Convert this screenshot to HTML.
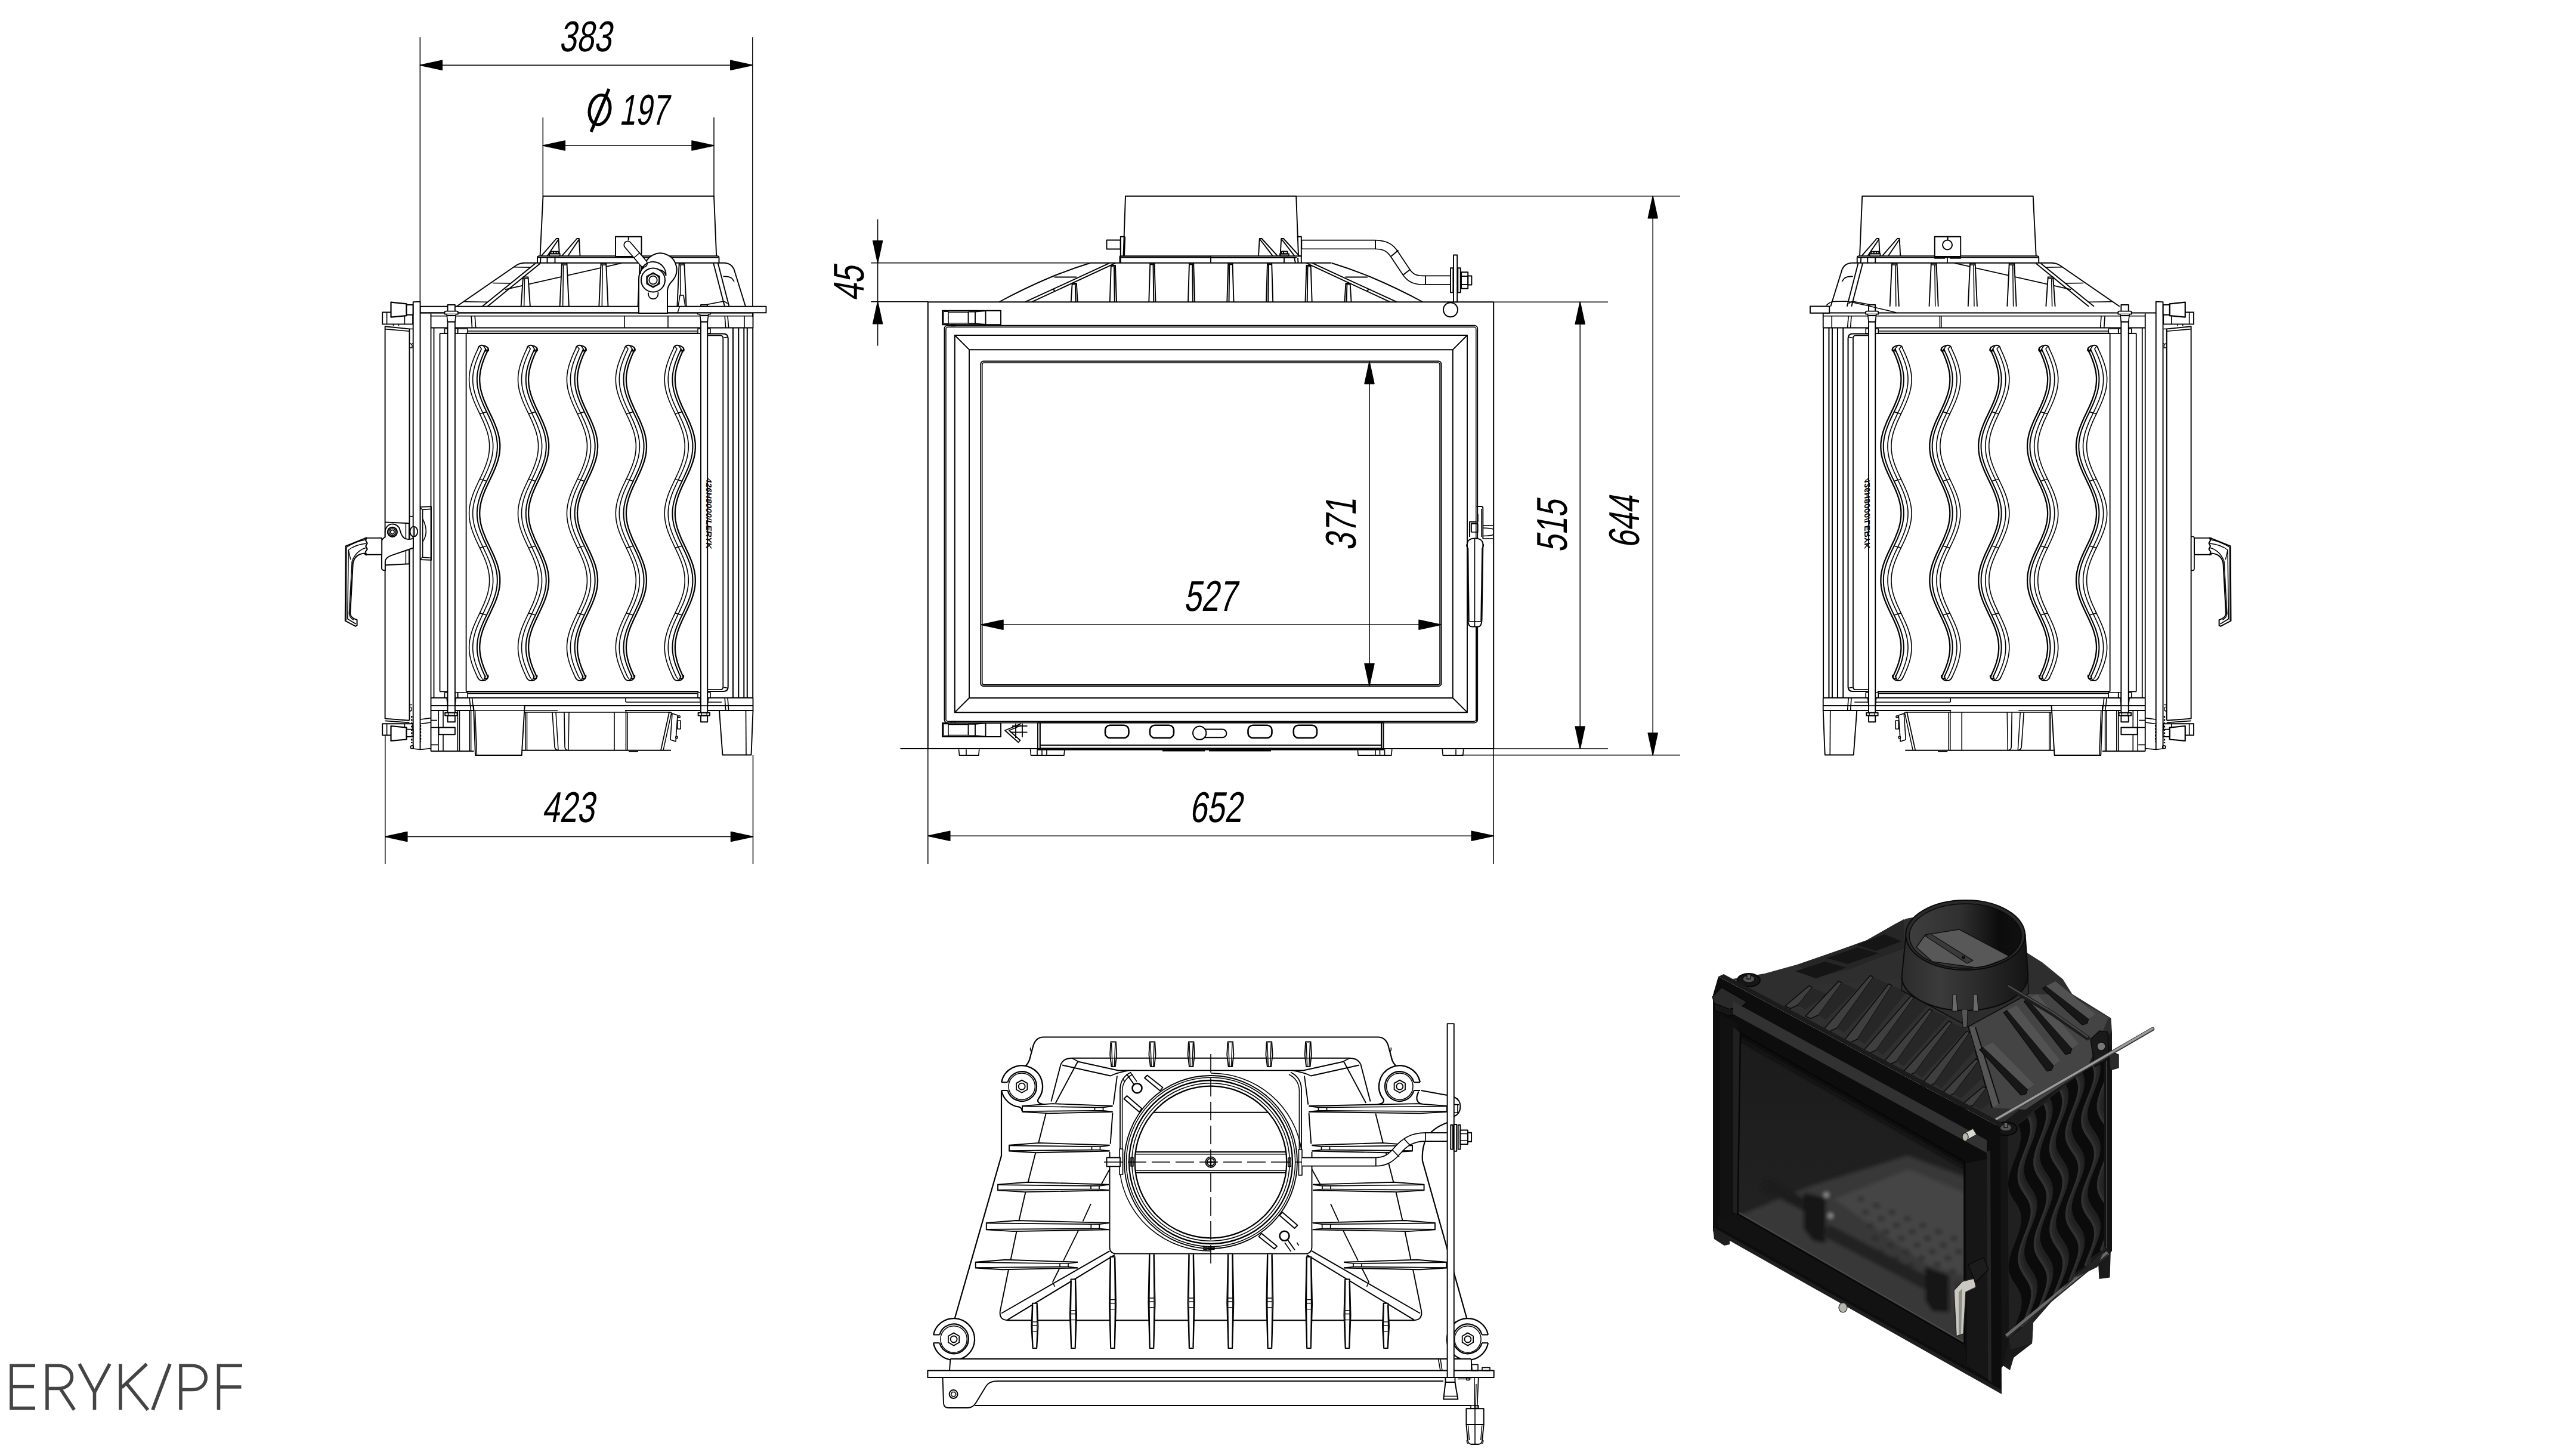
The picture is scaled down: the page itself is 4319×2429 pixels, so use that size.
<!DOCTYPE html>
<html><head><meta charset="utf-8"><title>ERYK/PF</title>
<style>
html,body{margin:0;padding:0;background:#fff;}
svg{display:block}
.t{font-family:"Liberation Sans",sans-serif;fill:#000;stroke:none}
.ln path,.ln rect,.ln circle,.ln ellipse{fill:none}
</style></head><body>
<svg width="4319" height="2429" viewBox="0 0 4319 2429" font-family="Liberation Sans, sans-serif">
<rect width="4319" height="2429" fill="#fff"/>
<g fill="none" stroke="#000" stroke-width="1.9" stroke-linecap="butt" stroke-linejoin="round">
<style>.dim path{stroke-width:1.5}</style>
<!-- dims -->
<g class="dim">
<path d="M704.3,62.3L704.3,513.0"/>
<path d="M1261.8,62.3L1261.8,531.0"/>
<path d="M704.3,109.2L1261.8,109.2"/>
<path d="M704.3,109.2L741.3,101.2L741.3,117.2Z" stroke-width="0.5" fill="#000"/>
<path d="M1261.8,109.2L1224.8,101.2L1224.8,117.2Z" stroke-width="0.5" fill="#000"/>
<path d="M910.3,196.8L910.3,329.0"/>
<path d="M1197.0,196.8L1197.0,329.0"/>
<path d="M910.3,243.9L1197.0,243.9"/>
<path d="M910.3,243.9L947.3,235.9L947.3,251.9Z" stroke-width="0.5" fill="#000"/>
<path d="M1197.0,243.9L1160.0,235.9L1160.0,251.9Z" stroke-width="0.5" fill="#000"/>
<path d="M645.8,1215.0L645.8,1448.0"/>
<path d="M1262.5,1266.0L1262.5,1448.0"/>
<path d="M645.8,1402.4L1262.5,1402.4"/>
<path d="M645.8,1402.4L682.8,1394.4L682.8,1410.4Z" stroke-width="0.5" fill="#000"/>
<path d="M1262.5,1402.4L1225.5,1394.4L1225.5,1410.4Z" stroke-width="0.5" fill="#000"/>
<path d="M1471.6,367.6L1471.6,579.6"/>
<path d="M1460.2,440.7L1828.0,440.7"/>
<path d="M1460.2,505.8L1556.0,505.8"/>
<path d="M1471.6,440.7L1463.6,403.7L1479.6,403.7Z" stroke-width="0.5" fill="#000"/>
<path d="M1471.6,505.8L1463.6,542.8L1479.6,542.8Z" stroke-width="0.5" fill="#000"/>
<path d="M1555.8,1255.0L1555.8,1448.0"/>
<path d="M2504.2,1255.0L2504.2,1448.0"/>
<path d="M1555.8,1401.2L2504.2,1401.2"/>
<path d="M1555.8,1401.2L1592.8,1393.2L1592.8,1409.2Z" stroke-width="0.5" fill="#000"/>
<path d="M2504.2,1401.2L2467.2,1393.2L2467.2,1409.2Z" stroke-width="0.5" fill="#000"/>
<path d="M2649.2,506.2L2649.2,1255.0"/>
<path d="M2504.0,506.2L2696.0,506.2"/>
<path d="M2504.0,1255.0L2696.0,1255.0"/>
<path d="M2649.2,506.2L2641.2,543.2L2657.2,543.2Z" stroke-width="0.5" fill="#000"/>
<path d="M2649.2,1255.0L2641.2,1218.0L2657.2,1218.0Z" stroke-width="0.5" fill="#000"/>
<path d="M2771.2,328.8L2771.2,1265.8"/>
<path d="M2173.0,328.8L2817.0,328.8"/>
<path d="M2450.0,1265.8L2817.0,1265.8"/>
<path d="M2771.2,328.8L2763.2,365.8L2779.2,365.8Z" stroke-width="0.5" fill="#000"/>
<path d="M2771.2,1265.8L2763.2,1228.8L2779.2,1228.8Z" stroke-width="0.5" fill="#000"/>
<path d="M2296.0,607.0L2296.0,1149.0"/>
<path d="M2296.0,606.5L2288.0,643.5L2304.0,643.5Z" stroke-width="0.5" fill="#000"/>
<path d="M2296.0,1149.5L2288.0,1112.5L2304.0,1112.5Z" stroke-width="0.5" fill="#000"/>
<path d="M1645.0,1047.2L2416.0,1047.2"/>
<path d="M1645.0,1047.2L1682.0,1039.2L1682.0,1055.2Z" stroke-width="0.5" fill="#000"/>
<path d="M2416.0,1047.2L2379.0,1039.2L2379.0,1055.2Z" stroke-width="0.5" fill="#000"/>
</g>
<text transform="matrix(0.728,0,-0.18,1,937.0,85.6)" font-size="72.3" class="t">383</text>
<text transform="matrix(0.675,0,-0.18,1,1038.0,208.8)" font-size="72.3" class="t">197</text>
<ellipse cx="1005.5" cy="184" rx="17" ry="25" transform="rotate(12 1005.5 184)" fill="none" stroke="#000" stroke-width="5.2"/>
<path d="M991.0,221.0L1021.0,149.0" stroke-width="5.2"/>
<text transform="matrix(0.728,0,-0.18,1,908.5,1377.5)" font-size="72.3" class="t">423</text>
<text transform="matrix(0.728,0,-0.18,1,1994.0,1378.2)" font-size="72.3" class="t">652</text>
<text transform="matrix(0.728,0,-0.18,1,1984.5,1024.0)" font-size="72.3" class="t">527</text>
<text transform="matrix(0,-0.728,1,0.18,1447.6,505.0)" font-size="72.3" class="t">45</text>
<text transform="matrix(0,-0.728,1,0.18,2626.5,926.5)" font-size="72.3" class="t">515</text>
<text transform="matrix(0,-0.728,1,0.18,2747.6,919.5)" font-size="72.3" class="t">644</text>
<text transform="matrix(0,-0.728,1,0.18,2272.7,923.5)" font-size="72.3" class="t">371</text>
<g fill="none" stroke="#444" stroke-width="5.6" stroke-linecap="butt" stroke-linejoin="miter">
<path d="M59,2289.2H19V2360.6H59M19,2324.5H57"/>
<path d="M79,2363.4V2289.2H98C128,2289.2 128,2327.5 98,2327.5H79M101,2327.5L124.5,2363.4"/>
<path d="M133,2286.3999999999996L158.5,2334L184,2286.3999999999996M158.5,2334V2363.4"/>
<path d="M202,2286.3999999999996V2363.4M246,2286.3999999999996L204,2326M212,2319L248,2363.4"/>
<path d="M285,2286.3999999999996L256,2363.4"/>
<path d="M303,2363.4V2289.2H322C353,2289.2 353,2329.5 322,2329.5H303"/>
<path d="M406,2289.2H366.5V2363.4M366.5,2325H404.5"/>
</g>
<!-- front -->
<path d="M1883.5,429.2L1887.0,328.8L2173.2,328.8L2177.0,429.2"/>
<path d="M1878.8,440.0L1878.8,396.8L1886.2,396.8"/>
<path d="M1886.2,396.8L1885.0,429.2"/>
<path d="M2174.5,396.8L2181.8,396.8L2181.8,440.0"/>
<path d="M2176.0,429.2L2181.8,429.2"/>
<rect x="1855.5" y="402.5" width="23.2" height="15.0"/>
<path d="M1877.5,429.2L2182.5,429.2"/>
<path d="M1879.0,431.5L2030.0,431.5"/>
<path d="M2030.0,432.0L2174.0,432.0"/>
<path d="M1877.5,429.2L1877.5,440.8"/>
<path d="M2030.0,429.2L2030.0,440.8"/>
<path d="M2153.0,432.0L2153.0,440.8"/>
<path d="M2170.0,432.0L2172.0,440.8"/>
<path d="M2176.0,432.0L2176.5,440.8"/>
<path d="M1827.5,440.8L2232.5,440.8"/>
<path d="M2110.0,429.2L2111.8,400.0L2115.5,400.0L2142.0,429.2"/>
<path d="M2112.7,401.5L2134.0,429.2"/>
<path d="M2146.5,429.2L2148.2,400.0L2152.0,400.0L2178.5,429.2"/>
<path d="M2149.2,401.5L2170.5,429.2"/>
<rect x="2146.0" y="425.5" width="15.0" height="3.8"/>
<rect x="2148.5" y="421.5" width="10.0" height="4.0"/>
<path d="M2152.0,421.5L2152.0,425.5"/>
<path d="M1827.5,441 Q1795.0,451 1762.0,464.5 Q1718.0,483 1675.0,506.25"/>
<path d="M1860.0,441.2L1718.8,506.2"/>
<path d="M1870.0,441.2L1730.0,506.2"/>
<path d="M1767.5,464.5L1805.0,464.5"/>
<path d="M1764.5,484.5L1768.5,487.3"/>
<path d="M2233.0,441 Q2265.5,451 2298.5,464.5 Q2342.5,483 2385.5,506.25"/>
<path d="M2200.5,441.2L2341.8,506.2"/>
<path d="M2190.5,441.2L2330.5,506.2"/>
<path d="M2293.0,464.5L2255.5,464.5"/>
<path d="M2296.0,484.5L2292.0,487.3"/>
<path d="M1795.7,506.2L1797.7,475.0L1804.8,475.0L1806.8,506.2"/>
<path d="M1802.8,477.0L1803.7,506.2"/>
<path d="M1797.7,477.0L1804.8,477.0" stroke-width="1.5"/>
<path d="M1860.8,506.2L1862.8,445.0L1870.0,445.0L1872.0,506.2"/>
<path d="M1868.0,447.0L1868.8,506.2"/>
<path d="M1862.8,447.0L1870.0,447.0" stroke-width="1.5"/>
<path d="M1926.3,506.2L1928.3,441.5L1935.5,441.5L1937.5,506.2"/>
<path d="M1933.5,443.5L1934.3,506.2"/>
<path d="M1928.3,443.5L1935.5,443.5" stroke-width="1.5"/>
<path d="M1992.0,506.2L1994.0,441.5L2001.2,441.5L2003.2,506.2"/>
<path d="M1999.2,443.5L2000.0,506.2"/>
<path d="M1994.0,443.5L2001.2,443.5" stroke-width="1.5"/>
<path d="M2057.3,506.2L2059.3,441.5L2066.5,441.5L2068.5,506.2"/>
<path d="M2061.3,443.5L2060.5,506.2"/>
<path d="M2059.3,443.5L2066.5,443.5" stroke-width="1.5"/>
<path d="M2123.0,506.2L2125.0,441.5L2132.2,441.5L2134.2,506.2"/>
<path d="M2127.0,443.5L2126.2,506.2"/>
<path d="M2125.0,443.5L2132.2,443.5" stroke-width="1.5"/>
<path d="M2188.5,506.2L2190.5,445.0L2197.7,445.0L2199.7,506.2"/>
<path d="M2192.5,447.0L2191.7,506.2"/>
<path d="M2190.5,447.0L2197.7,447.0" stroke-width="1.5"/>
<path d="M2254.4,506.2L2256.4,475.0L2263.6,475.0L2265.6,506.2"/>
<path d="M2258.4,477.0L2257.6,506.2"/>
<path d="M2256.4,477.0L2263.6,477.0" stroke-width="1.5"/>
<path d="M1555.8,506.2L1555.8,1255.0" stroke-width="2"/>
<path d="M2504.2,506.2L2504.2,1255.0" stroke-width="2"/>
<path d="M1555.8,506.2L2504.2,506.2"/>
<path d="M1509.5,1255.0L2504.2,1255.0"/>
<rect x="1583.5" y="545.8" width="893.7" height="665.8" rx="5"/>
<rect x="1586.0" y="548.2" width="888.8" height="661.0" stroke-width="1.5" rx="3.5"/>
<rect x="1600.8" y="562.0" width="859.2" height="632.2"/>
<rect x="1625.0" y="586.2" width="810.8" height="583.8"/>
<path d="M1600.8,562.0L1625.0,586.2"/>
<path d="M2460.0,562.0L2435.8,586.2"/>
<path d="M1600.8,1194.2L1625.0,1170.0"/>
<path d="M2460.0,1194.2L2435.8,1170.0"/>
<rect x="1644.3" y="605.5" width="772.1" height="544.7" rx="4.5"/>
<rect x="1646.8" y="608.0" width="767.2" height="539.8" stroke-width="1.5" rx="3"/>
<rect x="1580.0" y="520.8" width="98.0" height="23.5"/>
<rect x="1582.0" y="522.2" width="8.0" height="20.5" stroke-width="1.5"/>
<path d="M1590.0,523.2L1623.5,523.2" stroke-width="1.5"/>
<path d="M1590.0,541.8L1623.5,541.8" stroke-width="1.5"/>
<path d="M1623.5,522.8L1623.5,542.2"/>
<path d="M1635.0,522.8L1635.0,542.2"/>
<path d="M1652.5,521.2L1652.5,543.8"/>
<path d="M1635.0,522.8L1652.5,521.2" stroke-width="1.5"/>
<path d="M1635.0,542.2L1652.5,543.8" stroke-width="1.5"/>
<path d="M1623.5,522.8L1635.0,522.8" stroke-width="1.5"/>
<path d="M1623.5,542.2L1635.0,542.2" stroke-width="1.5"/>
<rect x="1580.0" y="1212.0" width="98.0" height="23.0"/>
<rect x="1582.0" y="1213.5" width="8.0" height="20.0" stroke-width="1.5"/>
<path d="M1590.0,1214.5L1623.5,1214.5" stroke-width="1.5"/>
<path d="M1590.0,1232.5L1623.5,1232.5" stroke-width="1.5"/>
<path d="M1623.5,1214.0L1623.5,1233.0"/>
<path d="M1635.0,1214.0L1635.0,1233.0"/>
<path d="M1652.5,1212.5L1652.5,1234.5"/>
<path d="M1635.0,1214.0L1652.5,1212.5" stroke-width="1.5"/>
<path d="M1635.0,1233.0L1652.5,1234.5" stroke-width="1.5"/>
<path d="M1623.5,1214.0L1635.0,1214.0" stroke-width="1.5"/>
<path d="M1623.5,1233.0L1635.0,1233.0" stroke-width="1.5"/>
<rect x="1594.5" y="544.2" width="7.5" height="2.2" stroke-width="1.5"/>
<rect x="1594.5" y="1209.5" width="7.5" height="2.5" stroke-width="1.5"/>
<path d="M1712.0,1213.0L1685.0,1224.5L1707.5,1244.5L1710.5,1241.0L1692.0,1224.5L1712.0,1216.0" stroke-width="1.8"/>
<path d="M1703.0,1213.0L1703.0,1237.0" stroke-width="1.8"/>
<path d="M1714.0,1213.0L1714.0,1236.0" stroke-width="1.8"/>
<path d="M1697.0,1217.0L1722.5,1217.0" stroke-width="1.8"/>
<path d="M1694.0,1227.5L1722.5,1227.5" stroke-width="1.8"/>
<rect x="1740.0" y="1211.2" width="579.5" height="45.5"/>
<path d="M1743.8,1211.2L1743.8,1256.8" stroke-width="2.2"/>
<path d="M2316.2,1211.2L2316.2,1256.8" stroke-width="2.2"/>
<path d="M1743.8,1249.2L2316.2,1249.2"/>
<path d="M1743.8,1254.2L2316.2,1254.2" stroke-width="1.5"/>
<path d="M1949.0,1258.3L2020.0,1258.3" stroke-width="2.4"/>
<path d="M2027.0,1258.3L2131.0,1258.3" stroke-width="2.4"/>
<rect x="1853.0" y="1215.8" width="39.5" height="21.2" stroke-width="2.6" rx="8"/>
<rect x="1928.0" y="1215.8" width="40.0" height="21.2" stroke-width="2.6" rx="8"/>
<rect x="2092.5" y="1215.8" width="40.0" height="21.2" stroke-width="2.6" rx="8"/>
<rect x="2168.8" y="1215.8" width="39.2" height="21.2" stroke-width="2.6" rx="8"/>
<path d="M2020,1222.5H2049.5A6.9,6.9 0 0 1 2049.5,1236.3H2020" stroke-width="2"/>
<circle cx="2011.2" cy="1228.8" r="11.2" stroke-width="2" fill="#fff"/>
<path d="M1607.5,1256.2L1608.5,1266.2L1640.8,1266.2L1641.8,1256.2" stroke-width="1.6"/>
<path d="M1620.0,1256.2L1620.0,1266.2" stroke-width="1.6"/>
<path d="M1727.5,1256.2L1728.5,1266.2L1784.0,1266.2L1785.0,1256.2" stroke-width="1.6"/>
<path d="M1739.0,1256.2L1739.0,1266.2" stroke-width="1.6"/>
<path d="M1747.0,1256.2L1747.0,1266.2" stroke-width="1.6"/>
<path d="M1755.0,1256.2L1755.0,1266.2" stroke-width="1.6"/>
<path d="M2276.2,1256.2L2277.2,1266.2L2332.8,1266.2L2333.8,1256.2" stroke-width="1.6"/>
<path d="M2306.0,1256.2L2306.0,1266.2" stroke-width="1.6"/>
<path d="M2313.5,1256.2L2313.5,1266.2" stroke-width="1.6"/>
<path d="M2321.5,1256.2L2321.5,1266.2" stroke-width="1.6"/>
<path d="M2418.2,1256.2L2419.2,1266.2L2452.8,1266.2L2453.8,1256.2" stroke-width="1.6"/>
<path d="M2441.0,1256.2L2441.0,1266.2" stroke-width="1.6"/>
<path d="M2182.3,409.9H2304C2322,409.9 2330.5,415 2337.8,426L2358.5,457C2366,467.5 2374,469.8 2390,469.8H2432" stroke-width="16.4" stroke-linecap="butt"/>
<path d="M2182.3,409.9H2304C2322,409.9 2330.5,415 2337.8,426L2358.5,457C2366,467.5 2374,469.8 2390,469.8H2432" stroke-width="13" stroke="#fff" stroke-linecap="butt"/>
<path d="M2182.3,402.5L2182.3,417.5"/>
<path d="M2306.0,402.5L2306.0,417.3"/>
<path d="M2344.5,419.5L2332.5,429.5"/>
<path d="M2364.5,451.5L2353.0,460.5"/>
<path d="M2390.0,462.5L2390.0,477.0"/>
<rect x="2437.0" y="427.5" width="6.2" height="78.8" fill="#fff"/>
<rect x="2432.0" y="449.2" width="4.4" height="41.2" fill="#fff"/>
<rect x="2444.3" y="449.2" width="4.4" height="41.2" fill="#fff"/>
<rect x="2450.0" y="456.2" width="11.2" height="27.5" fill="#fff"/>
<path d="M2450.0,463.0L2461.2,463.0"/>
<path d="M2450.0,477.0L2461.2,477.0"/>
<rect x="2461.2" y="462.5" width="6.2" height="15.0"/>
<circle cx="2432.0" cy="519.2" r="12.0" stroke-width="2"/>
<path d="M2475.5,849H2483.5Q2486.3,849 2486.3,852V903"/>
<path d="M2483.8,853.0L2483.8,900.0" stroke-width="1.5"/>
<path d="M2475.5,874.8L2464.0,874.8L2464.0,900.0"/>
<path d="M2466.5,877.5L2475.5,877.5" stroke-width="1.5"/>
<path d="M2466.5,877.5L2466.5,892.0" stroke-width="1.5"/>
<path d="M2478.0,862.0L2478.0,874.8" stroke-width="1.5"/>
<rect x="2467.0" y="878.0" width="10.8" height="14.0" stroke-width="1.5"/>
<path d="M2486.3,880.8H2503.4M2486.3,903H2503.4M2486.3,885Q2500,885.5 2503.4,887M2486.3,898.5Q2500,898 2503.4,896.5" stroke-width="1.6"/>
<path d="M2460,915C2459,905 2466,902.5 2472.5,902.5C2480,902.5 2487.5,905 2486.3,915L2484.5,1040Q2484,1050.5 2478,1050.5H2468Q2461.5,1050.5 2461.3,1040Z" stroke-width="2.0" fill="#fff"/>
<path d="M2461.5,918L2463,1041M2485,918L2483,1041" stroke-width="1.5"/>
<path d="M2472.5,902.5L2472.5,1050.5" stroke-width="1.6"/>
<path d="M2462.5,1042.0L2483.5,1042.0" stroke-width="1.6"/>
<path d="M2459.5,912Q2458,915 2460.5,918M2487,912Q2488,915 2486,918" stroke-width="1.6"/>
<path d="M2475.5,1050.5L2475.5,1209.0" stroke-width="1.5"/>
<!-- side -->
<g id="sideL">
<path d="M905.5,429.5L910.5,328.8L1197.0,328.8L1201.2,429.5"/>
<path d="M901,440.75V432Q901,429.25 904,429.25H1202.5Q1205.5,429.25 1205.5,432V440.75"/>
<path d="M902.0,431.8L1204.5,431.8" stroke-width="1.5"/>
<path d="M906.5,431.8L906.0,440.8"/>
<path d="M917.5,431.8L917.5,440.8"/>
<path d="M930.5,431.8L930.5,440.8"/>
<rect x="1032.0" y="396.8" width="43.5" height="33.2" fill="#fff"/>
<path d="M1053.7,396.8L1053.7,403.0"/>
<path d="M907.5,429.2L932.8,400.0L936.4,400.0L938.0,429.2"/>
<path d="M917.5,429.2L936.2,401.5"/>
<path d="M942.0,429.2L967.3,400.0L970.9,400.0L972.5,429.2"/>
<path d="M952.0,429.2L970.7,401.5"/>
<rect x="921.2" y="425.2" width="17.5" height="4.1" fill="#fff"/>
<rect x="923.5" y="421.8" width="13.0" height="3.4" fill="#fff"/>
<path d="M928.0,421.8L928.0,425.2"/>
<path d="M932.5,421.8L932.5,425.2"/>
<path d="M1215,440.75H880Q872,440.75 866,444.5L765.5,513.75"/>
<path d="M897.7,441.5L808.3,513.8"/>
<path d="M905.8,441.5L817.2,513.8"/>
<path d="M861.5,447.8L889.5,448.2" stroke-width="1.6"/>
<path d="M826.0,474.5L856.8,474.9" stroke-width="1.6"/>
<path d="M778.8,505.7L817.0,506.3" stroke-width="1.6"/>
<path d="M1215,440.75Q1226,441.5 1230.5,451L1250,513.75"/>
<path d="M1196.2,441.2L1215.0,513.8"/>
<path d="M1203.8,441.2L1222.5,513.8"/>
<path d="M1212.5,463.5Q1222,463 1227,466.5L1231,472" stroke-width="1.7"/>
<path d="M1175,512.5L1211,505.5Q1216,505 1219.5,509" stroke-width="1.7"/>
<path d="M1042.0,441.2L846.8,485.3" stroke-width="1.7"/>
<path d="M873.6,513.8L877.0,464.5L885.5,464.5L888.9,513.8" fill="#fff"/>
<path d="M879.6,467.0L878.6,513.8" stroke-width="1.5"/>
<path d="M877.0,467.0L885.5,467.0" stroke-width="1.5"/>
<path d="M938.6,513.8L942.0,441.5L950.5,441.5L953.9,513.8" fill="#fff"/>
<path d="M944.6,444.0L943.6,513.8" stroke-width="1.5"/>
<path d="M942.0,444.0L950.5,444.0" stroke-width="1.5"/>
<path d="M1004.3,513.8L1007.6,441.5L1016.2,441.5L1019.5,513.8" fill="#fff"/>
<path d="M1010.2,444.0L1009.3,513.8" stroke-width="1.5"/>
<path d="M1007.6,444.0L1016.2,444.0" stroke-width="1.5"/>
<path d="M1069.5,513.8L1072.8,441.5L1081.4,441.5L1084.7,513.8" fill="#fff"/>
<path d="M1075.4,444.0L1074.5,513.8" stroke-width="1.5"/>
<path d="M1072.8,444.0L1081.4,444.0" stroke-width="1.5"/>
<path d="M1135.4,513.8L1138.7,441.5L1147.3,441.5L1150.6,513.8" fill="#fff"/>
<path d="M1141.3,444.0L1140.4,513.8" stroke-width="1.5"/>
<path d="M1138.7,444.0L1147.3,444.0" stroke-width="1.5"/>
<path d="M1137.0,513.8L1140.0,495.0L1146.0,495.0L1149.0,513.8" stroke-width="1.6" fill="#fff"/>
<path d="M704.5,524.5L1262.5,524.5"/>
<path d="M722.5,529.7H1262.5" stroke-width="1.6"/>
<path d="M722.5,525.5L722.5,549.6"/>
<path d="M722.5,549.6L1262.5,549.6" stroke-width="2"/>
<path d="M1262.5,524.5L1262.5,549.6"/>
<path d="M790.2,529.7L791.5,549.6" stroke-width="1.6"/>
<path d="M796.2,529.7L797.7,549.6" stroke-width="1.6"/>
<path d="M1047.0,529.7L1047.0,549.6" stroke-width="1.6"/>
<path d="M1120.0,529.7L1120.0,549.6" stroke-width="1.6"/>
<path d="M1215.2,529.7L1216.7,549.6" stroke-width="1.6"/>
<path d="M1220.0,529.7L1221.7,549.6" stroke-width="1.6"/>
<path d="M1248.0,529.7L1248.0,549.6" stroke-width="1.6"/>
<path d="M781.6,558.9L1171.0,558.9" stroke-width="2.4"/>
<path d="M784.0,555.0L1169.0,555.0" stroke-width="1.5"/>
<rect x="745.5" y="551.0" width="5.0" height="7.9" stroke-width="1.6"/>
<rect x="762.9" y="551.0" width="4.6" height="7.9" stroke-width="1.6"/>
<rect x="767.5" y="551.0" width="16.5" height="7.9" stroke-width="1.6"/>
<rect x="1186.2" y="551.0" width="4.8" height="7.9" stroke-width="1.6"/>
<rect x="1170.0" y="551.0" width="5.0" height="7.9" stroke-width="1.6"/>
<path d="M722.5,549.6L722.5,1169.8" stroke-width="1.8"/>
<path d="M727.5,549.6L727.5,1169.8" stroke-width="1.8"/>
<path d="M737.5,558.9L737.5,1159.3" stroke-width="1.8"/>
<path d="M781.6,558.9L781.6,1159.3" stroke-width="1.8"/>
<path d="M737.5,558.9L750.5,558.9"/>
<path d="M737.5,1159.3L750.5,1159.3"/>
<path d="M1229.0,549.6L1229.0,1169.8" stroke-width="2.0"/>
<path d="M1238.3,549.6L1238.3,1169.8" stroke-width="2.0"/>
<path d="M1247.3,549.6L1247.3,1169.8" stroke-width="2.0"/>
<path d="M1252.8,549.6L1252.8,1169.8" stroke-width="2.0"/>
<path d="M1262.2,549.6L1262.2,1169.8" stroke-width="2.0"/>
<path d="M1186.5,559.4H1213Q1220.7,559.4 1220.7,567V1151.5Q1220.7,1159 1213,1159H1186.5" stroke-width="2.0"/>
<path d="M1186.5,562.3H1208Q1212.3,562.5 1212.3,567V1151.5Q1212.3,1156 1208,1156.2H1186.5" stroke-width="1.8"/>
<path d="M1213.5,566.3L1220.5,565.0" stroke-width="1.6"/>
<path d="M1213.5,1152.2L1220.5,1153.5" stroke-width="1.6"/>
<path d="M781.6,1159.3L1171.2,1159.3" stroke-width="2.4"/>
<path d="M784.0,1162.5L1169.0,1162.5" stroke-width="1.5"/>
<path d="M722.5,1169.8L1262.5,1169.8" stroke-width="2"/>
<path d="M722.5,1169.8L722.5,1259.3"/>
<path d="M722.5,1182.9L794.0,1182.9" stroke-width="1.6"/>
<path d="M722.5,1191.0L794.0,1191.0"/>
<path d="M1049.0,1169.8L1049.0,1177.0" stroke-width="1.6"/>
<path d="M1049.0,1177.0L1210.0,1177.0" stroke-width="1.6"/>
<path d="M794.0,1182.9L1262.5,1182.9" stroke-width="1.6"/>
<path d="M1048.0,1191.0L1262.5,1191.0"/>
<rect x="745.5" y="1161.0" width="5.0" height="8.8" stroke-width="1.6"/>
<rect x="762.9" y="1161.0" width="4.6" height="8.8" stroke-width="1.6"/>
<rect x="767.5" y="1161.0" width="16.5" height="8.8" stroke-width="1.6"/>
<rect x="1186.2" y="1161.0" width="4.8" height="8.8" stroke-width="1.6"/>
<rect x="1170.0" y="1161.0" width="5.0" height="8.8" stroke-width="1.6"/>
<path d="M787.0,1169.8L789.5,1191.0" stroke-width="1.6"/>
<path d="M791.5,1169.8L794.0,1191.0" stroke-width="1.6"/>
<path d="M1215.2,1169.8L1216.7,1191.0" stroke-width="1.6"/>
<path d="M1220.0,1169.8L1221.7,1191.0" stroke-width="1.6"/>
<path d="M1206.0,1191.0L1211.5,1265.5L1259.5,1265.5L1262.5,1191.0"/>
<path d="M1250.5,1191.0L1251.0,1265.5" stroke-width="1.6"/>
<path d="M1262.5,1169.8L1262.5,1191.0"/>
<path d="M722.5,1259.3L794.5,1259.3"/>
<path d="M794.0,1182.9L797.0,1266.0L874.7,1266.0L879.7,1182.9" fill="#fff"/>
<path d="M794.0,1191.0L879.7,1191.0" stroke-width="1.6"/>
<path d="M796.5,1191.0L799.5,1266.0" stroke-width="1.5"/>
<path d="M879.7,1182.9L1048.0,1182.9"/>
<path d="M876.0,1257.8L1125.0,1257.8"/>
<path d="M883.5,1194.0L883.5,1257.8" stroke-width="1.5"/>
<path d="M881.0,1194.0L881.0,1257.8" stroke-width="1.5"/>
<path d="M879.0,1191.0L935.0,1191.0" stroke-width="1.6"/>
<path d="M879.0,1194.0L1120.0,1194.0" stroke-width="1.6"/>
<path d="M926,1194L930,1252Q931,1257.8 936,1257.8" stroke-width="1.6"/>
<path d="M932.0,1194.0L936.0,1257.8" stroke-width="1.5"/>
<path d="M946,1194L947,1252Q947.5,1257.8 953,1257.8" stroke-width="1.6"/>
<path d="M954.0,1194.0L953.0,1257.8" stroke-width="1.5"/>
<path d="M1030.0,1194.0L1030.0,1257.8" stroke-width="1.6"/>
<path d="M1049.5,1191.0L1049.5,1257.8" stroke-width="1.6"/>
<path d="M1052.0,1194.0L1052.0,1257.8" stroke-width="1.5"/>
<path d="M1122.0,1194.0L1108.0,1257.8" stroke-width="1.7"/>
<path d="M1126.0,1194.0L1112.0,1257.8" stroke-width="1.5"/>
<path d="M1120.0,1194.0L1125.0,1194.0"/>
<path d="M1127.0,1196.0L1136.0,1199.0L1133.0,1243.0L1124.0,1240.0Z" stroke-width="1.6"/>
<rect x="1136.0" y="1208.0" width="5.0" height="14.0" stroke-width="1.6"/>
<circle cx="1138.5" cy="1201.5" r="1.8" stroke-width="1.5"/>
<circle cx="1134.5" cy="1236.0" r="1.8" stroke-width="1.5"/>
<path d="M1054.0,1259.8L1070.0,1259.8" stroke-width="1.7"/>
<path d="M735.3,1191.0L735.0,1259.3" stroke-width="1.6"/>
<path d="M743.0,1191.0L743.0,1259.3" stroke-width="1.6"/>
<rect x="735.6" y="1219.5" width="27.3" height="11.8" fill="#fff"/>
<path d="M767.3,1191.0L767.3,1259.3" stroke-width="1.6"/>
<path d="M770.4,1191.0L770.4,1259.3" stroke-width="1.6"/>
<path d="M787.1,1191.0L787.1,1259.3" stroke-width="1.6"/>
<path d="M789.6,1191.0L789.6,1259.3" stroke-width="1.6"/>
<path d="M722.5,1207.5L733.0,1207.5" stroke-width="1.6"/>
<path d="M722.5,1219.5L735.6,1219.5" stroke-width="1.6"/>
<path d="M722.5,1248.5L734.0,1248.5" stroke-width="1.6"/>
<rect x="1175.0" y="511.0" width="11.2" height="699.2" fill="#fff"/>
<path d="M1170.0,526.6V523.5Q1170.0,521.6 1172.0,521.6H1189.2Q1191.2,521.6 1191.2,523.5V526.6Z" fill="#fff"/>
<path d="M1173.5,526.6L1175.0,539.5L1186.2,539.5L1187.8,526.6" stroke-width="1.6" fill="#fff"/>
<path d="M1174.2,529.0L1187.0,529.0" stroke-width="2.2"/>
<path d="M1175.0,539.5L1186.2,539.5"/>
<rect x="1170.6" y="1194.7" width="19.4" height="4.9" fill="#fff"/>
<path d="M1176.0,1194.7L1176.0,1199.6" stroke-width="1.5"/>
<path d="M1185.2,1194.7L1185.2,1199.6" stroke-width="1.5"/>
<path d="M1173.5,1169.8L1175.0,1182.9L1186.2,1182.9L1187.8,1169.8" stroke-width="1.5"/>
<path d="M1175.0,1199.6L1186.2,1199.6"/>
<rect x="704.5" y="513.8" width="580.0" height="10.5" fill="#fff"/>
<rect x="750.5" y="511.0" width="12.4" height="699.2" fill="#fff"/>
<path d="M745.5,526.6V523.5Q745.5,521.6 747.5,521.6H765.9Q767.9,521.6 767.9,523.5V526.6Z" fill="#fff"/>
<path d="M749.0,526.6L750.5,539.5L762.9,539.5L764.4,526.6" stroke-width="1.6" fill="#fff"/>
<path d="M749.7,529.0L763.7,529.0" stroke-width="2.2"/>
<path d="M750.5,539.5L762.9,539.5"/>
<rect x="746.1" y="1194.7" width="20.5" height="4.9" fill="#fff"/>
<path d="M751.5,1194.7L751.5,1199.6" stroke-width="1.5"/>
<path d="M761.9,1194.7L761.9,1199.6" stroke-width="1.5"/>
<path d="M749.0,1169.8L750.5,1182.9L762.9,1182.9L764.4,1169.8" stroke-width="1.5"/>
<path d="M750.5,1199.6L762.9,1199.6"/>
<path d="M801.5,584.5L798.6,590.6L795.9,596.7L793.5,602.9L791.3,609.0L789.5,615.1L788.1,621.2L787.1,627.4L786.6,633.5L786.7,639.6L787.2,645.7L788.2,651.8L789.7,658.0L791.6,664.1L793.8,670.2L796.3,676.3L799.0,682.5L801.9,688.6L804.8,694.7L807.7,700.8L810.5,706.9L813.0,713.1L815.3,719.2L817.3,725.3L818.8,731.4L819.9,737.6L820.6,743.7L820.7,749.8L820.3,755.9L819.5,762.0L818.2,768.2L816.4,774.3L814.3,780.4L811.9,786.5L809.2,792.7L806.4,798.8L803.5,804.9L800.6,811.0L797.8,817.1L795.1,823.3L792.7,829.4L790.7,835.5L789.0,841.6L787.7,847.8L786.9,853.9L786.6,860.0L786.8,866.1L787.5,872.2L788.6,878.4L790.2,884.5L792.2,890.6L794.6,896.7L797.1,902.9L799.9,909.0L802.8,915.1L805.7,921.2L808.6,927.3L811.3,933.5L813.8,939.6L816.0,945.7L817.8,951.8L819.2,958.0L820.2,964.1L820.6,970.2L820.6,976.3L820.1,982.4L819.1,988.6L817.7,994.7L815.8,1000.8L813.6,1006.9L811.1,1013.1L808.3,1019.2L805.5,1025.3L802.6,1031.4L799.7,1037.5L796.9,1043.7L794.3,1049.8L792.0,1055.9L790.1,1062.0L788.5,1068.2L787.4,1074.3L786.8,1080.4L786.6,1086.5L787.0,1092.6L787.8,1098.8L789.1,1104.9L790.8,1111.0L792.9,1117.1L795.3,1123.3L798.0,1129.4L800.8,1135.5" stroke-width="1.6"/>
<path d="M807.5,584.5L804.6,590.6L801.9,596.7L799.5,602.9L797.3,609.0L795.5,615.1L794.1,621.2L793.1,627.4L792.6,633.5L792.7,639.6L793.2,645.7L794.2,651.8L795.7,658.0L797.6,664.1L799.8,670.2L802.3,676.3L805.0,682.5L807.9,688.6L810.8,694.7L813.7,700.8L816.5,706.9L819.0,713.1L821.3,719.2L823.3,725.3L824.8,731.4L825.9,737.6L826.6,743.7L826.7,749.8L826.3,755.9L825.5,762.0L824.2,768.2L822.4,774.3L820.3,780.4L817.9,786.5L815.2,792.7L812.4,798.8L809.5,804.9L806.6,811.0L803.8,817.1L801.1,823.3L798.7,829.4L796.7,835.5L795.0,841.6L793.7,847.8L792.9,853.9L792.6,860.0L792.8,866.1L793.5,872.2L794.6,878.4L796.2,884.5L798.2,890.6L800.6,896.7L803.1,902.9L805.9,909.0L808.8,915.1L811.7,921.2L814.6,927.3L817.3,933.5L819.8,939.6L822.0,945.7L823.8,951.8L825.2,958.0L826.2,964.1L826.6,970.2L826.6,976.3L826.1,982.4L825.1,988.6L823.7,994.7L821.8,1000.8L819.6,1006.9L817.1,1013.1L814.3,1019.2L811.5,1025.3L808.6,1031.4L805.7,1037.5L802.9,1043.7L800.3,1049.8L798.0,1055.9L796.1,1062.0L794.5,1068.2L793.4,1074.3L792.8,1080.4L792.6,1086.5L793.0,1092.6L793.8,1098.8L795.1,1104.9L796.8,1111.0L798.9,1117.1L801.3,1123.3L804.0,1129.4L806.8,1135.5" stroke-width="1.6"/>
<path d="M814.7,584.5L811.8,590.6L809.1,596.7L806.7,602.9L804.5,609.0L802.7,615.1L801.3,621.2L800.3,627.4L799.8,633.5L799.9,639.6L800.4,645.7L801.4,651.8L802.9,658.0L804.8,664.1L807.0,670.2L809.5,676.3L812.2,682.5L815.1,688.6L818.0,694.7L820.9,700.8L823.7,706.9L826.2,713.1L828.5,719.2L830.5,725.3L832.0,731.4L833.1,737.6L833.8,743.7L833.9,749.8L833.5,755.9L832.7,762.0L831.4,768.2L829.6,774.3L827.5,780.4L825.1,786.5L822.4,792.7L819.6,798.8L816.7,804.9L813.8,811.0L811.0,817.1L808.3,823.3L805.9,829.4L803.9,835.5L802.2,841.6L800.9,847.8L800.1,853.9L799.8,860.0L800.0,866.1L800.7,872.2L801.8,878.4L803.4,884.5L805.4,890.6L807.8,896.7L810.3,902.9L813.1,909.0L816.0,915.1L818.9,921.2L821.8,927.3L824.5,933.5L827.0,939.6L829.2,945.7L831.0,951.8L832.4,958.0L833.4,964.1L833.8,970.2L833.8,976.3L833.3,982.4L832.3,988.6L830.9,994.7L829.0,1000.8L826.8,1006.9L824.3,1013.1L821.5,1019.2L818.7,1025.3L815.8,1031.4L812.9,1037.5L810.1,1043.7L807.5,1049.8L805.2,1055.9L803.3,1062.0L801.7,1068.2L800.6,1074.3L800.0,1080.4L799.8,1086.5L800.2,1092.6L801.0,1098.8L802.3,1104.9L804.0,1111.0L806.1,1117.1L808.5,1123.3L811.2,1129.4L814.0,1135.5" stroke-width="2.0"/>
<path d="M819.1,584.5L816.2,590.6L813.5,596.7L811.1,602.9L808.9,609.0L807.1,615.1L805.7,621.2L804.7,627.4L804.2,633.5L804.3,639.6L804.8,645.7L805.8,651.8L807.3,658.0L809.2,664.1L811.4,670.2L813.9,676.3L816.6,682.5L819.5,688.6L822.4,694.7L825.3,700.8L828.1,706.9L830.6,713.1L832.9,719.2L834.9,725.3L836.4,731.4L837.5,737.6L838.2,743.7L838.3,749.8L837.9,755.9L837.1,762.0L835.8,768.2L834.0,774.3L831.9,780.4L829.5,786.5L826.8,792.7L824.0,798.8L821.1,804.9L818.2,811.0L815.4,817.1L812.7,823.3L810.3,829.4L808.3,835.5L806.6,841.6L805.3,847.8L804.5,853.9L804.2,860.0L804.4,866.1L805.1,872.2L806.2,878.4L807.8,884.5L809.8,890.6L812.2,896.7L814.7,902.9L817.5,909.0L820.4,915.1L823.3,921.2L826.2,927.3L828.9,933.5L831.4,939.6L833.6,945.7L835.4,951.8L836.8,958.0L837.8,964.1L838.2,970.2L838.2,976.3L837.7,982.4L836.7,988.6L835.3,994.7L833.4,1000.8L831.2,1006.9L828.7,1013.1L825.9,1019.2L823.1,1025.3L820.2,1031.4L817.3,1037.5L814.5,1043.7L811.9,1049.8L809.6,1055.9L807.7,1062.0L806.1,1068.2L805.0,1074.3L804.4,1080.4L804.2,1086.5L804.6,1092.6L805.4,1098.8L806.7,1104.9L808.4,1111.0L810.5,1117.1L812.9,1123.3L815.6,1129.4L818.4,1135.5" stroke-width="2.3"/>
<path d="M803.7,693.8L816.9,690.2" stroke-width="1.5"/>
<path d="M803.7,803.1L816.9,806.6" stroke-width="1.5"/>
<path d="M803.7,918.4L816.9,914.9" stroke-width="1.5"/>
<path d="M803.7,1027.7L816.9,1031.2" stroke-width="1.5"/>
<path d="M801.5,585.0C801.8,580.0 805.8,578.0 809.8,579.0C815.3,580.0 819.8,582.5 819.1,588.5" stroke-width="1.9"/>
<path d="M804.3,581.0L807.5,585.0M809.8,579.0L813.3,583.5L814.7,589.5M813.3,583.5L817.3,590.0L818.8,586.0" stroke-width="1.4"/>
<path d="M800.8,1135.0C801.6,1139.0 805.6,1141.5 810.6,1141.0C815.6,1140.0 819.6,1136.5 818.4,1131.5" stroke-width="1.9"/>
<path d="M806.8,1135.0L810.6,1141.0M814.0,1132.5L812.1,1137.0L816.6,1137.5L818.2,1132.5M812.1,1137.0L810.6,1141.0" stroke-width="1.4"/>
<path d="M883.4,584.5L880.5,590.6L877.8,596.7L875.4,602.9L873.2,609.0L871.4,615.1L870.0,621.2L869.0,627.4L868.5,633.5L868.6,639.6L869.1,645.7L870.1,651.8L871.6,658.0L873.5,664.1L875.7,670.2L878.2,676.3L880.9,682.5L883.8,688.6L886.7,694.7L889.6,700.8L892.4,706.9L894.9,713.1L897.2,719.2L899.2,725.3L900.7,731.4L901.8,737.6L902.5,743.7L902.6,749.8L902.2,755.9L901.4,762.0L900.1,768.2L898.3,774.3L896.2,780.4L893.8,786.5L891.1,792.7L888.3,798.8L885.4,804.9L882.5,811.0L879.7,817.1L877.0,823.3L874.6,829.4L872.6,835.5L870.9,841.6L869.6,847.8L868.8,853.9L868.5,860.0L868.7,866.1L869.4,872.2L870.5,878.4L872.1,884.5L874.1,890.6L876.5,896.7L879.0,902.9L881.8,909.0L884.7,915.1L887.6,921.2L890.5,927.3L893.2,933.5L895.7,939.6L897.9,945.7L899.7,951.8L901.1,958.0L902.1,964.1L902.5,970.2L902.5,976.3L902.0,982.4L901.0,988.6L899.6,994.7L897.7,1000.8L895.5,1006.9L893.0,1013.1L890.2,1019.2L887.4,1025.3L884.5,1031.4L881.6,1037.5L878.8,1043.7L876.2,1049.8L873.9,1055.9L872.0,1062.0L870.4,1068.2L869.3,1074.3L868.7,1080.4L868.5,1086.5L868.9,1092.6L869.7,1098.8L871.0,1104.9L872.7,1111.0L874.8,1117.1L877.2,1123.3L879.9,1129.4L882.7,1135.5" stroke-width="1.6"/>
<path d="M889.4,584.5L886.5,590.6L883.8,596.7L881.4,602.9L879.2,609.0L877.4,615.1L876.0,621.2L875.0,627.4L874.5,633.5L874.6,639.6L875.1,645.7L876.1,651.8L877.6,658.0L879.5,664.1L881.7,670.2L884.2,676.3L886.9,682.5L889.8,688.6L892.7,694.7L895.6,700.8L898.4,706.9L900.9,713.1L903.2,719.2L905.2,725.3L906.7,731.4L907.8,737.6L908.5,743.7L908.6,749.8L908.2,755.9L907.4,762.0L906.1,768.2L904.3,774.3L902.2,780.4L899.8,786.5L897.1,792.7L894.3,798.8L891.4,804.9L888.5,811.0L885.7,817.1L883.0,823.3L880.6,829.4L878.6,835.5L876.9,841.6L875.6,847.8L874.8,853.9L874.5,860.0L874.7,866.1L875.4,872.2L876.5,878.4L878.1,884.5L880.1,890.6L882.5,896.7L885.0,902.9L887.8,909.0L890.7,915.1L893.6,921.2L896.5,927.3L899.2,933.5L901.7,939.6L903.9,945.7L905.7,951.8L907.1,958.0L908.1,964.1L908.5,970.2L908.5,976.3L908.0,982.4L907.0,988.6L905.6,994.7L903.7,1000.8L901.5,1006.9L899.0,1013.1L896.2,1019.2L893.4,1025.3L890.5,1031.4L887.6,1037.5L884.8,1043.7L882.2,1049.8L879.9,1055.9L878.0,1062.0L876.4,1068.2L875.3,1074.3L874.7,1080.4L874.5,1086.5L874.9,1092.6L875.7,1098.8L877.0,1104.9L878.7,1111.0L880.8,1117.1L883.2,1123.3L885.9,1129.4L888.7,1135.5" stroke-width="1.6"/>
<path d="M896.6,584.5L893.7,590.6L891.0,596.7L888.6,602.9L886.4,609.0L884.6,615.1L883.2,621.2L882.2,627.4L881.7,633.5L881.8,639.6L882.3,645.7L883.3,651.8L884.8,658.0L886.7,664.1L888.9,670.2L891.4,676.3L894.1,682.5L897.0,688.6L899.9,694.7L902.8,700.8L905.6,706.9L908.1,713.1L910.4,719.2L912.4,725.3L913.9,731.4L915.0,737.6L915.7,743.7L915.8,749.8L915.4,755.9L914.6,762.0L913.3,768.2L911.5,774.3L909.4,780.4L907.0,786.5L904.3,792.7L901.5,798.8L898.6,804.9L895.7,811.0L892.9,817.1L890.2,823.3L887.8,829.4L885.8,835.5L884.1,841.6L882.8,847.8L882.0,853.9L881.7,860.0L881.9,866.1L882.6,872.2L883.7,878.4L885.3,884.5L887.3,890.6L889.7,896.7L892.2,902.9L895.0,909.0L897.9,915.1L900.8,921.2L903.7,927.3L906.4,933.5L908.9,939.6L911.1,945.7L912.9,951.8L914.3,958.0L915.3,964.1L915.7,970.2L915.7,976.3L915.2,982.4L914.2,988.6L912.8,994.7L910.9,1000.8L908.7,1006.9L906.2,1013.1L903.4,1019.2L900.6,1025.3L897.7,1031.4L894.8,1037.5L892.0,1043.7L889.4,1049.8L887.1,1055.9L885.2,1062.0L883.6,1068.2L882.5,1074.3L881.9,1080.4L881.7,1086.5L882.1,1092.6L882.9,1098.8L884.2,1104.9L885.9,1111.0L888.0,1117.1L890.4,1123.3L893.1,1129.4L895.9,1135.5" stroke-width="2.0"/>
<path d="M901.0,584.5L898.1,590.6L895.4,596.7L893.0,602.9L890.8,609.0L889.0,615.1L887.6,621.2L886.6,627.4L886.1,633.5L886.2,639.6L886.7,645.7L887.7,651.8L889.2,658.0L891.1,664.1L893.3,670.2L895.8,676.3L898.5,682.5L901.4,688.6L904.3,694.7L907.2,700.8L910.0,706.9L912.5,713.1L914.8,719.2L916.8,725.3L918.3,731.4L919.4,737.6L920.1,743.7L920.2,749.8L919.8,755.9L919.0,762.0L917.7,768.2L915.9,774.3L913.8,780.4L911.4,786.5L908.7,792.7L905.9,798.8L903.0,804.9L900.1,811.0L897.3,817.1L894.6,823.3L892.2,829.4L890.2,835.5L888.5,841.6L887.2,847.8L886.4,853.9L886.1,860.0L886.3,866.1L887.0,872.2L888.1,878.4L889.7,884.5L891.7,890.6L894.1,896.7L896.6,902.9L899.4,909.0L902.3,915.1L905.2,921.2L908.1,927.3L910.8,933.5L913.3,939.6L915.5,945.7L917.3,951.8L918.7,958.0L919.7,964.1L920.1,970.2L920.1,976.3L919.6,982.4L918.6,988.6L917.2,994.7L915.3,1000.8L913.1,1006.9L910.6,1013.1L907.8,1019.2L905.0,1025.3L902.1,1031.4L899.2,1037.5L896.4,1043.7L893.8,1049.8L891.5,1055.9L889.6,1062.0L888.0,1068.2L886.9,1074.3L886.3,1080.4L886.1,1086.5L886.5,1092.6L887.3,1098.8L888.6,1104.9L890.3,1111.0L892.4,1117.1L894.8,1123.3L897.5,1129.4L900.3,1135.5" stroke-width="2.3"/>
<path d="M885.6,693.8L898.8,690.2" stroke-width="1.5"/>
<path d="M885.6,803.1L898.8,806.6" stroke-width="1.5"/>
<path d="M885.6,918.4L898.8,914.9" stroke-width="1.5"/>
<path d="M885.6,1027.7L898.8,1031.2" stroke-width="1.5"/>
<path d="M883.4,585.0C883.7,580.0 887.7,578.0 891.7,579.0C897.2,580.0 901.7,582.5 901.0,588.5" stroke-width="1.9"/>
<path d="M886.2,581.0L889.4,585.0M891.7,579.0L895.2,583.5L896.6,589.5M895.2,583.5L899.2,590.0L900.7,586.0" stroke-width="1.4"/>
<path d="M882.7,1135.0C883.5,1139.0 887.5,1141.5 892.5,1141.0C897.5,1140.0 901.5,1136.5 900.3,1131.5" stroke-width="1.9"/>
<path d="M888.7,1135.0L892.5,1141.0M895.9,1132.5L894.0,1137.0L898.5,1137.5L900.1,1132.5M894.0,1137.0L892.5,1141.0" stroke-width="1.4"/>
<path d="M965.3,584.5L962.4,590.6L959.7,596.7L957.3,602.9L955.1,609.0L953.3,615.1L951.9,621.2L950.9,627.4L950.4,633.5L950.5,639.6L951.0,645.7L952.0,651.8L953.5,658.0L955.4,664.1L957.6,670.2L960.1,676.3L962.8,682.5L965.7,688.6L968.6,694.7L971.5,700.8L974.3,706.9L976.8,713.1L979.1,719.2L981.1,725.3L982.6,731.4L983.7,737.6L984.4,743.7L984.5,749.8L984.1,755.9L983.3,762.0L982.0,768.2L980.2,774.3L978.1,780.4L975.7,786.5L973.0,792.7L970.2,798.8L967.3,804.9L964.4,811.0L961.6,817.1L958.9,823.3L956.5,829.4L954.5,835.5L952.8,841.6L951.5,847.8L950.7,853.9L950.4,860.0L950.6,866.1L951.3,872.2L952.4,878.4L954.0,884.5L956.0,890.6L958.4,896.7L960.9,902.9L963.7,909.0L966.6,915.1L969.5,921.2L972.4,927.3L975.1,933.5L977.6,939.6L979.8,945.7L981.6,951.8L983.0,958.0L984.0,964.1L984.4,970.2L984.4,976.3L983.9,982.4L982.9,988.6L981.5,994.7L979.6,1000.8L977.4,1006.9L974.9,1013.1L972.1,1019.2L969.3,1025.3L966.4,1031.4L963.5,1037.5L960.7,1043.7L958.1,1049.8L955.8,1055.9L953.9,1062.0L952.3,1068.2L951.2,1074.3L950.6,1080.4L950.4,1086.5L950.8,1092.6L951.6,1098.8L952.9,1104.9L954.6,1111.0L956.7,1117.1L959.1,1123.3L961.8,1129.4L964.6,1135.5" stroke-width="1.6"/>
<path d="M971.3,584.5L968.4,590.6L965.7,596.7L963.3,602.9L961.1,609.0L959.3,615.1L957.9,621.2L956.9,627.4L956.4,633.5L956.5,639.6L957.0,645.7L958.0,651.8L959.5,658.0L961.4,664.1L963.6,670.2L966.1,676.3L968.8,682.5L971.7,688.6L974.6,694.7L977.5,700.8L980.3,706.9L982.8,713.1L985.1,719.2L987.1,725.3L988.6,731.4L989.7,737.6L990.4,743.7L990.5,749.8L990.1,755.9L989.3,762.0L988.0,768.2L986.2,774.3L984.1,780.4L981.7,786.5L979.0,792.7L976.2,798.8L973.3,804.9L970.4,811.0L967.6,817.1L964.9,823.3L962.5,829.4L960.5,835.5L958.8,841.6L957.5,847.8L956.7,853.9L956.4,860.0L956.6,866.1L957.3,872.2L958.4,878.4L960.0,884.5L962.0,890.6L964.4,896.7L966.9,902.9L969.7,909.0L972.6,915.1L975.5,921.2L978.4,927.3L981.1,933.5L983.6,939.6L985.8,945.7L987.6,951.8L989.0,958.0L990.0,964.1L990.4,970.2L990.4,976.3L989.9,982.4L988.9,988.6L987.5,994.7L985.6,1000.8L983.4,1006.9L980.9,1013.1L978.1,1019.2L975.3,1025.3L972.4,1031.4L969.5,1037.5L966.7,1043.7L964.1,1049.8L961.8,1055.9L959.9,1062.0L958.3,1068.2L957.2,1074.3L956.6,1080.4L956.4,1086.5L956.8,1092.6L957.6,1098.8L958.9,1104.9L960.6,1111.0L962.7,1117.1L965.1,1123.3L967.8,1129.4L970.6,1135.5" stroke-width="1.6"/>
<path d="M978.5,584.5L975.6,590.6L972.9,596.7L970.5,602.9L968.3,609.0L966.5,615.1L965.1,621.2L964.1,627.4L963.6,633.5L963.7,639.6L964.2,645.7L965.2,651.8L966.7,658.0L968.6,664.1L970.8,670.2L973.3,676.3L976.0,682.5L978.9,688.6L981.8,694.7L984.7,700.8L987.5,706.9L990.0,713.1L992.3,719.2L994.3,725.3L995.8,731.4L996.9,737.6L997.6,743.7L997.7,749.8L997.3,755.9L996.5,762.0L995.2,768.2L993.4,774.3L991.3,780.4L988.9,786.5L986.2,792.7L983.4,798.8L980.5,804.9L977.6,811.0L974.8,817.1L972.1,823.3L969.7,829.4L967.7,835.5L966.0,841.6L964.7,847.8L963.9,853.9L963.6,860.0L963.8,866.1L964.5,872.2L965.6,878.4L967.2,884.5L969.2,890.6L971.6,896.7L974.1,902.9L976.9,909.0L979.8,915.1L982.7,921.2L985.6,927.3L988.3,933.5L990.8,939.6L993.0,945.7L994.8,951.8L996.2,958.0L997.2,964.1L997.6,970.2L997.6,976.3L997.1,982.4L996.1,988.6L994.7,994.7L992.8,1000.8L990.6,1006.9L988.1,1013.1L985.3,1019.2L982.5,1025.3L979.6,1031.4L976.7,1037.5L973.9,1043.7L971.3,1049.8L969.0,1055.9L967.1,1062.0L965.5,1068.2L964.4,1074.3L963.8,1080.4L963.6,1086.5L964.0,1092.6L964.8,1098.8L966.1,1104.9L967.8,1111.0L969.9,1117.1L972.3,1123.3L975.0,1129.4L977.8,1135.5" stroke-width="2.0"/>
<path d="M982.9,584.5L980.0,590.6L977.3,596.7L974.9,602.9L972.7,609.0L970.9,615.1L969.5,621.2L968.5,627.4L968.0,633.5L968.1,639.6L968.6,645.7L969.6,651.8L971.1,658.0L973.0,664.1L975.2,670.2L977.7,676.3L980.4,682.5L983.3,688.6L986.2,694.7L989.1,700.8L991.9,706.9L994.4,713.1L996.7,719.2L998.7,725.3L1000.2,731.4L1001.3,737.6L1002.0,743.7L1002.1,749.8L1001.7,755.9L1000.9,762.0L999.6,768.2L997.8,774.3L995.7,780.4L993.3,786.5L990.6,792.7L987.8,798.8L984.9,804.9L982.0,811.0L979.2,817.1L976.5,823.3L974.1,829.4L972.1,835.5L970.4,841.6L969.1,847.8L968.3,853.9L968.0,860.0L968.2,866.1L968.9,872.2L970.0,878.4L971.6,884.5L973.6,890.6L976.0,896.7L978.5,902.9L981.3,909.0L984.2,915.1L987.1,921.2L990.0,927.3L992.7,933.5L995.2,939.6L997.4,945.7L999.2,951.8L1000.6,958.0L1001.6,964.1L1002.0,970.2L1002.0,976.3L1001.5,982.4L1000.5,988.6L999.1,994.7L997.2,1000.8L995.0,1006.9L992.5,1013.1L989.7,1019.2L986.9,1025.3L984.0,1031.4L981.1,1037.5L978.3,1043.7L975.7,1049.8L973.4,1055.9L971.5,1062.0L969.9,1068.2L968.8,1074.3L968.2,1080.4L968.0,1086.5L968.4,1092.6L969.2,1098.8L970.5,1104.9L972.2,1111.0L974.3,1117.1L976.7,1123.3L979.4,1129.4L982.2,1135.5" stroke-width="2.3"/>
<path d="M967.5,693.8L980.6,690.2" stroke-width="1.5"/>
<path d="M967.5,803.1L980.6,806.6" stroke-width="1.5"/>
<path d="M967.5,918.4L980.6,914.9" stroke-width="1.5"/>
<path d="M967.5,1027.7L980.6,1031.2" stroke-width="1.5"/>
<path d="M965.3,585.0C965.6,580.0 969.6,578.0 973.6,579.0C979.1,580.0 983.6,582.5 982.9,588.5" stroke-width="1.9"/>
<path d="M968.1,581.0L971.3,585.0M973.6,579.0L977.1,583.5L978.5,589.5M977.1,583.5L981.1,590.0L982.6,586.0" stroke-width="1.4"/>
<path d="M964.6,1135.0C965.4,1139.0 969.4,1141.5 974.4,1141.0C979.4,1140.0 983.4,1136.5 982.2,1131.5" stroke-width="1.9"/>
<path d="M970.6,1135.0L974.4,1141.0M977.8,1132.5L975.9,1137.0L980.4,1137.5L982.0,1132.5M975.9,1137.0L974.4,1141.0" stroke-width="1.4"/>
<path d="M1047.2,584.5L1044.3,590.6L1041.6,596.7L1039.2,602.9L1037.0,609.0L1035.2,615.1L1033.8,621.2L1032.8,627.4L1032.3,633.5L1032.4,639.6L1032.9,645.7L1033.9,651.8L1035.4,658.0L1037.3,664.1L1039.5,670.2L1042.0,676.3L1044.7,682.5L1047.6,688.6L1050.5,694.7L1053.4,700.8L1056.2,706.9L1058.7,713.1L1061.0,719.2L1063.0,725.3L1064.5,731.4L1065.6,737.6L1066.3,743.7L1066.4,749.8L1066.0,755.9L1065.2,762.0L1063.9,768.2L1062.1,774.3L1060.0,780.4L1057.6,786.5L1054.9,792.7L1052.1,798.8L1049.2,804.9L1046.3,811.0L1043.5,817.1L1040.8,823.3L1038.4,829.4L1036.4,835.5L1034.7,841.6L1033.4,847.8L1032.6,853.9L1032.3,860.0L1032.5,866.1L1033.2,872.2L1034.3,878.4L1035.9,884.5L1037.9,890.6L1040.3,896.7L1042.8,902.9L1045.6,909.0L1048.5,915.1L1051.4,921.2L1054.3,927.3L1057.0,933.5L1059.5,939.6L1061.7,945.7L1063.5,951.8L1064.9,958.0L1065.9,964.1L1066.3,970.2L1066.3,976.3L1065.8,982.4L1064.8,988.6L1063.4,994.7L1061.5,1000.8L1059.3,1006.9L1056.8,1013.1L1054.0,1019.2L1051.2,1025.3L1048.3,1031.4L1045.4,1037.5L1042.6,1043.7L1040.0,1049.8L1037.7,1055.9L1035.8,1062.0L1034.2,1068.2L1033.1,1074.3L1032.5,1080.4L1032.3,1086.5L1032.7,1092.6L1033.5,1098.8L1034.8,1104.9L1036.5,1111.0L1038.6,1117.1L1041.0,1123.3L1043.7,1129.4L1046.5,1135.5" stroke-width="1.6"/>
<path d="M1053.2,584.5L1050.3,590.6L1047.6,596.7L1045.2,602.9L1043.0,609.0L1041.2,615.1L1039.8,621.2L1038.8,627.4L1038.3,633.5L1038.4,639.6L1038.9,645.7L1039.9,651.8L1041.4,658.0L1043.3,664.1L1045.5,670.2L1048.0,676.3L1050.7,682.5L1053.6,688.6L1056.5,694.7L1059.4,700.8L1062.2,706.9L1064.7,713.1L1067.0,719.2L1069.0,725.3L1070.5,731.4L1071.6,737.6L1072.3,743.7L1072.4,749.8L1072.0,755.9L1071.2,762.0L1069.9,768.2L1068.1,774.3L1066.0,780.4L1063.6,786.5L1060.9,792.7L1058.1,798.8L1055.2,804.9L1052.3,811.0L1049.5,817.1L1046.8,823.3L1044.4,829.4L1042.4,835.5L1040.7,841.6L1039.4,847.8L1038.6,853.9L1038.3,860.0L1038.5,866.1L1039.2,872.2L1040.3,878.4L1041.9,884.5L1043.9,890.6L1046.3,896.7L1048.8,902.9L1051.6,909.0L1054.5,915.1L1057.4,921.2L1060.3,927.3L1063.0,933.5L1065.5,939.6L1067.7,945.7L1069.5,951.8L1070.9,958.0L1071.9,964.1L1072.3,970.2L1072.3,976.3L1071.8,982.4L1070.8,988.6L1069.4,994.7L1067.5,1000.8L1065.3,1006.9L1062.8,1013.1L1060.0,1019.2L1057.2,1025.3L1054.3,1031.4L1051.4,1037.5L1048.6,1043.7L1046.0,1049.8L1043.7,1055.9L1041.8,1062.0L1040.2,1068.2L1039.1,1074.3L1038.5,1080.4L1038.3,1086.5L1038.7,1092.6L1039.5,1098.8L1040.8,1104.9L1042.5,1111.0L1044.6,1117.1L1047.0,1123.3L1049.7,1129.4L1052.5,1135.5" stroke-width="1.6"/>
<path d="M1060.4,584.5L1057.5,590.6L1054.8,596.7L1052.4,602.9L1050.2,609.0L1048.4,615.1L1047.0,621.2L1046.0,627.4L1045.5,633.5L1045.6,639.6L1046.1,645.7L1047.1,651.8L1048.6,658.0L1050.5,664.1L1052.7,670.2L1055.2,676.3L1057.9,682.5L1060.8,688.6L1063.7,694.7L1066.6,700.8L1069.4,706.9L1071.9,713.1L1074.2,719.2L1076.2,725.3L1077.7,731.4L1078.8,737.6L1079.5,743.7L1079.6,749.8L1079.2,755.9L1078.4,762.0L1077.1,768.2L1075.3,774.3L1073.2,780.4L1070.8,786.5L1068.1,792.7L1065.3,798.8L1062.4,804.9L1059.5,811.0L1056.7,817.1L1054.0,823.3L1051.6,829.4L1049.6,835.5L1047.9,841.6L1046.6,847.8L1045.8,853.9L1045.5,860.0L1045.7,866.1L1046.4,872.2L1047.5,878.4L1049.1,884.5L1051.1,890.6L1053.5,896.7L1056.0,902.9L1058.8,909.0L1061.7,915.1L1064.6,921.2L1067.5,927.3L1070.2,933.5L1072.7,939.6L1074.9,945.7L1076.7,951.8L1078.1,958.0L1079.1,964.1L1079.5,970.2L1079.5,976.3L1079.0,982.4L1078.0,988.6L1076.6,994.7L1074.7,1000.8L1072.5,1006.9L1070.0,1013.1L1067.2,1019.2L1064.4,1025.3L1061.5,1031.4L1058.6,1037.5L1055.8,1043.7L1053.2,1049.8L1050.9,1055.9L1049.0,1062.0L1047.4,1068.2L1046.3,1074.3L1045.7,1080.4L1045.5,1086.5L1045.9,1092.6L1046.7,1098.8L1048.0,1104.9L1049.7,1111.0L1051.8,1117.1L1054.2,1123.3L1056.9,1129.4L1059.7,1135.5" stroke-width="2.0"/>
<path d="M1064.8,584.5L1061.9,590.6L1059.2,596.7L1056.8,602.9L1054.6,609.0L1052.8,615.1L1051.4,621.2L1050.4,627.4L1049.9,633.5L1050.0,639.6L1050.5,645.7L1051.5,651.8L1053.0,658.0L1054.9,664.1L1057.1,670.2L1059.6,676.3L1062.3,682.5L1065.2,688.6L1068.1,694.7L1071.0,700.8L1073.8,706.9L1076.3,713.1L1078.6,719.2L1080.6,725.3L1082.1,731.4L1083.2,737.6L1083.9,743.7L1084.0,749.8L1083.6,755.9L1082.8,762.0L1081.5,768.2L1079.7,774.3L1077.6,780.4L1075.2,786.5L1072.5,792.7L1069.7,798.8L1066.8,804.9L1063.9,811.0L1061.1,817.1L1058.4,823.3L1056.0,829.4L1054.0,835.5L1052.3,841.6L1051.0,847.8L1050.2,853.9L1049.9,860.0L1050.1,866.1L1050.8,872.2L1051.9,878.4L1053.5,884.5L1055.5,890.6L1057.9,896.7L1060.4,902.9L1063.2,909.0L1066.1,915.1L1069.0,921.2L1071.9,927.3L1074.6,933.5L1077.1,939.6L1079.3,945.7L1081.1,951.8L1082.5,958.0L1083.5,964.1L1083.9,970.2L1083.9,976.3L1083.4,982.4L1082.4,988.6L1081.0,994.7L1079.1,1000.8L1076.9,1006.9L1074.4,1013.1L1071.6,1019.2L1068.8,1025.3L1065.9,1031.4L1063.0,1037.5L1060.2,1043.7L1057.6,1049.8L1055.3,1055.9L1053.4,1062.0L1051.8,1068.2L1050.7,1074.3L1050.1,1080.4L1049.9,1086.5L1050.3,1092.6L1051.1,1098.8L1052.4,1104.9L1054.1,1111.0L1056.2,1117.1L1058.6,1123.3L1061.3,1129.4L1064.1,1135.5" stroke-width="2.3"/>
<path d="M1049.4,693.8L1062.6,690.2" stroke-width="1.5"/>
<path d="M1049.4,803.1L1062.6,806.6" stroke-width="1.5"/>
<path d="M1049.4,918.4L1062.6,914.9" stroke-width="1.5"/>
<path d="M1049.4,1027.7L1062.6,1031.2" stroke-width="1.5"/>
<path d="M1047.2,585.0C1047.5,580.0 1051.5,578.0 1055.5,579.0C1061.0,580.0 1065.5,582.5 1064.8,588.5" stroke-width="1.9"/>
<path d="M1050.0,581.0L1053.2,585.0M1055.5,579.0L1059.0,583.5L1060.4,589.5M1059.0,583.5L1063.0,590.0L1064.5,586.0" stroke-width="1.4"/>
<path d="M1046.5,1135.0C1047.3,1139.0 1051.3,1141.5 1056.3,1141.0C1061.3,1140.0 1065.3,1136.5 1064.1,1131.5" stroke-width="1.9"/>
<path d="M1052.5,1135.0L1056.3,1141.0M1059.7,1132.5L1057.8,1137.0L1062.3,1137.5L1063.9,1132.5M1057.8,1137.0L1056.3,1141.0" stroke-width="1.4"/>
<path d="M1129.1,584.5L1126.2,590.6L1123.5,596.7L1121.1,602.9L1118.9,609.0L1117.1,615.1L1115.7,621.2L1114.7,627.4L1114.2,633.5L1114.3,639.6L1114.8,645.7L1115.8,651.8L1117.3,658.0L1119.2,664.1L1121.4,670.2L1123.9,676.3L1126.6,682.5L1129.5,688.6L1132.4,694.7L1135.3,700.8L1138.1,706.9L1140.6,713.1L1142.9,719.2L1144.9,725.3L1146.4,731.4L1147.5,737.6L1148.2,743.7L1148.3,749.8L1147.9,755.9L1147.1,762.0L1145.8,768.2L1144.0,774.3L1141.9,780.4L1139.5,786.5L1136.8,792.7L1134.0,798.8L1131.1,804.9L1128.2,811.0L1125.4,817.1L1122.7,823.3L1120.3,829.4L1118.3,835.5L1116.6,841.6L1115.3,847.8L1114.5,853.9L1114.2,860.0L1114.4,866.1L1115.1,872.2L1116.2,878.4L1117.8,884.5L1119.8,890.6L1122.2,896.7L1124.7,902.9L1127.5,909.0L1130.4,915.1L1133.3,921.2L1136.2,927.3L1138.9,933.5L1141.4,939.6L1143.6,945.7L1145.4,951.8L1146.8,958.0L1147.8,964.1L1148.2,970.2L1148.2,976.3L1147.7,982.4L1146.7,988.6L1145.3,994.7L1143.4,1000.8L1141.2,1006.9L1138.7,1013.1L1135.9,1019.2L1133.1,1025.3L1130.2,1031.4L1127.3,1037.5L1124.5,1043.7L1121.9,1049.8L1119.6,1055.9L1117.7,1062.0L1116.1,1068.2L1115.0,1074.3L1114.4,1080.4L1114.2,1086.5L1114.6,1092.6L1115.4,1098.8L1116.7,1104.9L1118.4,1111.0L1120.5,1117.1L1122.9,1123.3L1125.6,1129.4L1128.4,1135.5" stroke-width="1.6"/>
<path d="M1135.1,584.5L1132.2,590.6L1129.5,596.7L1127.1,602.9L1124.9,609.0L1123.1,615.1L1121.7,621.2L1120.7,627.4L1120.2,633.5L1120.3,639.6L1120.8,645.7L1121.8,651.8L1123.3,658.0L1125.2,664.1L1127.4,670.2L1129.9,676.3L1132.6,682.5L1135.5,688.6L1138.4,694.7L1141.3,700.8L1144.1,706.9L1146.6,713.1L1148.9,719.2L1150.9,725.3L1152.4,731.4L1153.5,737.6L1154.2,743.7L1154.3,749.8L1153.9,755.9L1153.1,762.0L1151.8,768.2L1150.0,774.3L1147.9,780.4L1145.5,786.5L1142.8,792.7L1140.0,798.8L1137.1,804.9L1134.2,811.0L1131.4,817.1L1128.7,823.3L1126.3,829.4L1124.3,835.5L1122.6,841.6L1121.3,847.8L1120.5,853.9L1120.2,860.0L1120.4,866.1L1121.1,872.2L1122.2,878.4L1123.8,884.5L1125.8,890.6L1128.2,896.7L1130.7,902.9L1133.5,909.0L1136.4,915.1L1139.3,921.2L1142.2,927.3L1144.9,933.5L1147.4,939.6L1149.6,945.7L1151.4,951.8L1152.8,958.0L1153.8,964.1L1154.2,970.2L1154.2,976.3L1153.7,982.4L1152.7,988.6L1151.3,994.7L1149.4,1000.8L1147.2,1006.9L1144.7,1013.1L1141.9,1019.2L1139.1,1025.3L1136.2,1031.4L1133.3,1037.5L1130.5,1043.7L1127.9,1049.8L1125.6,1055.9L1123.7,1062.0L1122.1,1068.2L1121.0,1074.3L1120.4,1080.4L1120.2,1086.5L1120.6,1092.6L1121.4,1098.8L1122.7,1104.9L1124.4,1111.0L1126.5,1117.1L1128.9,1123.3L1131.6,1129.4L1134.4,1135.5" stroke-width="1.6"/>
<path d="M1142.3,584.5L1139.4,590.6L1136.7,596.7L1134.3,602.9L1132.1,609.0L1130.3,615.1L1128.9,621.2L1127.9,627.4L1127.4,633.5L1127.5,639.6L1128.0,645.7L1129.0,651.8L1130.5,658.0L1132.4,664.1L1134.6,670.2L1137.1,676.3L1139.8,682.5L1142.7,688.6L1145.6,694.7L1148.5,700.8L1151.3,706.9L1153.8,713.1L1156.1,719.2L1158.1,725.3L1159.6,731.4L1160.7,737.6L1161.4,743.7L1161.5,749.8L1161.1,755.9L1160.3,762.0L1159.0,768.2L1157.2,774.3L1155.1,780.4L1152.7,786.5L1150.0,792.7L1147.2,798.8L1144.3,804.9L1141.4,811.0L1138.6,817.1L1135.9,823.3L1133.5,829.4L1131.5,835.5L1129.8,841.6L1128.5,847.8L1127.7,853.9L1127.4,860.0L1127.6,866.1L1128.3,872.2L1129.4,878.4L1131.0,884.5L1133.0,890.6L1135.4,896.7L1137.9,902.9L1140.7,909.0L1143.6,915.1L1146.5,921.2L1149.4,927.3L1152.1,933.5L1154.6,939.6L1156.8,945.7L1158.6,951.8L1160.0,958.0L1161.0,964.1L1161.4,970.2L1161.4,976.3L1160.9,982.4L1159.9,988.6L1158.5,994.7L1156.6,1000.8L1154.4,1006.9L1151.9,1013.1L1149.1,1019.2L1146.3,1025.3L1143.4,1031.4L1140.5,1037.5L1137.7,1043.7L1135.1,1049.8L1132.8,1055.9L1130.9,1062.0L1129.3,1068.2L1128.2,1074.3L1127.6,1080.4L1127.4,1086.5L1127.8,1092.6L1128.6,1098.8L1129.9,1104.9L1131.6,1111.0L1133.7,1117.1L1136.1,1123.3L1138.8,1129.4L1141.6,1135.5" stroke-width="2.0"/>
<path d="M1146.7,584.5L1143.8,590.6L1141.1,596.7L1138.7,602.9L1136.5,609.0L1134.7,615.1L1133.3,621.2L1132.3,627.4L1131.8,633.5L1131.9,639.6L1132.4,645.7L1133.4,651.8L1134.9,658.0L1136.8,664.1L1139.0,670.2L1141.5,676.3L1144.2,682.5L1147.1,688.6L1150.0,694.7L1152.9,700.8L1155.7,706.9L1158.2,713.1L1160.5,719.2L1162.5,725.3L1164.0,731.4L1165.1,737.6L1165.8,743.7L1165.9,749.8L1165.5,755.9L1164.7,762.0L1163.4,768.2L1161.6,774.3L1159.5,780.4L1157.1,786.5L1154.4,792.7L1151.6,798.8L1148.7,804.9L1145.8,811.0L1143.0,817.1L1140.3,823.3L1137.9,829.4L1135.9,835.5L1134.2,841.6L1132.9,847.8L1132.1,853.9L1131.8,860.0L1132.0,866.1L1132.7,872.2L1133.8,878.4L1135.4,884.5L1137.4,890.6L1139.8,896.7L1142.3,902.9L1145.1,909.0L1148.0,915.1L1150.9,921.2L1153.8,927.3L1156.5,933.5L1159.0,939.6L1161.2,945.7L1163.0,951.8L1164.4,958.0L1165.4,964.1L1165.8,970.2L1165.8,976.3L1165.3,982.4L1164.3,988.6L1162.9,994.7L1161.0,1000.8L1158.8,1006.9L1156.3,1013.1L1153.5,1019.2L1150.7,1025.3L1147.8,1031.4L1144.9,1037.5L1142.1,1043.7L1139.5,1049.8L1137.2,1055.9L1135.3,1062.0L1133.7,1068.2L1132.6,1074.3L1132.0,1080.4L1131.8,1086.5L1132.2,1092.6L1133.0,1098.8L1134.3,1104.9L1136.0,1111.0L1138.1,1117.1L1140.5,1123.3L1143.2,1129.4L1146.0,1135.5" stroke-width="2.3"/>
<path d="M1131.3,693.8L1144.5,690.2" stroke-width="1.5"/>
<path d="M1131.3,803.1L1144.5,806.6" stroke-width="1.5"/>
<path d="M1131.3,918.4L1144.5,914.9" stroke-width="1.5"/>
<path d="M1131.3,1027.7L1144.5,1031.2" stroke-width="1.5"/>
<path d="M1129.1,585.0C1129.4,580.0 1133.4,578.0 1137.4,579.0C1142.9,580.0 1147.4,582.5 1146.7,588.5" stroke-width="1.9"/>
<path d="M1131.9,581.0L1135.1,585.0M1137.4,579.0L1140.9,583.5L1142.3,589.5M1140.9,583.5L1144.9,590.0L1146.4,586.0" stroke-width="1.4"/>
<path d="M1128.4,1135.0C1129.2,1139.0 1133.2,1141.5 1138.2,1141.0C1143.2,1140.0 1147.2,1136.5 1146.0,1131.5" stroke-width="1.9"/>
<path d="M1134.4,1135.0L1138.2,1141.0M1141.6,1132.5L1139.7,1137.0L1144.2,1137.5L1145.8,1132.5M1139.7,1137.0L1138.2,1141.0" stroke-width="1.4"/>
<text transform="matrix(0,1,-1,0,1184.3,800.6) skewX(-12)" font-size="13" font-weight="bold" class="t" textLength="118.6" lengthAdjust="spacingAndGlyphs">426H8000/LERYK</text>
<path d="M692.7,1255.5L692.7,506.1L704.5,505.6L704.5,1256.5" fill="#fff"/>
<path d="M692.7,1255.0L704.5,1256.5L722.5,1254.7" stroke-width="1.7"/>
<path d="M704.5,1206.0L722.5,1203.7" stroke-width="1.7"/>
<path d="M704.5,1213.5L722.5,1211.0" stroke-width="1.7"/>
<path d="M645.6,1205.0L645.6,547.2L686.5,551.4L686.5,1207.5" fill="#fff"/>
<path d="M645.6,551.6L686.5,555.2" stroke-width="1.6"/>
<path d="M645.6,1204.6L686.5,1207.7"/>
<path d="M645.6,1208.4L686.5,1211.4"/>
<path d="M686.5,551.4L692.1,551.4" stroke-width="1.5"/>
<path d="M687,575L690,577.5L692,575.5M687,583H691V578" stroke-width="1.4"/>
<path d="M687,1181.5H691M688,1185L690.5,1186.5L690,1191L687,1192.5" stroke-width="1.4"/>
<rect x="641.2" y="523.5" width="50.9" height="19.9" fill="#fff"/>
<path d="M648.6,523.5L648.6,543.4" stroke-width="1.6"/>
<path d="M678.4,523.5L678.4,543.4" stroke-width="1.6"/>
<path d="M655.5,506.7L681.6,509.3L681.6,529.2L655.5,531.6Z" stroke-width="2.2" fill="#fff"/>
<rect x="681.6" y="511.0" width="10.9" height="16.8" fill="#fff"/>
<rect x="641.2" y="1213.3" width="50.9" height="19.2" fill="#fff"/>
<path d="M648.6,1213.3L648.6,1232.5" stroke-width="1.6"/>
<path d="M678.4,1213.3L678.4,1232.5" stroke-width="1.6"/>
<path d="M655.5,1217.0L681.6,1219.6L681.6,1239.5L655.5,1241.9Z" stroke-width="2.2" fill="#fff"/>
<rect x="681.6" y="1222.6" width="10.9" height="12.4" fill="#fff"/>
<path d="M659.5,543.4L659.5,546.5" stroke-width="1.5"/>
<path d="M668.5,543.4L668.5,546.5" stroke-width="1.5"/>
<circle cx="690.9" cy="1252.4" r="2.5" stroke-width="1.6"/>
<path d="M690.3,1200V1246" stroke-width="2.4" stroke-dasharray="3 2.5"/>
<path d="M705.2,1215V1244" stroke-width="2.0" stroke-dasharray="3 2.5"/>
<path d="M1071,525V468Q1071,455 1080,447.5A27.5,27.5 0 1 1 1127.5,470.5Q1119.5,478.5 1119,487V525Z" stroke-width="2.0" fill="#fff"/>
<path d="M1052.5,410.5L1079,441.5" stroke-width="14.2" stroke-linecap="round"/>
<path d="M1052.5,410.5L1079,441.5" stroke-width="10.8" stroke="#fff" stroke-linecap="round"/>
<path d="M1062.3,432.5L1073,423.5" stroke-width="1.6"/>
<path d="M1073.5,459A21,21 0 0 1 1116.5,462A13,13 0 0 0 1106.5,452.5" stroke-width="1.8"/>
<circle cx="1095.0" cy="469.5" r="20.0" stroke-width="2" fill="#fff"/>
<path d="M1105.6,475.6L1095.0,481.7L1084.4,475.6L1084.4,463.4L1095.0,457.3L1105.6,463.4Z" stroke-width="2.0"/>
<circle cx="1095.0" cy="469.5" r="10.2" stroke-width="1.5"/>
<circle cx="1095.0" cy="469.5" r="6.8" stroke-width="1.8"/>
<path d="M1087,490.5V493A8.2,8.2 0 0 0 1103.4,493V490" stroke-width="1.8"/>
<path d="M1136.0,524.3L1139.5,513.8" stroke-width="1.5"/>
<path d="M645.8,875.4L686.6,877.2" stroke-width="1.9"/>
<path d="M645.8,900V892A12.5,12.5 0 0 1 670.5,888.5C672.5,896 675,902 680.4,903.2Q687,905.5 692.9,902V918.5L656.1,931.1Q646.5,934.5 645.8,941.4V956.2Q640,956.2 640,953V906.4Q640.2,904.2 645.8,900Z" stroke-width="1.9" fill="#fff"/>
<path d="M680.4,877.2L680.4,902.8" stroke-width="1.5"/>
<path d="M685.7,877.2L685.7,904.3" stroke-width="1.5"/>
<path d="M680.4,922.8L680.4,945.4" stroke-width="1.5"/>
<path d="M685.7,921.0L685.7,945.2" stroke-width="1.5"/>
<path d="M645.8,947.2L686.6,945.2"/>
<circle cx="657.9" cy="891.8" r="7.9" stroke-width="2.4"/>
<circle cx="657.9" cy="891.8" r="5.6" stroke-width="1.5"/>
<path d="M661.0,893.6L657.9,895.4L654.8,893.6L654.8,890.0L657.9,888.2L661.0,890.0Z" stroke-width="1.5"/>
<ellipse cx="693.8" cy="891.1" rx="6.3" ry="8.5" stroke-width="1.8" fill="#fff"/>
<path d="M692.8,884.0L692.8,898.5" stroke-width="1.5"/>
<path d="M694.6,884.0L694.6,898.5" stroke-width="1.5"/>
<path d="M686.6,866.0L692.9,865.4" stroke-width="1.5"/>
<path d="M704.5,849.8L723.0,849.2L723.0,938.9L704.5,938.2" stroke-width="1.8"/>
<path d="M704.5,851.5L708.6,854.4L708.6,934.2L704.5,937.0" stroke-width="1.6"/>
<path d="M708.6,854.4L723.0,853.3" stroke-width="1.6"/>
<path d="M708.6,934.2L723.0,935.2" stroke-width="1.6"/>
<path d="M708.6,869.6Q720,892 708.6,908.2" stroke-width="1.6"/>
<rect x="612.2" y="901.9" width="28.0" height="27.8" fill="#fff"/>
<path d="M614.4,901.5L579.6,915.4L578.8,1040.7L596.2,1049.8L598.6,1048.3L598.6,1039.2L593.2,1036.9Q587.8,1034 587.2,1028L591.7,945Q594.2,929 611.2,927.5L614.4,930.2L612.8,925L615.8,920.5L613.2,915.5L615.8,910.5L613.2,906Z" stroke-width="2" fill="#fff"/>
<path d="M613.2,904.5Q594.2,908.5 580.8,917.5M614.2,911Q595.2,913 584.2,922L587.8,938M613.2,918.5Q597.2,923 590.2,941M580.8,917.5L580.2,1040M584.2,922L582.8,1037.5L596.8,1046" stroke-width="1.5"/>
<path d="M590.2,941L585.4,1029Q586.2,1036 592.8,1039" stroke-width="1.5"/>
</g>
<g id="sideR" transform="translate(4319.25,0) scale(-1,1)">
<path d="M905.5,429.5L910.5,328.8L1197.0,328.8L1201.2,429.5"/>
<path d="M901,440.75V432Q901,429.25 904,429.25H1202.5Q1205.5,429.25 1205.5,432V440.75"/>
<path d="M902.0,431.8L1204.5,431.8" stroke-width="1.5"/>
<path d="M1199.0,431.8L1199.5,440.8"/>
<path d="M1188.0,431.8L1188.0,440.8"/>
<path d="M1175.0,431.8L1175.0,440.8"/>
<rect x="1032.0" y="396.8" width="43.5" height="33.2" fill="#fff"/>
<path d="M1053.7,396.8L1053.7,403.0"/>
<path d="M1198.0,429.2L1172.7,400.0L1169.1,400.0L1167.5,429.2"/>
<path d="M1188.0,429.2L1169.3,401.5"/>
<path d="M1163.5,429.2L1138.2,400.0L1134.6,400.0L1133.0,429.2"/>
<path d="M1153.5,429.2L1134.8,401.5"/>
<rect x="1166.8" y="425.2" width="17.5" height="4.1" fill="#fff"/>
<rect x="1169.0" y="421.8" width="13.0" height="3.4" fill="#fff"/>
<path d="M1177.5,421.8L1177.5,425.2"/>
<path d="M1173.0,421.8L1173.0,425.2"/>
<path d="M1215,440.75H880Q872,440.75 866,444.5L765.5,513.75"/>
<path d="M897.7,441.5L808.3,513.8"/>
<path d="M905.8,441.5L817.2,513.8"/>
<path d="M861.5,447.8L889.5,448.2" stroke-width="1.6"/>
<path d="M826.0,474.5L856.8,474.9" stroke-width="1.6"/>
<path d="M778.8,505.7L817.0,506.3" stroke-width="1.6"/>
<path d="M1215,440.75Q1226,441.5 1230.5,451L1250,513.75"/>
<path d="M1196.2,441.2L1215.0,513.8"/>
<path d="M1203.8,441.2L1222.5,513.8"/>
<path d="M1212.5,463.5Q1222,463 1227,466.5L1231,472" stroke-width="1.7"/>
<path d="M1175,512.5L1211,505.5Q1216,505 1219.5,509" stroke-width="1.7"/>
<path d="M1042.0,441.2L846.8,485.3" stroke-width="1.7"/>
<path d="M873.6,513.8L877.0,464.5L885.5,464.5L888.9,513.8" fill="#fff"/>
<path d="M879.6,467.0L878.6,513.8" stroke-width="1.5"/>
<path d="M877.0,467.0L885.5,467.0" stroke-width="1.5"/>
<path d="M938.6,513.8L942.0,441.5L950.5,441.5L953.9,513.8" fill="#fff"/>
<path d="M944.6,444.0L943.6,513.8" stroke-width="1.5"/>
<path d="M942.0,444.0L950.5,444.0" stroke-width="1.5"/>
<path d="M1004.3,513.8L1007.6,441.5L1016.2,441.5L1019.5,513.8" fill="#fff"/>
<path d="M1010.2,444.0L1009.3,513.8" stroke-width="1.5"/>
<path d="M1007.6,444.0L1016.2,444.0" stroke-width="1.5"/>
<path d="M1069.5,513.8L1072.8,441.5L1081.4,441.5L1084.7,513.8" fill="#fff"/>
<path d="M1075.4,444.0L1074.5,513.8" stroke-width="1.5"/>
<path d="M1072.8,444.0L1081.4,444.0" stroke-width="1.5"/>
<path d="M1135.4,513.8L1138.7,441.5L1147.3,441.5L1150.6,513.8" fill="#fff"/>
<path d="M1141.3,444.0L1140.4,513.8" stroke-width="1.5"/>
<path d="M1138.7,444.0L1147.3,444.0" stroke-width="1.5"/>
<path d="M704.5,524.5L1262.5,524.5"/>
<path d="M722.5,529.7H1262.5" stroke-width="1.6"/>
<path d="M722.5,525.5L722.5,549.6"/>
<path d="M722.5,549.6L1262.5,549.6" stroke-width="2"/>
<path d="M1262.5,524.5L1262.5,549.6"/>
<path d="M790.2,529.7L791.5,549.6" stroke-width="1.6"/>
<path d="M796.2,529.7L797.7,549.6" stroke-width="1.6"/>
<path d="M1066.8,529.7L1066.8,549.6" stroke-width="1.6"/>
<path d="M1064.5,529.7L1064.5,549.6" stroke-width="1.6"/>
<path d="M1215.2,529.7L1216.7,549.6" stroke-width="1.6"/>
<path d="M1220.0,529.7L1221.7,549.6" stroke-width="1.6"/>
<path d="M1248.0,529.7L1248.0,549.6" stroke-width="1.6"/>
<path d="M781.6,558.9L1171.0,558.9" stroke-width="2.4"/>
<path d="M784.0,555.0L1169.0,555.0" stroke-width="1.5"/>
<rect x="745.5" y="551.0" width="5.0" height="7.9" stroke-width="1.6"/>
<rect x="762.9" y="551.0" width="4.6" height="7.9" stroke-width="1.6"/>
<rect x="767.5" y="551.0" width="16.5" height="7.9" stroke-width="1.6"/>
<rect x="1186.2" y="551.0" width="4.8" height="7.9" stroke-width="1.6"/>
<rect x="1170.0" y="551.0" width="5.0" height="7.9" stroke-width="1.6"/>
<path d="M722.5,549.6L722.5,1169.8" stroke-width="1.8"/>
<path d="M727.5,549.6L727.5,1169.8" stroke-width="1.8"/>
<path d="M737.5,558.9L737.5,1159.3" stroke-width="1.8"/>
<path d="M781.6,558.9L781.6,1159.3" stroke-width="1.8"/>
<path d="M737.5,558.9L750.5,558.9"/>
<path d="M737.5,1159.3L750.5,1159.3"/>
<path d="M1229.0,549.6L1229.0,1169.8" stroke-width="2.0"/>
<path d="M1238.3,549.6L1238.3,1169.8" stroke-width="2.0"/>
<path d="M1247.3,549.6L1247.3,1169.8" stroke-width="2.0"/>
<path d="M1252.8,549.6L1252.8,1169.8" stroke-width="2.0"/>
<path d="M1262.2,549.6L1262.2,1169.8" stroke-width="2.0"/>
<path d="M1186.5,559.4H1213Q1220.7,559.4 1220.7,567V1151.5Q1220.7,1159 1213,1159H1186.5" stroke-width="2.0"/>
<path d="M1186.5,562.3H1208Q1212.3,562.5 1212.3,567V1151.5Q1212.3,1156 1208,1156.2H1186.5" stroke-width="1.8"/>
<path d="M1213.5,566.3L1220.5,565.0" stroke-width="1.6"/>
<path d="M1213.5,1152.2L1220.5,1153.5" stroke-width="1.6"/>
<path d="M781.6,1159.3L1171.2,1159.3" stroke-width="2.4"/>
<path d="M784.0,1162.5L1169.0,1162.5" stroke-width="1.5"/>
<path d="M722.5,1169.8L1262.5,1169.8" stroke-width="2"/>
<path d="M722.5,1169.8L722.5,1259.3"/>
<path d="M722.5,1182.9L794.0,1182.9" stroke-width="1.6"/>
<path d="M722.5,1191.0L794.0,1191.0"/>
<path d="M1049.0,1169.8L1049.0,1177.0" stroke-width="1.6"/>
<path d="M1049.0,1177.0L1210.0,1177.0" stroke-width="1.6"/>
<path d="M794.0,1182.9L1262.5,1182.9" stroke-width="1.6"/>
<path d="M1048.0,1191.0L1262.5,1191.0"/>
<rect x="745.5" y="1161.0" width="5.0" height="8.8" stroke-width="1.6"/>
<rect x="762.9" y="1161.0" width="4.6" height="8.8" stroke-width="1.6"/>
<rect x="767.5" y="1161.0" width="16.5" height="8.8" stroke-width="1.6"/>
<rect x="1186.2" y="1161.0" width="4.8" height="8.8" stroke-width="1.6"/>
<rect x="1170.0" y="1161.0" width="5.0" height="8.8" stroke-width="1.6"/>
<path d="M787.0,1169.8L789.5,1191.0" stroke-width="1.6"/>
<path d="M791.5,1169.8L794.0,1191.0" stroke-width="1.6"/>
<path d="M1215.2,1169.8L1216.7,1191.0" stroke-width="1.6"/>
<path d="M1220.0,1169.8L1221.7,1191.0" stroke-width="1.6"/>
<path d="M1206.0,1191.0L1211.5,1265.5L1259.5,1265.5L1262.5,1191.0"/>
<path d="M1250.5,1191.0L1251.0,1265.5" stroke-width="1.6"/>
<path d="M1262.5,1169.8L1262.5,1191.0"/>
<path d="M722.5,1259.3L794.5,1259.3"/>
<path d="M794.0,1182.9L797.0,1266.0L874.7,1266.0L879.7,1182.9" fill="#fff"/>
<path d="M794.0,1191.0L879.7,1191.0" stroke-width="1.6"/>
<path d="M796.5,1191.0L799.5,1266.0" stroke-width="1.5"/>
<path d="M879.7,1182.9L1048.0,1182.9"/>
<path d="M876.0,1257.8L1125.0,1257.8"/>
<path d="M883.5,1194.0L883.5,1257.8" stroke-width="1.5"/>
<path d="M881.0,1194.0L881.0,1257.8" stroke-width="1.5"/>
<path d="M879.0,1191.0L935.0,1191.0" stroke-width="1.6"/>
<path d="M879.0,1194.0L1120.0,1194.0" stroke-width="1.6"/>
<path d="M926,1194L930,1252Q931,1257.8 936,1257.8" stroke-width="1.6"/>
<path d="M932.0,1194.0L936.0,1257.8" stroke-width="1.5"/>
<path d="M946,1194L947,1252Q947.5,1257.8 953,1257.8" stroke-width="1.6"/>
<path d="M954.0,1194.0L953.0,1257.8" stroke-width="1.5"/>
<path d="M1030.0,1194.0L1030.0,1257.8" stroke-width="1.6"/>
<path d="M1049.5,1191.0L1049.5,1257.8" stroke-width="1.6"/>
<path d="M1052.0,1194.0L1052.0,1257.8" stroke-width="1.5"/>
<path d="M1122.0,1194.0L1108.0,1257.8" stroke-width="1.7"/>
<path d="M1126.0,1194.0L1112.0,1257.8" stroke-width="1.5"/>
<path d="M1120.0,1194.0L1125.0,1194.0"/>
<path d="M1127.0,1196.0L1136.0,1199.0L1133.0,1243.0L1124.0,1240.0Z" stroke-width="1.6"/>
<rect x="1136.0" y="1208.0" width="5.0" height="14.0" stroke-width="1.6"/>
<circle cx="1138.5" cy="1201.5" r="1.8" stroke-width="1.5"/>
<circle cx="1134.5" cy="1236.0" r="1.8" stroke-width="1.5"/>
<path d="M1054.0,1259.8L1070.0,1259.8" stroke-width="1.7"/>
<path d="M735.3,1191.0L735.0,1259.3" stroke-width="1.6"/>
<path d="M743.0,1191.0L743.0,1259.3" stroke-width="1.6"/>
<rect x="735.6" y="1219.5" width="27.3" height="11.8" fill="#fff"/>
<path d="M767.3,1191.0L767.3,1259.3" stroke-width="1.6"/>
<path d="M770.4,1191.0L770.4,1259.3" stroke-width="1.6"/>
<path d="M787.1,1191.0L787.1,1259.3" stroke-width="1.6"/>
<path d="M789.6,1191.0L789.6,1259.3" stroke-width="1.6"/>
<path d="M722.5,1207.5L733.0,1207.5" stroke-width="1.6"/>
<path d="M722.5,1219.5L735.6,1219.5" stroke-width="1.6"/>
<path d="M722.5,1248.5L734.0,1248.5" stroke-width="1.6"/>
<rect x="1175.0" y="511.0" width="11.2" height="699.2" fill="#fff"/>
<path d="M1170.0,526.6V523.5Q1170.0,521.6 1172.0,521.6H1189.2Q1191.2,521.6 1191.2,523.5V526.6Z" fill="#fff"/>
<path d="M1173.5,526.6L1175.0,539.5L1186.2,539.5L1187.8,526.6" stroke-width="1.6" fill="#fff"/>
<path d="M1174.2,529.0L1187.0,529.0" stroke-width="2.2"/>
<path d="M1175.0,539.5L1186.2,539.5"/>
<rect x="1170.6" y="1194.7" width="19.4" height="4.9" fill="#fff"/>
<path d="M1176.0,1194.7L1176.0,1199.6" stroke-width="1.5"/>
<path d="M1185.2,1194.7L1185.2,1199.6" stroke-width="1.5"/>
<path d="M1173.5,1169.8L1175.0,1182.9L1186.2,1182.9L1187.8,1169.8" stroke-width="1.5"/>
<path d="M1175.0,1199.6L1186.2,1199.6"/>
<rect x="750.5" y="511.0" width="12.4" height="699.2" fill="#fff"/>
<path d="M745.5,526.6V523.5Q745.5,521.6 747.5,521.6H765.9Q767.9,521.6 767.9,523.5V526.6Z" fill="#fff"/>
<path d="M749.0,526.6L750.5,539.5L762.9,539.5L764.4,526.6" stroke-width="1.6" fill="#fff"/>
<path d="M749.7,529.0L763.7,529.0" stroke-width="2.2"/>
<path d="M750.5,539.5L762.9,539.5"/>
<rect x="746.1" y="1194.7" width="20.5" height="4.9" fill="#fff"/>
<path d="M751.5,1194.7L751.5,1199.6" stroke-width="1.5"/>
<path d="M761.9,1194.7L761.9,1199.6" stroke-width="1.5"/>
<path d="M749.0,1169.8L750.5,1182.9L762.9,1182.9L764.4,1169.8" stroke-width="1.5"/>
<path d="M750.5,1199.6L762.9,1199.6"/>
<path d="M801.5,584.5L798.6,590.6L795.9,596.7L793.5,602.9L791.3,609.0L789.5,615.1L788.1,621.2L787.1,627.4L786.6,633.5L786.7,639.6L787.2,645.7L788.2,651.8L789.7,658.0L791.6,664.1L793.8,670.2L796.3,676.3L799.0,682.5L801.9,688.6L804.8,694.7L807.7,700.8L810.5,706.9L813.0,713.1L815.3,719.2L817.3,725.3L818.8,731.4L819.9,737.6L820.6,743.7L820.7,749.8L820.3,755.9L819.5,762.0L818.2,768.2L816.4,774.3L814.3,780.4L811.9,786.5L809.2,792.7L806.4,798.8L803.5,804.9L800.6,811.0L797.8,817.1L795.1,823.3L792.7,829.4L790.7,835.5L789.0,841.6L787.7,847.8L786.9,853.9L786.6,860.0L786.8,866.1L787.5,872.2L788.6,878.4L790.2,884.5L792.2,890.6L794.6,896.7L797.1,902.9L799.9,909.0L802.8,915.1L805.7,921.2L808.6,927.3L811.3,933.5L813.8,939.6L816.0,945.7L817.8,951.8L819.2,958.0L820.2,964.1L820.6,970.2L820.6,976.3L820.1,982.4L819.1,988.6L817.7,994.7L815.8,1000.8L813.6,1006.9L811.1,1013.1L808.3,1019.2L805.5,1025.3L802.6,1031.4L799.7,1037.5L796.9,1043.7L794.3,1049.8L792.0,1055.9L790.1,1062.0L788.5,1068.2L787.4,1074.3L786.8,1080.4L786.6,1086.5L787.0,1092.6L787.8,1098.8L789.1,1104.9L790.8,1111.0L792.9,1117.1L795.3,1123.3L798.0,1129.4L800.8,1135.5" stroke-width="1.6"/>
<path d="M807.5,584.5L804.6,590.6L801.9,596.7L799.5,602.9L797.3,609.0L795.5,615.1L794.1,621.2L793.1,627.4L792.6,633.5L792.7,639.6L793.2,645.7L794.2,651.8L795.7,658.0L797.6,664.1L799.8,670.2L802.3,676.3L805.0,682.5L807.9,688.6L810.8,694.7L813.7,700.8L816.5,706.9L819.0,713.1L821.3,719.2L823.3,725.3L824.8,731.4L825.9,737.6L826.6,743.7L826.7,749.8L826.3,755.9L825.5,762.0L824.2,768.2L822.4,774.3L820.3,780.4L817.9,786.5L815.2,792.7L812.4,798.8L809.5,804.9L806.6,811.0L803.8,817.1L801.1,823.3L798.7,829.4L796.7,835.5L795.0,841.6L793.7,847.8L792.9,853.9L792.6,860.0L792.8,866.1L793.5,872.2L794.6,878.4L796.2,884.5L798.2,890.6L800.6,896.7L803.1,902.9L805.9,909.0L808.8,915.1L811.7,921.2L814.6,927.3L817.3,933.5L819.8,939.6L822.0,945.7L823.8,951.8L825.2,958.0L826.2,964.1L826.6,970.2L826.6,976.3L826.1,982.4L825.1,988.6L823.7,994.7L821.8,1000.8L819.6,1006.9L817.1,1013.1L814.3,1019.2L811.5,1025.3L808.6,1031.4L805.7,1037.5L802.9,1043.7L800.3,1049.8L798.0,1055.9L796.1,1062.0L794.5,1068.2L793.4,1074.3L792.8,1080.4L792.6,1086.5L793.0,1092.6L793.8,1098.8L795.1,1104.9L796.8,1111.0L798.9,1117.1L801.3,1123.3L804.0,1129.4L806.8,1135.5" stroke-width="1.6"/>
<path d="M814.7,584.5L811.8,590.6L809.1,596.7L806.7,602.9L804.5,609.0L802.7,615.1L801.3,621.2L800.3,627.4L799.8,633.5L799.9,639.6L800.4,645.7L801.4,651.8L802.9,658.0L804.8,664.1L807.0,670.2L809.5,676.3L812.2,682.5L815.1,688.6L818.0,694.7L820.9,700.8L823.7,706.9L826.2,713.1L828.5,719.2L830.5,725.3L832.0,731.4L833.1,737.6L833.8,743.7L833.9,749.8L833.5,755.9L832.7,762.0L831.4,768.2L829.6,774.3L827.5,780.4L825.1,786.5L822.4,792.7L819.6,798.8L816.7,804.9L813.8,811.0L811.0,817.1L808.3,823.3L805.9,829.4L803.9,835.5L802.2,841.6L800.9,847.8L800.1,853.9L799.8,860.0L800.0,866.1L800.7,872.2L801.8,878.4L803.4,884.5L805.4,890.6L807.8,896.7L810.3,902.9L813.1,909.0L816.0,915.1L818.9,921.2L821.8,927.3L824.5,933.5L827.0,939.6L829.2,945.7L831.0,951.8L832.4,958.0L833.4,964.1L833.8,970.2L833.8,976.3L833.3,982.4L832.3,988.6L830.9,994.7L829.0,1000.8L826.8,1006.9L824.3,1013.1L821.5,1019.2L818.7,1025.3L815.8,1031.4L812.9,1037.5L810.1,1043.7L807.5,1049.8L805.2,1055.9L803.3,1062.0L801.7,1068.2L800.6,1074.3L800.0,1080.4L799.8,1086.5L800.2,1092.6L801.0,1098.8L802.3,1104.9L804.0,1111.0L806.1,1117.1L808.5,1123.3L811.2,1129.4L814.0,1135.5" stroke-width="2.0"/>
<path d="M819.1,584.5L816.2,590.6L813.5,596.7L811.1,602.9L808.9,609.0L807.1,615.1L805.7,621.2L804.7,627.4L804.2,633.5L804.3,639.6L804.8,645.7L805.8,651.8L807.3,658.0L809.2,664.1L811.4,670.2L813.9,676.3L816.6,682.5L819.5,688.6L822.4,694.7L825.3,700.8L828.1,706.9L830.6,713.1L832.9,719.2L834.9,725.3L836.4,731.4L837.5,737.6L838.2,743.7L838.3,749.8L837.9,755.9L837.1,762.0L835.8,768.2L834.0,774.3L831.9,780.4L829.5,786.5L826.8,792.7L824.0,798.8L821.1,804.9L818.2,811.0L815.4,817.1L812.7,823.3L810.3,829.4L808.3,835.5L806.6,841.6L805.3,847.8L804.5,853.9L804.2,860.0L804.4,866.1L805.1,872.2L806.2,878.4L807.8,884.5L809.8,890.6L812.2,896.7L814.7,902.9L817.5,909.0L820.4,915.1L823.3,921.2L826.2,927.3L828.9,933.5L831.4,939.6L833.6,945.7L835.4,951.8L836.8,958.0L837.8,964.1L838.2,970.2L838.2,976.3L837.7,982.4L836.7,988.6L835.3,994.7L833.4,1000.8L831.2,1006.9L828.7,1013.1L825.9,1019.2L823.1,1025.3L820.2,1031.4L817.3,1037.5L814.5,1043.7L811.9,1049.8L809.6,1055.9L807.7,1062.0L806.1,1068.2L805.0,1074.3L804.4,1080.4L804.2,1086.5L804.6,1092.6L805.4,1098.8L806.7,1104.9L808.4,1111.0L810.5,1117.1L812.9,1123.3L815.6,1129.4L818.4,1135.5" stroke-width="2.3"/>
<path d="M803.7,693.8L816.9,690.2" stroke-width="1.5"/>
<path d="M803.7,803.1L816.9,806.6" stroke-width="1.5"/>
<path d="M803.7,918.4L816.9,914.9" stroke-width="1.5"/>
<path d="M803.7,1027.7L816.9,1031.2" stroke-width="1.5"/>
<path d="M801.5,585.0C801.8,580.0 805.8,578.0 809.8,579.0C815.3,580.0 819.8,582.5 819.1,588.5" stroke-width="1.9"/>
<path d="M804.3,581.0L807.5,585.0M809.8,579.0L813.3,583.5L814.7,589.5M813.3,583.5L817.3,590.0L818.8,586.0" stroke-width="1.4"/>
<path d="M800.8,1135.0C801.6,1139.0 805.6,1141.5 810.6,1141.0C815.6,1140.0 819.6,1136.5 818.4,1131.5" stroke-width="1.9"/>
<path d="M806.8,1135.0L810.6,1141.0M814.0,1132.5L812.1,1137.0L816.6,1137.5L818.2,1132.5M812.1,1137.0L810.6,1141.0" stroke-width="1.4"/>
<path d="M883.4,584.5L880.5,590.6L877.8,596.7L875.4,602.9L873.2,609.0L871.4,615.1L870.0,621.2L869.0,627.4L868.5,633.5L868.6,639.6L869.1,645.7L870.1,651.8L871.6,658.0L873.5,664.1L875.7,670.2L878.2,676.3L880.9,682.5L883.8,688.6L886.7,694.7L889.6,700.8L892.4,706.9L894.9,713.1L897.2,719.2L899.2,725.3L900.7,731.4L901.8,737.6L902.5,743.7L902.6,749.8L902.2,755.9L901.4,762.0L900.1,768.2L898.3,774.3L896.2,780.4L893.8,786.5L891.1,792.7L888.3,798.8L885.4,804.9L882.5,811.0L879.7,817.1L877.0,823.3L874.6,829.4L872.6,835.5L870.9,841.6L869.6,847.8L868.8,853.9L868.5,860.0L868.7,866.1L869.4,872.2L870.5,878.4L872.1,884.5L874.1,890.6L876.5,896.7L879.0,902.9L881.8,909.0L884.7,915.1L887.6,921.2L890.5,927.3L893.2,933.5L895.7,939.6L897.9,945.7L899.7,951.8L901.1,958.0L902.1,964.1L902.5,970.2L902.5,976.3L902.0,982.4L901.0,988.6L899.6,994.7L897.7,1000.8L895.5,1006.9L893.0,1013.1L890.2,1019.2L887.4,1025.3L884.5,1031.4L881.6,1037.5L878.8,1043.7L876.2,1049.8L873.9,1055.9L872.0,1062.0L870.4,1068.2L869.3,1074.3L868.7,1080.4L868.5,1086.5L868.9,1092.6L869.7,1098.8L871.0,1104.9L872.7,1111.0L874.8,1117.1L877.2,1123.3L879.9,1129.4L882.7,1135.5" stroke-width="1.6"/>
<path d="M889.4,584.5L886.5,590.6L883.8,596.7L881.4,602.9L879.2,609.0L877.4,615.1L876.0,621.2L875.0,627.4L874.5,633.5L874.6,639.6L875.1,645.7L876.1,651.8L877.6,658.0L879.5,664.1L881.7,670.2L884.2,676.3L886.9,682.5L889.8,688.6L892.7,694.7L895.6,700.8L898.4,706.9L900.9,713.1L903.2,719.2L905.2,725.3L906.7,731.4L907.8,737.6L908.5,743.7L908.6,749.8L908.2,755.9L907.4,762.0L906.1,768.2L904.3,774.3L902.2,780.4L899.8,786.5L897.1,792.7L894.3,798.8L891.4,804.9L888.5,811.0L885.7,817.1L883.0,823.3L880.6,829.4L878.6,835.5L876.9,841.6L875.6,847.8L874.8,853.9L874.5,860.0L874.7,866.1L875.4,872.2L876.5,878.4L878.1,884.5L880.1,890.6L882.5,896.7L885.0,902.9L887.8,909.0L890.7,915.1L893.6,921.2L896.5,927.3L899.2,933.5L901.7,939.6L903.9,945.7L905.7,951.8L907.1,958.0L908.1,964.1L908.5,970.2L908.5,976.3L908.0,982.4L907.0,988.6L905.6,994.7L903.7,1000.8L901.5,1006.9L899.0,1013.1L896.2,1019.2L893.4,1025.3L890.5,1031.4L887.6,1037.5L884.8,1043.7L882.2,1049.8L879.9,1055.9L878.0,1062.0L876.4,1068.2L875.3,1074.3L874.7,1080.4L874.5,1086.5L874.9,1092.6L875.7,1098.8L877.0,1104.9L878.7,1111.0L880.8,1117.1L883.2,1123.3L885.9,1129.4L888.7,1135.5" stroke-width="1.6"/>
<path d="M896.6,584.5L893.7,590.6L891.0,596.7L888.6,602.9L886.4,609.0L884.6,615.1L883.2,621.2L882.2,627.4L881.7,633.5L881.8,639.6L882.3,645.7L883.3,651.8L884.8,658.0L886.7,664.1L888.9,670.2L891.4,676.3L894.1,682.5L897.0,688.6L899.9,694.7L902.8,700.8L905.6,706.9L908.1,713.1L910.4,719.2L912.4,725.3L913.9,731.4L915.0,737.6L915.7,743.7L915.8,749.8L915.4,755.9L914.6,762.0L913.3,768.2L911.5,774.3L909.4,780.4L907.0,786.5L904.3,792.7L901.5,798.8L898.6,804.9L895.7,811.0L892.9,817.1L890.2,823.3L887.8,829.4L885.8,835.5L884.1,841.6L882.8,847.8L882.0,853.9L881.7,860.0L881.9,866.1L882.6,872.2L883.7,878.4L885.3,884.5L887.3,890.6L889.7,896.7L892.2,902.9L895.0,909.0L897.9,915.1L900.8,921.2L903.7,927.3L906.4,933.5L908.9,939.6L911.1,945.7L912.9,951.8L914.3,958.0L915.3,964.1L915.7,970.2L915.7,976.3L915.2,982.4L914.2,988.6L912.8,994.7L910.9,1000.8L908.7,1006.9L906.2,1013.1L903.4,1019.2L900.6,1025.3L897.7,1031.4L894.8,1037.5L892.0,1043.7L889.4,1049.8L887.1,1055.9L885.2,1062.0L883.6,1068.2L882.5,1074.3L881.9,1080.4L881.7,1086.5L882.1,1092.6L882.9,1098.8L884.2,1104.9L885.9,1111.0L888.0,1117.1L890.4,1123.3L893.1,1129.4L895.9,1135.5" stroke-width="2.0"/>
<path d="M901.0,584.5L898.1,590.6L895.4,596.7L893.0,602.9L890.8,609.0L889.0,615.1L887.6,621.2L886.6,627.4L886.1,633.5L886.2,639.6L886.7,645.7L887.7,651.8L889.2,658.0L891.1,664.1L893.3,670.2L895.8,676.3L898.5,682.5L901.4,688.6L904.3,694.7L907.2,700.8L910.0,706.9L912.5,713.1L914.8,719.2L916.8,725.3L918.3,731.4L919.4,737.6L920.1,743.7L920.2,749.8L919.8,755.9L919.0,762.0L917.7,768.2L915.9,774.3L913.8,780.4L911.4,786.5L908.7,792.7L905.9,798.8L903.0,804.9L900.1,811.0L897.3,817.1L894.6,823.3L892.2,829.4L890.2,835.5L888.5,841.6L887.2,847.8L886.4,853.9L886.1,860.0L886.3,866.1L887.0,872.2L888.1,878.4L889.7,884.5L891.7,890.6L894.1,896.7L896.6,902.9L899.4,909.0L902.3,915.1L905.2,921.2L908.1,927.3L910.8,933.5L913.3,939.6L915.5,945.7L917.3,951.8L918.7,958.0L919.7,964.1L920.1,970.2L920.1,976.3L919.6,982.4L918.6,988.6L917.2,994.7L915.3,1000.8L913.1,1006.9L910.6,1013.1L907.8,1019.2L905.0,1025.3L902.1,1031.4L899.2,1037.5L896.4,1043.7L893.8,1049.8L891.5,1055.9L889.6,1062.0L888.0,1068.2L886.9,1074.3L886.3,1080.4L886.1,1086.5L886.5,1092.6L887.3,1098.8L888.6,1104.9L890.3,1111.0L892.4,1117.1L894.8,1123.3L897.5,1129.4L900.3,1135.5" stroke-width="2.3"/>
<path d="M885.6,693.8L898.8,690.2" stroke-width="1.5"/>
<path d="M885.6,803.1L898.8,806.6" stroke-width="1.5"/>
<path d="M885.6,918.4L898.8,914.9" stroke-width="1.5"/>
<path d="M885.6,1027.7L898.8,1031.2" stroke-width="1.5"/>
<path d="M883.4,585.0C883.7,580.0 887.7,578.0 891.7,579.0C897.2,580.0 901.7,582.5 901.0,588.5" stroke-width="1.9"/>
<path d="M886.2,581.0L889.4,585.0M891.7,579.0L895.2,583.5L896.6,589.5M895.2,583.5L899.2,590.0L900.7,586.0" stroke-width="1.4"/>
<path d="M882.7,1135.0C883.5,1139.0 887.5,1141.5 892.5,1141.0C897.5,1140.0 901.5,1136.5 900.3,1131.5" stroke-width="1.9"/>
<path d="M888.7,1135.0L892.5,1141.0M895.9,1132.5L894.0,1137.0L898.5,1137.5L900.1,1132.5M894.0,1137.0L892.5,1141.0" stroke-width="1.4"/>
<path d="M965.3,584.5L962.4,590.6L959.7,596.7L957.3,602.9L955.1,609.0L953.3,615.1L951.9,621.2L950.9,627.4L950.4,633.5L950.5,639.6L951.0,645.7L952.0,651.8L953.5,658.0L955.4,664.1L957.6,670.2L960.1,676.3L962.8,682.5L965.7,688.6L968.6,694.7L971.5,700.8L974.3,706.9L976.8,713.1L979.1,719.2L981.1,725.3L982.6,731.4L983.7,737.6L984.4,743.7L984.5,749.8L984.1,755.9L983.3,762.0L982.0,768.2L980.2,774.3L978.1,780.4L975.7,786.5L973.0,792.7L970.2,798.8L967.3,804.9L964.4,811.0L961.6,817.1L958.9,823.3L956.5,829.4L954.5,835.5L952.8,841.6L951.5,847.8L950.7,853.9L950.4,860.0L950.6,866.1L951.3,872.2L952.4,878.4L954.0,884.5L956.0,890.6L958.4,896.7L960.9,902.9L963.7,909.0L966.6,915.1L969.5,921.2L972.4,927.3L975.1,933.5L977.6,939.6L979.8,945.7L981.6,951.8L983.0,958.0L984.0,964.1L984.4,970.2L984.4,976.3L983.9,982.4L982.9,988.6L981.5,994.7L979.6,1000.8L977.4,1006.9L974.9,1013.1L972.1,1019.2L969.3,1025.3L966.4,1031.4L963.5,1037.5L960.7,1043.7L958.1,1049.8L955.8,1055.9L953.9,1062.0L952.3,1068.2L951.2,1074.3L950.6,1080.4L950.4,1086.5L950.8,1092.6L951.6,1098.8L952.9,1104.9L954.6,1111.0L956.7,1117.1L959.1,1123.3L961.8,1129.4L964.6,1135.5" stroke-width="1.6"/>
<path d="M971.3,584.5L968.4,590.6L965.7,596.7L963.3,602.9L961.1,609.0L959.3,615.1L957.9,621.2L956.9,627.4L956.4,633.5L956.5,639.6L957.0,645.7L958.0,651.8L959.5,658.0L961.4,664.1L963.6,670.2L966.1,676.3L968.8,682.5L971.7,688.6L974.6,694.7L977.5,700.8L980.3,706.9L982.8,713.1L985.1,719.2L987.1,725.3L988.6,731.4L989.7,737.6L990.4,743.7L990.5,749.8L990.1,755.9L989.3,762.0L988.0,768.2L986.2,774.3L984.1,780.4L981.7,786.5L979.0,792.7L976.2,798.8L973.3,804.9L970.4,811.0L967.6,817.1L964.9,823.3L962.5,829.4L960.5,835.5L958.8,841.6L957.5,847.8L956.7,853.9L956.4,860.0L956.6,866.1L957.3,872.2L958.4,878.4L960.0,884.5L962.0,890.6L964.4,896.7L966.9,902.9L969.7,909.0L972.6,915.1L975.5,921.2L978.4,927.3L981.1,933.5L983.6,939.6L985.8,945.7L987.6,951.8L989.0,958.0L990.0,964.1L990.4,970.2L990.4,976.3L989.9,982.4L988.9,988.6L987.5,994.7L985.6,1000.8L983.4,1006.9L980.9,1013.1L978.1,1019.2L975.3,1025.3L972.4,1031.4L969.5,1037.5L966.7,1043.7L964.1,1049.8L961.8,1055.9L959.9,1062.0L958.3,1068.2L957.2,1074.3L956.6,1080.4L956.4,1086.5L956.8,1092.6L957.6,1098.8L958.9,1104.9L960.6,1111.0L962.7,1117.1L965.1,1123.3L967.8,1129.4L970.6,1135.5" stroke-width="1.6"/>
<path d="M978.5,584.5L975.6,590.6L972.9,596.7L970.5,602.9L968.3,609.0L966.5,615.1L965.1,621.2L964.1,627.4L963.6,633.5L963.7,639.6L964.2,645.7L965.2,651.8L966.7,658.0L968.6,664.1L970.8,670.2L973.3,676.3L976.0,682.5L978.9,688.6L981.8,694.7L984.7,700.8L987.5,706.9L990.0,713.1L992.3,719.2L994.3,725.3L995.8,731.4L996.9,737.6L997.6,743.7L997.7,749.8L997.3,755.9L996.5,762.0L995.2,768.2L993.4,774.3L991.3,780.4L988.9,786.5L986.2,792.7L983.4,798.8L980.5,804.9L977.6,811.0L974.8,817.1L972.1,823.3L969.7,829.4L967.7,835.5L966.0,841.6L964.7,847.8L963.9,853.9L963.6,860.0L963.8,866.1L964.5,872.2L965.6,878.4L967.2,884.5L969.2,890.6L971.6,896.7L974.1,902.9L976.9,909.0L979.8,915.1L982.7,921.2L985.6,927.3L988.3,933.5L990.8,939.6L993.0,945.7L994.8,951.8L996.2,958.0L997.2,964.1L997.6,970.2L997.6,976.3L997.1,982.4L996.1,988.6L994.7,994.7L992.8,1000.8L990.6,1006.9L988.1,1013.1L985.3,1019.2L982.5,1025.3L979.6,1031.4L976.7,1037.5L973.9,1043.7L971.3,1049.8L969.0,1055.9L967.1,1062.0L965.5,1068.2L964.4,1074.3L963.8,1080.4L963.6,1086.5L964.0,1092.6L964.8,1098.8L966.1,1104.9L967.8,1111.0L969.9,1117.1L972.3,1123.3L975.0,1129.4L977.8,1135.5" stroke-width="2.0"/>
<path d="M982.9,584.5L980.0,590.6L977.3,596.7L974.9,602.9L972.7,609.0L970.9,615.1L969.5,621.2L968.5,627.4L968.0,633.5L968.1,639.6L968.6,645.7L969.6,651.8L971.1,658.0L973.0,664.1L975.2,670.2L977.7,676.3L980.4,682.5L983.3,688.6L986.2,694.7L989.1,700.8L991.9,706.9L994.4,713.1L996.7,719.2L998.7,725.3L1000.2,731.4L1001.3,737.6L1002.0,743.7L1002.1,749.8L1001.7,755.9L1000.9,762.0L999.6,768.2L997.8,774.3L995.7,780.4L993.3,786.5L990.6,792.7L987.8,798.8L984.9,804.9L982.0,811.0L979.2,817.1L976.5,823.3L974.1,829.4L972.1,835.5L970.4,841.6L969.1,847.8L968.3,853.9L968.0,860.0L968.2,866.1L968.9,872.2L970.0,878.4L971.6,884.5L973.6,890.6L976.0,896.7L978.5,902.9L981.3,909.0L984.2,915.1L987.1,921.2L990.0,927.3L992.7,933.5L995.2,939.6L997.4,945.7L999.2,951.8L1000.6,958.0L1001.6,964.1L1002.0,970.2L1002.0,976.3L1001.5,982.4L1000.5,988.6L999.1,994.7L997.2,1000.8L995.0,1006.9L992.5,1013.1L989.7,1019.2L986.9,1025.3L984.0,1031.4L981.1,1037.5L978.3,1043.7L975.7,1049.8L973.4,1055.9L971.5,1062.0L969.9,1068.2L968.8,1074.3L968.2,1080.4L968.0,1086.5L968.4,1092.6L969.2,1098.8L970.5,1104.9L972.2,1111.0L974.3,1117.1L976.7,1123.3L979.4,1129.4L982.2,1135.5" stroke-width="2.3"/>
<path d="M967.5,693.8L980.6,690.2" stroke-width="1.5"/>
<path d="M967.5,803.1L980.6,806.6" stroke-width="1.5"/>
<path d="M967.5,918.4L980.6,914.9" stroke-width="1.5"/>
<path d="M967.5,1027.7L980.6,1031.2" stroke-width="1.5"/>
<path d="M965.3,585.0C965.6,580.0 969.6,578.0 973.6,579.0C979.1,580.0 983.6,582.5 982.9,588.5" stroke-width="1.9"/>
<path d="M968.1,581.0L971.3,585.0M973.6,579.0L977.1,583.5L978.5,589.5M977.1,583.5L981.1,590.0L982.6,586.0" stroke-width="1.4"/>
<path d="M964.6,1135.0C965.4,1139.0 969.4,1141.5 974.4,1141.0C979.4,1140.0 983.4,1136.5 982.2,1131.5" stroke-width="1.9"/>
<path d="M970.6,1135.0L974.4,1141.0M977.8,1132.5L975.9,1137.0L980.4,1137.5L982.0,1132.5M975.9,1137.0L974.4,1141.0" stroke-width="1.4"/>
<path d="M1047.2,584.5L1044.3,590.6L1041.6,596.7L1039.2,602.9L1037.0,609.0L1035.2,615.1L1033.8,621.2L1032.8,627.4L1032.3,633.5L1032.4,639.6L1032.9,645.7L1033.9,651.8L1035.4,658.0L1037.3,664.1L1039.5,670.2L1042.0,676.3L1044.7,682.5L1047.6,688.6L1050.5,694.7L1053.4,700.8L1056.2,706.9L1058.7,713.1L1061.0,719.2L1063.0,725.3L1064.5,731.4L1065.6,737.6L1066.3,743.7L1066.4,749.8L1066.0,755.9L1065.2,762.0L1063.9,768.2L1062.1,774.3L1060.0,780.4L1057.6,786.5L1054.9,792.7L1052.1,798.8L1049.2,804.9L1046.3,811.0L1043.5,817.1L1040.8,823.3L1038.4,829.4L1036.4,835.5L1034.7,841.6L1033.4,847.8L1032.6,853.9L1032.3,860.0L1032.5,866.1L1033.2,872.2L1034.3,878.4L1035.9,884.5L1037.9,890.6L1040.3,896.7L1042.8,902.9L1045.6,909.0L1048.5,915.1L1051.4,921.2L1054.3,927.3L1057.0,933.5L1059.5,939.6L1061.7,945.7L1063.5,951.8L1064.9,958.0L1065.9,964.1L1066.3,970.2L1066.3,976.3L1065.8,982.4L1064.8,988.6L1063.4,994.7L1061.5,1000.8L1059.3,1006.9L1056.8,1013.1L1054.0,1019.2L1051.2,1025.3L1048.3,1031.4L1045.4,1037.5L1042.6,1043.7L1040.0,1049.8L1037.7,1055.9L1035.8,1062.0L1034.2,1068.2L1033.1,1074.3L1032.5,1080.4L1032.3,1086.5L1032.7,1092.6L1033.5,1098.8L1034.8,1104.9L1036.5,1111.0L1038.6,1117.1L1041.0,1123.3L1043.7,1129.4L1046.5,1135.5" stroke-width="1.6"/>
<path d="M1053.2,584.5L1050.3,590.6L1047.6,596.7L1045.2,602.9L1043.0,609.0L1041.2,615.1L1039.8,621.2L1038.8,627.4L1038.3,633.5L1038.4,639.6L1038.9,645.7L1039.9,651.8L1041.4,658.0L1043.3,664.1L1045.5,670.2L1048.0,676.3L1050.7,682.5L1053.6,688.6L1056.5,694.7L1059.4,700.8L1062.2,706.9L1064.7,713.1L1067.0,719.2L1069.0,725.3L1070.5,731.4L1071.6,737.6L1072.3,743.7L1072.4,749.8L1072.0,755.9L1071.2,762.0L1069.9,768.2L1068.1,774.3L1066.0,780.4L1063.6,786.5L1060.9,792.7L1058.1,798.8L1055.2,804.9L1052.3,811.0L1049.5,817.1L1046.8,823.3L1044.4,829.4L1042.4,835.5L1040.7,841.6L1039.4,847.8L1038.6,853.9L1038.3,860.0L1038.5,866.1L1039.2,872.2L1040.3,878.4L1041.9,884.5L1043.9,890.6L1046.3,896.7L1048.8,902.9L1051.6,909.0L1054.5,915.1L1057.4,921.2L1060.3,927.3L1063.0,933.5L1065.5,939.6L1067.7,945.7L1069.5,951.8L1070.9,958.0L1071.9,964.1L1072.3,970.2L1072.3,976.3L1071.8,982.4L1070.8,988.6L1069.4,994.7L1067.5,1000.8L1065.3,1006.9L1062.8,1013.1L1060.0,1019.2L1057.2,1025.3L1054.3,1031.4L1051.4,1037.5L1048.6,1043.7L1046.0,1049.8L1043.7,1055.9L1041.8,1062.0L1040.2,1068.2L1039.1,1074.3L1038.5,1080.4L1038.3,1086.5L1038.7,1092.6L1039.5,1098.8L1040.8,1104.9L1042.5,1111.0L1044.6,1117.1L1047.0,1123.3L1049.7,1129.4L1052.5,1135.5" stroke-width="1.6"/>
<path d="M1060.4,584.5L1057.5,590.6L1054.8,596.7L1052.4,602.9L1050.2,609.0L1048.4,615.1L1047.0,621.2L1046.0,627.4L1045.5,633.5L1045.6,639.6L1046.1,645.7L1047.1,651.8L1048.6,658.0L1050.5,664.1L1052.7,670.2L1055.2,676.3L1057.9,682.5L1060.8,688.6L1063.7,694.7L1066.6,700.8L1069.4,706.9L1071.9,713.1L1074.2,719.2L1076.2,725.3L1077.7,731.4L1078.8,737.6L1079.5,743.7L1079.6,749.8L1079.2,755.9L1078.4,762.0L1077.1,768.2L1075.3,774.3L1073.2,780.4L1070.8,786.5L1068.1,792.7L1065.3,798.8L1062.4,804.9L1059.5,811.0L1056.7,817.1L1054.0,823.3L1051.6,829.4L1049.6,835.5L1047.9,841.6L1046.6,847.8L1045.8,853.9L1045.5,860.0L1045.7,866.1L1046.4,872.2L1047.5,878.4L1049.1,884.5L1051.1,890.6L1053.5,896.7L1056.0,902.9L1058.8,909.0L1061.7,915.1L1064.6,921.2L1067.5,927.3L1070.2,933.5L1072.7,939.6L1074.9,945.7L1076.7,951.8L1078.1,958.0L1079.1,964.1L1079.5,970.2L1079.5,976.3L1079.0,982.4L1078.0,988.6L1076.6,994.7L1074.7,1000.8L1072.5,1006.9L1070.0,1013.1L1067.2,1019.2L1064.4,1025.3L1061.5,1031.4L1058.6,1037.5L1055.8,1043.7L1053.2,1049.8L1050.9,1055.9L1049.0,1062.0L1047.4,1068.2L1046.3,1074.3L1045.7,1080.4L1045.5,1086.5L1045.9,1092.6L1046.7,1098.8L1048.0,1104.9L1049.7,1111.0L1051.8,1117.1L1054.2,1123.3L1056.9,1129.4L1059.7,1135.5" stroke-width="2.0"/>
<path d="M1064.8,584.5L1061.9,590.6L1059.2,596.7L1056.8,602.9L1054.6,609.0L1052.8,615.1L1051.4,621.2L1050.4,627.4L1049.9,633.5L1050.0,639.6L1050.5,645.7L1051.5,651.8L1053.0,658.0L1054.9,664.1L1057.1,670.2L1059.6,676.3L1062.3,682.5L1065.2,688.6L1068.1,694.7L1071.0,700.8L1073.8,706.9L1076.3,713.1L1078.6,719.2L1080.6,725.3L1082.1,731.4L1083.2,737.6L1083.9,743.7L1084.0,749.8L1083.6,755.9L1082.8,762.0L1081.5,768.2L1079.7,774.3L1077.6,780.4L1075.2,786.5L1072.5,792.7L1069.7,798.8L1066.8,804.9L1063.9,811.0L1061.1,817.1L1058.4,823.3L1056.0,829.4L1054.0,835.5L1052.3,841.6L1051.0,847.8L1050.2,853.9L1049.9,860.0L1050.1,866.1L1050.8,872.2L1051.9,878.4L1053.5,884.5L1055.5,890.6L1057.9,896.7L1060.4,902.9L1063.2,909.0L1066.1,915.1L1069.0,921.2L1071.9,927.3L1074.6,933.5L1077.1,939.6L1079.3,945.7L1081.1,951.8L1082.5,958.0L1083.5,964.1L1083.9,970.2L1083.9,976.3L1083.4,982.4L1082.4,988.6L1081.0,994.7L1079.1,1000.8L1076.9,1006.9L1074.4,1013.1L1071.6,1019.2L1068.8,1025.3L1065.9,1031.4L1063.0,1037.5L1060.2,1043.7L1057.6,1049.8L1055.3,1055.9L1053.4,1062.0L1051.8,1068.2L1050.7,1074.3L1050.1,1080.4L1049.9,1086.5L1050.3,1092.6L1051.1,1098.8L1052.4,1104.9L1054.1,1111.0L1056.2,1117.1L1058.6,1123.3L1061.3,1129.4L1064.1,1135.5" stroke-width="2.3"/>
<path d="M1049.4,693.8L1062.6,690.2" stroke-width="1.5"/>
<path d="M1049.4,803.1L1062.6,806.6" stroke-width="1.5"/>
<path d="M1049.4,918.4L1062.6,914.9" stroke-width="1.5"/>
<path d="M1049.4,1027.7L1062.6,1031.2" stroke-width="1.5"/>
<path d="M1047.2,585.0C1047.5,580.0 1051.5,578.0 1055.5,579.0C1061.0,580.0 1065.5,582.5 1064.8,588.5" stroke-width="1.9"/>
<path d="M1050.0,581.0L1053.2,585.0M1055.5,579.0L1059.0,583.5L1060.4,589.5M1059.0,583.5L1063.0,590.0L1064.5,586.0" stroke-width="1.4"/>
<path d="M1046.5,1135.0C1047.3,1139.0 1051.3,1141.5 1056.3,1141.0C1061.3,1140.0 1065.3,1136.5 1064.1,1131.5" stroke-width="1.9"/>
<path d="M1052.5,1135.0L1056.3,1141.0M1059.7,1132.5L1057.8,1137.0L1062.3,1137.5L1063.9,1132.5M1057.8,1137.0L1056.3,1141.0" stroke-width="1.4"/>
<path d="M1129.1,584.5L1126.2,590.6L1123.5,596.7L1121.1,602.9L1118.9,609.0L1117.1,615.1L1115.7,621.2L1114.7,627.4L1114.2,633.5L1114.3,639.6L1114.8,645.7L1115.8,651.8L1117.3,658.0L1119.2,664.1L1121.4,670.2L1123.9,676.3L1126.6,682.5L1129.5,688.6L1132.4,694.7L1135.3,700.8L1138.1,706.9L1140.6,713.1L1142.9,719.2L1144.9,725.3L1146.4,731.4L1147.5,737.6L1148.2,743.7L1148.3,749.8L1147.9,755.9L1147.1,762.0L1145.8,768.2L1144.0,774.3L1141.9,780.4L1139.5,786.5L1136.8,792.7L1134.0,798.8L1131.1,804.9L1128.2,811.0L1125.4,817.1L1122.7,823.3L1120.3,829.4L1118.3,835.5L1116.6,841.6L1115.3,847.8L1114.5,853.9L1114.2,860.0L1114.4,866.1L1115.1,872.2L1116.2,878.4L1117.8,884.5L1119.8,890.6L1122.2,896.7L1124.7,902.9L1127.5,909.0L1130.4,915.1L1133.3,921.2L1136.2,927.3L1138.9,933.5L1141.4,939.6L1143.6,945.7L1145.4,951.8L1146.8,958.0L1147.8,964.1L1148.2,970.2L1148.2,976.3L1147.7,982.4L1146.7,988.6L1145.3,994.7L1143.4,1000.8L1141.2,1006.9L1138.7,1013.1L1135.9,1019.2L1133.1,1025.3L1130.2,1031.4L1127.3,1037.5L1124.5,1043.7L1121.9,1049.8L1119.6,1055.9L1117.7,1062.0L1116.1,1068.2L1115.0,1074.3L1114.4,1080.4L1114.2,1086.5L1114.6,1092.6L1115.4,1098.8L1116.7,1104.9L1118.4,1111.0L1120.5,1117.1L1122.9,1123.3L1125.6,1129.4L1128.4,1135.5" stroke-width="1.6"/>
<path d="M1135.1,584.5L1132.2,590.6L1129.5,596.7L1127.1,602.9L1124.9,609.0L1123.1,615.1L1121.7,621.2L1120.7,627.4L1120.2,633.5L1120.3,639.6L1120.8,645.7L1121.8,651.8L1123.3,658.0L1125.2,664.1L1127.4,670.2L1129.9,676.3L1132.6,682.5L1135.5,688.6L1138.4,694.7L1141.3,700.8L1144.1,706.9L1146.6,713.1L1148.9,719.2L1150.9,725.3L1152.4,731.4L1153.5,737.6L1154.2,743.7L1154.3,749.8L1153.9,755.9L1153.1,762.0L1151.8,768.2L1150.0,774.3L1147.9,780.4L1145.5,786.5L1142.8,792.7L1140.0,798.8L1137.1,804.9L1134.2,811.0L1131.4,817.1L1128.7,823.3L1126.3,829.4L1124.3,835.5L1122.6,841.6L1121.3,847.8L1120.5,853.9L1120.2,860.0L1120.4,866.1L1121.1,872.2L1122.2,878.4L1123.8,884.5L1125.8,890.6L1128.2,896.7L1130.7,902.9L1133.5,909.0L1136.4,915.1L1139.3,921.2L1142.2,927.3L1144.9,933.5L1147.4,939.6L1149.6,945.7L1151.4,951.8L1152.8,958.0L1153.8,964.1L1154.2,970.2L1154.2,976.3L1153.7,982.4L1152.7,988.6L1151.3,994.7L1149.4,1000.8L1147.2,1006.9L1144.7,1013.1L1141.9,1019.2L1139.1,1025.3L1136.2,1031.4L1133.3,1037.5L1130.5,1043.7L1127.9,1049.8L1125.6,1055.9L1123.7,1062.0L1122.1,1068.2L1121.0,1074.3L1120.4,1080.4L1120.2,1086.5L1120.6,1092.6L1121.4,1098.8L1122.7,1104.9L1124.4,1111.0L1126.5,1117.1L1128.9,1123.3L1131.6,1129.4L1134.4,1135.5" stroke-width="1.6"/>
<path d="M1142.3,584.5L1139.4,590.6L1136.7,596.7L1134.3,602.9L1132.1,609.0L1130.3,615.1L1128.9,621.2L1127.9,627.4L1127.4,633.5L1127.5,639.6L1128.0,645.7L1129.0,651.8L1130.5,658.0L1132.4,664.1L1134.6,670.2L1137.1,676.3L1139.8,682.5L1142.7,688.6L1145.6,694.7L1148.5,700.8L1151.3,706.9L1153.8,713.1L1156.1,719.2L1158.1,725.3L1159.6,731.4L1160.7,737.6L1161.4,743.7L1161.5,749.8L1161.1,755.9L1160.3,762.0L1159.0,768.2L1157.2,774.3L1155.1,780.4L1152.7,786.5L1150.0,792.7L1147.2,798.8L1144.3,804.9L1141.4,811.0L1138.6,817.1L1135.9,823.3L1133.5,829.4L1131.5,835.5L1129.8,841.6L1128.5,847.8L1127.7,853.9L1127.4,860.0L1127.6,866.1L1128.3,872.2L1129.4,878.4L1131.0,884.5L1133.0,890.6L1135.4,896.7L1137.9,902.9L1140.7,909.0L1143.6,915.1L1146.5,921.2L1149.4,927.3L1152.1,933.5L1154.6,939.6L1156.8,945.7L1158.6,951.8L1160.0,958.0L1161.0,964.1L1161.4,970.2L1161.4,976.3L1160.9,982.4L1159.9,988.6L1158.5,994.7L1156.6,1000.8L1154.4,1006.9L1151.9,1013.1L1149.1,1019.2L1146.3,1025.3L1143.4,1031.4L1140.5,1037.5L1137.7,1043.7L1135.1,1049.8L1132.8,1055.9L1130.9,1062.0L1129.3,1068.2L1128.2,1074.3L1127.6,1080.4L1127.4,1086.5L1127.8,1092.6L1128.6,1098.8L1129.9,1104.9L1131.6,1111.0L1133.7,1117.1L1136.1,1123.3L1138.8,1129.4L1141.6,1135.5" stroke-width="2.0"/>
<path d="M1146.7,584.5L1143.8,590.6L1141.1,596.7L1138.7,602.9L1136.5,609.0L1134.7,615.1L1133.3,621.2L1132.3,627.4L1131.8,633.5L1131.9,639.6L1132.4,645.7L1133.4,651.8L1134.9,658.0L1136.8,664.1L1139.0,670.2L1141.5,676.3L1144.2,682.5L1147.1,688.6L1150.0,694.7L1152.9,700.8L1155.7,706.9L1158.2,713.1L1160.5,719.2L1162.5,725.3L1164.0,731.4L1165.1,737.6L1165.8,743.7L1165.9,749.8L1165.5,755.9L1164.7,762.0L1163.4,768.2L1161.6,774.3L1159.5,780.4L1157.1,786.5L1154.4,792.7L1151.6,798.8L1148.7,804.9L1145.8,811.0L1143.0,817.1L1140.3,823.3L1137.9,829.4L1135.9,835.5L1134.2,841.6L1132.9,847.8L1132.1,853.9L1131.8,860.0L1132.0,866.1L1132.7,872.2L1133.8,878.4L1135.4,884.5L1137.4,890.6L1139.8,896.7L1142.3,902.9L1145.1,909.0L1148.0,915.1L1150.9,921.2L1153.8,927.3L1156.5,933.5L1159.0,939.6L1161.2,945.7L1163.0,951.8L1164.4,958.0L1165.4,964.1L1165.8,970.2L1165.8,976.3L1165.3,982.4L1164.3,988.6L1162.9,994.7L1161.0,1000.8L1158.8,1006.9L1156.3,1013.1L1153.5,1019.2L1150.7,1025.3L1147.8,1031.4L1144.9,1037.5L1142.1,1043.7L1139.5,1049.8L1137.2,1055.9L1135.3,1062.0L1133.7,1068.2L1132.6,1074.3L1132.0,1080.4L1131.8,1086.5L1132.2,1092.6L1133.0,1098.8L1134.3,1104.9L1136.0,1111.0L1138.1,1117.1L1140.5,1123.3L1143.2,1129.4L1146.0,1135.5" stroke-width="2.3"/>
<path d="M1131.3,693.8L1144.5,690.2" stroke-width="1.5"/>
<path d="M1131.3,803.1L1144.5,806.6" stroke-width="1.5"/>
<path d="M1131.3,918.4L1144.5,914.9" stroke-width="1.5"/>
<path d="M1131.3,1027.7L1144.5,1031.2" stroke-width="1.5"/>
<path d="M1129.1,585.0C1129.4,580.0 1133.4,578.0 1137.4,579.0C1142.9,580.0 1147.4,582.5 1146.7,588.5" stroke-width="1.9"/>
<path d="M1131.9,581.0L1135.1,585.0M1137.4,579.0L1140.9,583.5L1142.3,589.5M1140.9,583.5L1144.9,590.0L1146.4,586.0" stroke-width="1.4"/>
<path d="M1128.4,1135.0C1129.2,1139.0 1133.2,1141.5 1138.2,1141.0C1143.2,1140.0 1147.2,1136.5 1146.0,1131.5" stroke-width="1.9"/>
<path d="M1134.4,1135.0L1138.2,1141.0M1141.6,1132.5L1139.7,1137.0L1144.2,1137.5L1145.8,1132.5M1139.7,1137.0L1138.2,1141.0" stroke-width="1.4"/>
<text transform="matrix(0,1,-1,0,1184.3,800.6) skewX(-12)" font-size="13" font-weight="bold" class="t" textLength="118.6" lengthAdjust="spacingAndGlyphs">426H8000/LERYK</text>
<path d="M692.7,1255.5L692.7,506.1L704.5,505.6L704.5,1256.5" fill="#fff"/>
<path d="M692.7,1255.0L704.5,1256.5L722.5,1254.7" stroke-width="1.7"/>
<path d="M704.5,1206.0L722.5,1203.7" stroke-width="1.7"/>
<path d="M704.5,1213.5L722.5,1211.0" stroke-width="1.7"/>
<path d="M645.6,1205.0L645.6,547.2L686.5,551.4L686.5,1207.5" fill="#fff"/>
<path d="M645.6,551.6L686.5,555.2" stroke-width="1.6"/>
<path d="M645.6,1204.6L686.5,1207.7"/>
<path d="M645.6,1208.4L686.5,1211.4"/>
<path d="M686.5,551.4L692.1,551.4" stroke-width="1.5"/>
<path d="M687,575L690,577.5L692,575.5M687,583H691V578" stroke-width="1.4"/>
<path d="M687,1181.5H691M688,1185L690.5,1186.5L690,1191L687,1192.5" stroke-width="1.4"/>
<rect x="641.2" y="523.5" width="50.9" height="19.9" fill="#fff"/>
<path d="M648.6,523.5L648.6,543.4" stroke-width="1.6"/>
<path d="M678.4,523.5L678.4,543.4" stroke-width="1.6"/>
<path d="M655.5,506.7L681.6,509.3L681.6,529.2L655.5,531.6Z" stroke-width="2.2" fill="#fff"/>
<rect x="681.6" y="511.0" width="10.9" height="16.8" fill="#fff"/>
<rect x="641.2" y="1213.3" width="50.9" height="19.2" fill="#fff"/>
<path d="M648.6,1213.3L648.6,1232.5" stroke-width="1.6"/>
<path d="M678.4,1213.3L678.4,1232.5" stroke-width="1.6"/>
<path d="M655.5,1217.0L681.6,1219.6L681.6,1239.5L655.5,1241.9Z" stroke-width="2.2" fill="#fff"/>
<rect x="681.6" y="1222.6" width="10.9" height="12.4" fill="#fff"/>
<path d="M659.5,543.4L659.5,546.5" stroke-width="1.5"/>
<path d="M668.5,543.4L668.5,546.5" stroke-width="1.5"/>
<circle cx="690.9" cy="1252.4" r="2.5" stroke-width="1.6"/>
<path d="M690.3,1200V1246" stroke-width="2.4" stroke-dasharray="3 2.5"/>
<path d="M705.2,1215V1244" stroke-width="2.0" stroke-dasharray="3 2.5"/>
<circle cx="1054.2" cy="410.5" r="8.0" stroke-width="2"/>
<path d="M1053.7,403V396.75" stroke-width="1.5"/>
<path d="M1054.2,430V440.75M1032,430V433H1050M1058,433H1075.5V430" stroke-width="1.6"/>
<rect x="1252.0" y="513.5" width="32.3" height="11.3" fill="#fff"/>
<path d="M1257,512Q1252,506 1245,505.5L1225,505Q1215,505.5 1140,524" stroke-width="1.6"/>
<path d="M646.2,899.5H642.5Q640.3,899.5 640.3,902V953Q640.3,956.4 643.5,956.4H646.2" stroke-width="1.7"/>
<rect x="612.2" y="901.9" width="28.0" height="27.8" fill="#fff"/>
<path d="M614.4,901.5L579.6,915.4L578.8,1040.7L596.2,1049.8L598.6,1048.3L598.6,1039.2L593.2,1036.9Q587.8,1034 587.2,1028L591.7,945Q594.2,929 611.2,927.5L614.4,930.2L612.8,925L615.8,920.5L613.2,915.5L615.8,910.5L613.2,906Z" stroke-width="2" fill="#fff"/>
<path d="M613.2,904.5Q594.2,908.5 580.8,917.5M614.2,911Q595.2,913 584.2,922L587.8,938M613.2,918.5Q597.2,923 590.2,941M580.8,917.5L580.2,1040M584.2,922L582.8,1037.5L596.8,1046" stroke-width="1.5"/>
<path d="M590.2,941L585.4,1029Q586.2,1036 592.8,1039" stroke-width="1.5"/>
</g>
<!-- topv -->
<path d="M2030.0,1738.5H1750.0Q1735.0,1738.5 1731.3,1757L1727.0,1773Q1725.5,1781 1719.5,1787" stroke-width="2.2"/>
<path d="M1729.6,1763Q1726.5,1760 1728.0,1756" stroke-width="1.5"/>
<path d="M1679.1,1814.3A34.8,34.8 0 1 1 1740.6,1842.6Q1738.1,1848.6 1746.5,1850.5L1751.0,1851.6" stroke-width="2.2"/>
<path d="M1679.1,1828.0A34.8,34.8 0 0 0 1709.0,1855.7Q1713.0,1856.7 1713.5,1862" stroke-width="2.2"/>
<path d="M1679.1,1814.3L1689.3,1814.3" stroke-width="2"/>
<path d="M1679.1,1828.0L1689.3,1828.0" stroke-width="2"/>
<path d="M1689.4,1814.3A24.8,24.8 0 1 1 1689.4,1828.0" stroke-width="2.2"/>
<circle cx="1713.2" cy="1821.2" r="22.2" stroke-width="1.5"/>
<path d="M1722.4,1826.5L1713.2,1831.8L1704.0,1826.5L1704.0,1815.9L1713.2,1810.6L1722.4,1815.9Z" stroke-width="1.8"/>
<circle cx="1713.2" cy="1821.2" r="5.5" stroke-width="1.8"/>
<path d="M1679.0,1828.0L1679.0,1937.3L1600.5,2211.0" stroke-width="2.2"/>
<path d="M1600.9,2210.2A34.8,34.8 0 0 0 1565.0,2237.5" stroke-width="2.2"/>
<path d="M1565.0,2251.2A34.8,34.8 0 0 0 1593.1,2279.3" stroke-width="2.2"/>
<path d="M1600.9,2210.2A34.8,34.8 0 0 1 1609.9,2278.1" stroke-width="2.2"/>
<path d="M1565.0,2237.5L1575.2,2237.5" stroke-width="2"/>
<path d="M1565.0,2251.2L1575.2,2251.2" stroke-width="2"/>
<path d="M1575.2,2237.5A24.8,24.8 0 1 1 1575.2,2251.2" stroke-width="2.2"/>
<circle cx="1599.1" cy="2245.0" r="22.2" stroke-width="1.5"/>
<path d="M1608.3,2250.3L1599.1,2255.6L1589.9,2250.3L1589.9,2239.7L1599.1,2234.4L1608.3,2239.7Z" stroke-width="1.8"/>
<circle cx="1599.1" cy="2245.0" r="5.5" stroke-width="1.8"/>
<path d="M2030.0,1738.5H2310.0Q2325.0,1738.5 2328.7,1757L2333.0,1773Q2334.5,1781 2340.5,1787" stroke-width="2.2"/>
<path d="M2330.4,1763Q2333.5,1760 2332.0,1756" stroke-width="1.5"/>
<path d="M2380.9,1814.3A34.8,34.8 0 1 0 2319.4,1842.6Q2321.9,1848.6 2313.5,1850.5L2309.0,1851.6" stroke-width="2.2"/>
<path d="M2378.6,1829.8Q2373.5,1840 2376.5,1845.5Q2379,1850.3 2385,1850.8" stroke-width="2.2"/>
<path d="M2380.9,1814.3L2370.7,1814.3" stroke-width="2"/>
<path d="M2380.9,1828.0L2370.7,1828.0" stroke-width="2"/>
<path d="M2370.6,1814.3A24.8,24.8 0 1 0 2370.6,1828.0" stroke-width="2.2"/>
<circle cx="2346.8" cy="1821.2" r="22.2" stroke-width="1.5"/>
<path d="M2356.0,1826.5L2346.8,1831.8L2337.6,1826.5L2337.6,1815.9L2346.8,1810.6L2356.0,1815.9Z" stroke-width="1.8"/>
<circle cx="2346.8" cy="1821.2" r="5.5" stroke-width="1.8"/>
<path d="M2427,1881.7Q2401,1891 2391,1909Q2383.5,1925 2385,1946L2459.5,2211" stroke-width="2.2"/>
<path d="M2459.1,2210.2A34.8,34.8 0 0 1 2495.0,2237.5" stroke-width="2.2"/>
<path d="M2495.0,2251.2A34.8,34.8 0 0 1 2466.9,2279.3" stroke-width="2.2"/>
<path d="M2459.1,2210.2A34.8,34.8 0 0 0 2450.1,2278.1" stroke-width="2.2"/>
<path d="M2495.0,2237.5L2484.8,2237.5" stroke-width="2"/>
<path d="M2495.0,2251.2L2484.8,2251.2" stroke-width="2"/>
<path d="M2484.8,2237.5A24.8,24.8 0 1 0 2484.8,2251.2" stroke-width="2.2"/>
<circle cx="2460.9" cy="2245.0" r="22.2" stroke-width="1.5"/>
<path d="M2470.1,2250.3L2460.9,2255.6L2451.7,2250.3L2451.7,2239.7L2460.9,2234.4L2470.1,2239.7Z" stroke-width="1.8"/>
<circle cx="2460.9" cy="2245.0" r="5.5" stroke-width="1.8"/>
<path d="M1593.4,2278.0L2466.6,2278.0" stroke-width="2"/>
<path d="M2030.0,1773.8H1797.0Q1783.0,1774 1778.5,1784.5L1762.4,1846.6" stroke-width="1.9"/>
<path d="M1807.0,1779.5L1769.8,1849" stroke-width="1.9"/>
<path d="M1753.7,1866.5L1741.2,1916M1736.3,1932.3L1723.9,1981M1719.5,1998L1708.5,2046M1704.5,2064L1694.5,2112M1691.0,2128L1676.8,2198Q1675.0,2213.2 1690.0,2213.2H2030.0" stroke-width="1.9"/>
<path d="M1797.0,1773.8L1808.0,1779.5" stroke-width="1.7"/>
<path d="M1807.0,1779.5L1875.0,1794.5Q1886.0,1794.4 1893.0,1794.4" stroke-width="1.9"/>
<path d="M1781.0,1785.5L1862.0,1803.5Q1873.0,1798 1893.0,1794.4" stroke-width="1.9"/>
<path d="M1873.0,1803.5L1866.7,1851.6" stroke-width="1.9"/>
<path d="M1865.5,1865.2L1861.7,1917.4" stroke-width="1.9"/>
<path d="M1860.5,1931.0L1860.5,2090.0" stroke-width="1.9"/>
<path d="M1860.5,2090Q1860.5,2101.6 1872.0,2101.6H2030.0" stroke-width="1.9"/>
<path d="M1860.5,2097.1L1679.1,2201.5" stroke-width="2.0"/>
<path d="M1869.2,2103.4L1689.0,2212.7" stroke-width="2.0"/>
<path d="M1765.0,2149.5L1768.5,2157.0" stroke-width="1.6"/>
<path d="M1860.5,1960.0L1840.0,1996.9" stroke-width="1.8"/>
<path d="M1829.0,2018.0L1815.5,2047.5" stroke-width="1.8"/>
<path d="M1808.0,2062.9L1783.0,2113.3" stroke-width="1.8"/>
<path d="M1776.0,2127.0L1764.8,2149.3" stroke-width="1.8"/>
<path d="M1896.0,1797.5Q1878.5,1806 1878.0,1826V1968" stroke-width="1.8"/>
<path d="M1899.0,1801Q1882.0,1810 1881.6,1828V1966" stroke-width="1.5"/>
<path d="M2030.0,1773.8H2263.0Q2277.0,1774 2281.5,1784.5L2297.6,1846.6" stroke-width="1.9"/>
<path d="M2253.0,1779.5L2290.2,1849" stroke-width="1.9"/>
<path d="M2306.3,1866.5L2318.8,1916M2323.7,1932.3L2336.1,1981M2340.5,1998L2351.5,2046M2355.5,2064L2365.5,2112M2369.0,2128L2383.2,2198Q2385.0,2213.2 2370.0,2213.2H2030.0" stroke-width="1.9"/>
<path d="M2263.0,1773.8L2252.0,1779.5" stroke-width="1.7"/>
<path d="M2253.0,1779.5L2185.0,1794.5Q2174.0,1794.4 2167.0,1794.4" stroke-width="1.9"/>
<path d="M2279.0,1785.5L2198.0,1803.5Q2187.0,1798 2167.0,1794.4" stroke-width="1.9"/>
<path d="M2187.0,1803.5L2193.3,1851.6" stroke-width="1.9"/>
<path d="M2194.5,1865.2L2198.3,1917.4" stroke-width="1.9"/>
<path d="M2199.5,1931.0L2199.5,2090.0" stroke-width="1.9"/>
<path d="M2199.5,2090Q2199.5,2101.6 2188.0,2101.6H2030.0" stroke-width="1.9"/>
<path d="M2199.5,2097.1L2380.9,2201.5" stroke-width="2.0"/>
<path d="M2190.8,2103.4L2371.0,2212.7" stroke-width="2.0"/>
<path d="M2295.0,2149.5L2291.5,2157.0" stroke-width="1.6"/>
<path d="M2199.5,1960.0L2220.0,1996.9" stroke-width="1.8"/>
<path d="M2231.0,2018.0L2244.5,2047.5" stroke-width="1.8"/>
<path d="M2252.0,2062.9L2277.0,2113.3" stroke-width="1.8"/>
<path d="M2284.0,2127.0L2295.2,2149.3" stroke-width="1.8"/>
<path d="M2164.0,1797.5Q2181.5,1806 2182.0,1826V1968" stroke-width="1.8"/>
<path d="M2161.0,1801Q2178.0,1810 2178.4,1828V1966" stroke-width="1.5"/>
<path d="M1893.0,1794.4L2167.0,1794.4" stroke-width="1.9"/>
<path d="M1878,1968A153,150 0 0 0 2030,2097" stroke-width="1.5"/>
<path d="M2182,1928A153,150 0 0 0 2030,1799" stroke-width="1.5"/>
<path d="M1714.0,1854.0L1764.0,1850.1L1865.5,1854.0L1865.5,1863.7L1759.0,1866.4L1714.0,1863.7Z" fill="#fff" stroke="none"/>
<path d="M1865.5,1854.0L1764.0,1850.1L1714.0,1854.0L1714.0,1863.7L1759.0,1866.4L1865.5,1863.7" stroke-width="1.9"/>
<path d="M1714.0,1854.5L1835.5,1856.3L1849.5,1856.3L1865.5,1854.3" stroke-width="1.7"/>
<path d="M1714.0,1863.2L1835.5,1861.8L1849.5,1861.8L1865.5,1863.5" stroke-width="1.7"/>
<path d="M1835.5,1856.3L1835.5,1861.8" stroke-width="1.7"/>
<path d="M1849.5,1856.3L1849.5,1861.8" stroke-width="1.7"/>
<path d="M1692.0,1919.8L1742.0,1915.9L1860.5,1919.8L1860.5,1929.5L1737.0,1932.2L1692.0,1929.5Z" fill="#fff" stroke="none"/>
<path d="M1860.5,1919.8L1742.0,1915.9L1692.0,1919.8L1692.0,1929.5L1737.0,1932.2L1860.5,1929.5" stroke-width="1.9"/>
<path d="M1692.0,1920.3L1830.5,1922.1L1844.5,1922.1L1860.5,1920.1" stroke-width="1.7"/>
<path d="M1692.0,1929.0L1830.5,1927.6L1844.5,1927.6L1860.5,1929.3" stroke-width="1.7"/>
<path d="M1830.5,1922.1L1830.5,1927.6" stroke-width="1.7"/>
<path d="M1844.5,1922.1L1844.5,1927.6" stroke-width="1.7"/>
<path d="M1673.0,1985.6L1723.0,1981.7L1859.0,1985.6L1859.0,1995.4L1718.0,1998.1L1673.0,1995.4Z" fill="#fff" stroke="none"/>
<path d="M1859.0,1985.6L1723.0,1981.7L1673.0,1985.6L1673.0,1995.4L1718.0,1998.1L1859.0,1995.4" stroke-width="1.9"/>
<path d="M1673.0,1986.1L1829.0,1987.9L1843.0,1987.9L1859.0,1985.9" stroke-width="1.7"/>
<path d="M1673.0,1994.9L1829.0,1993.5L1843.0,1993.5L1859.0,1995.2" stroke-width="1.7"/>
<path d="M1829.0,1987.9L1829.0,1993.5" stroke-width="1.7"/>
<path d="M1843.0,1987.9L1843.0,1993.5" stroke-width="1.7"/>
<path d="M1653.8,2049.9L1703.8,2046.0L1859.3,2049.9L1859.3,2061.4L1698.8,2064.1L1653.8,2061.4Z" fill="#fff" stroke="none"/>
<path d="M1859.3,2049.9L1703.8,2046.0L1653.8,2049.9L1653.8,2061.4L1698.8,2064.1L1859.3,2061.4" stroke-width="1.9"/>
<path d="M1653.8,2050.4L1829.3,2052.2L1843.3,2052.2L1859.3,2050.2" stroke-width="1.7"/>
<path d="M1653.8,2060.9L1829.3,2059.5L1843.3,2059.5L1859.3,2061.2" stroke-width="1.7"/>
<path d="M1829.3,2052.2L1829.3,2059.5" stroke-width="1.7"/>
<path d="M1843.3,2052.2L1843.3,2059.5" stroke-width="1.7"/>
<path d="M1635.7,2115.7L1685.7,2111.8L1807.0,2115.7L1807.0,2125.5L1680.7,2128.2L1635.7,2125.5Z" fill="#fff" stroke="none"/>
<path d="M1807.0,2115.7L1685.7,2111.8L1635.7,2115.7L1635.7,2125.5L1680.7,2128.2L1807.0,2125.5" stroke-width="1.9"/>
<path d="M1635.7,2116.2L1777.0,2118.0L1791.0,2118.0L1807.0,2116.0" stroke-width="1.7"/>
<path d="M1635.7,2125.0L1777.0,2123.6L1791.0,2123.6L1807.0,2125.3" stroke-width="1.7"/>
<path d="M1777.0,2118.0L1777.0,2123.6" stroke-width="1.7"/>
<path d="M1791.0,2118.0L1791.0,2123.6" stroke-width="1.7"/>
<path d="M2426.0,1854.0L2376.0,1850.1L2194.5,1854.0L2194.5,1863.7L2381.0,1866.4L2426.0,1863.7Z" fill="#fff" stroke="none"/>
<path d="M2194.5,1854.0L2376.0,1850.1L2426.0,1854.0L2426.0,1863.7L2381.0,1866.4L2194.5,1863.7" stroke-width="1.9"/>
<path d="M2426.0,1854.5L2224.5,1856.3L2210.5,1856.3L2194.5,1854.3" stroke-width="1.7"/>
<path d="M2426.0,1863.2L2224.5,1861.8L2210.5,1861.8L2194.5,1863.5" stroke-width="1.7"/>
<path d="M2224.5,1856.3L2224.5,1861.8" stroke-width="1.7"/>
<path d="M2210.5,1856.3L2210.5,1861.8" stroke-width="1.7"/>
<path d="M2368.0,1919.8L2318.0,1915.9L2199.5,1919.8L2199.5,1929.5L2323.0,1932.2L2368.0,1929.5Z" fill="#fff" stroke="none"/>
<path d="M2199.5,1919.8L2318.0,1915.9L2368.0,1919.8L2368.0,1929.5L2323.0,1932.2L2199.5,1929.5" stroke-width="1.9"/>
<path d="M2368.0,1920.3L2229.5,1922.1L2215.5,1922.1L2199.5,1920.1" stroke-width="1.7"/>
<path d="M2368.0,1929.0L2229.5,1927.6L2215.5,1927.6L2199.5,1929.3" stroke-width="1.7"/>
<path d="M2229.5,1922.1L2229.5,1927.6" stroke-width="1.7"/>
<path d="M2215.5,1922.1L2215.5,1927.6" stroke-width="1.7"/>
<path d="M2387.6,1985.6L2337.6,1981.7L2201.0,1985.6L2201.0,1995.4L2342.6,1998.1L2387.6,1995.4Z" fill="#fff" stroke="none"/>
<path d="M2201.0,1985.6L2337.6,1981.7L2387.6,1985.6L2387.6,1995.4L2342.6,1998.1L2201.0,1995.4" stroke-width="1.9"/>
<path d="M2387.6,1986.1L2231.0,1987.9L2217.0,1987.9L2201.0,1985.9" stroke-width="1.7"/>
<path d="M2387.6,1994.9L2231.0,1993.5L2217.0,1993.5L2201.0,1995.2" stroke-width="1.7"/>
<path d="M2231.0,1987.9L2231.0,1993.5" stroke-width="1.7"/>
<path d="M2217.0,1987.9L2217.0,1993.5" stroke-width="1.7"/>
<path d="M2406.0,2049.9L2356.0,2046.0L2200.7,2049.9L2200.7,2061.4L2361.0,2064.1L2406.0,2061.4Z" fill="#fff" stroke="none"/>
<path d="M2200.7,2049.9L2356.0,2046.0L2406.0,2049.9L2406.0,2061.4L2361.0,2064.1L2200.7,2061.4" stroke-width="1.9"/>
<path d="M2406.0,2050.4L2230.7,2052.2L2216.7,2052.2L2200.7,2050.2" stroke-width="1.7"/>
<path d="M2406.0,2060.9L2230.7,2059.5L2216.7,2059.5L2200.7,2061.2" stroke-width="1.7"/>
<path d="M2230.7,2052.2L2230.7,2059.5" stroke-width="1.7"/>
<path d="M2216.7,2052.2L2216.7,2059.5" stroke-width="1.7"/>
<path d="M2425.3,2115.7L2375.3,2111.8L2253.0,2115.7L2253.0,2125.5L2380.3,2128.2L2425.3,2125.5Z" fill="#fff" stroke="none"/>
<path d="M2253.0,2115.7L2375.3,2111.8L2425.3,2115.7L2425.3,2125.5L2380.3,2128.2L2253.0,2125.5" stroke-width="1.9"/>
<path d="M2425.3,2116.2L2283.0,2118.0L2269.0,2118.0L2253.0,2116.0" stroke-width="1.7"/>
<path d="M2425.3,2125.0L2283.0,2123.6L2269.0,2123.6L2253.0,2125.3" stroke-width="1.7"/>
<path d="M2283.0,2118.0L2283.0,2123.6" stroke-width="1.7"/>
<path d="M2269.0,2118.0L2269.0,2123.6" stroke-width="1.7"/>
<path d="M1862.4,1746.5L1871.0,1746.5L1872.3,1768.0L1869.9,1788.2L1863.5,1788.2L1861.1,1768.0Z" stroke-width="1.8" fill="#fff"/>
<path d="M1863.5,1748.0L1865.1,1788.0" stroke-width="1.4"/>
<path d="M1869.9,1748.0L1868.3,1788.0" stroke-width="1.4"/>
<path d="M1861.7,1773.8L1871.7,1773.8" stroke-width="1.4"/>
<path d="M1927.7,1746.5L1936.3,1746.5L1937.6,1768.0L1935.2,1788.2L1928.8,1788.2L1926.4,1768.0Z" stroke-width="1.8" fill="#fff"/>
<path d="M1928.8,1748.0L1930.4,1788.0" stroke-width="1.4"/>
<path d="M1935.2,1748.0L1933.6,1788.0" stroke-width="1.4"/>
<path d="M1927.0,1773.8L1937.0,1773.8" stroke-width="1.4"/>
<path d="M1992.9,1746.5L2001.5,1746.5L2002.8,1768.0L2000.4,1788.2L1994.0,1788.2L1991.6,1768.0Z" stroke-width="1.8" fill="#fff"/>
<path d="M1994.0,1748.0L1995.6,1788.0" stroke-width="1.4"/>
<path d="M2000.4,1748.0L1998.8,1788.0" stroke-width="1.4"/>
<path d="M1992.2,1773.8L2002.2,1773.8" stroke-width="1.4"/>
<path d="M2058.5,1746.5L2067.1,1746.5L2068.4,1768.0L2066.0,1788.2L2059.6,1788.2L2057.2,1768.0Z" stroke-width="1.8" fill="#fff"/>
<path d="M2059.6,1748.0L2061.2,1788.0" stroke-width="1.4"/>
<path d="M2066.0,1748.0L2064.4,1788.0" stroke-width="1.4"/>
<path d="M2057.8,1773.8L2067.8,1773.8" stroke-width="1.4"/>
<path d="M2123.7,1746.5L2132.3,1746.5L2133.6,1768.0L2131.2,1788.2L2124.8,1788.2L2122.4,1768.0Z" stroke-width="1.8" fill="#fff"/>
<path d="M2124.8,1748.0L2126.4,1788.0" stroke-width="1.4"/>
<path d="M2131.2,1748.0L2129.6,1788.0" stroke-width="1.4"/>
<path d="M2123.0,1773.8L2133.0,1773.8" stroke-width="1.4"/>
<path d="M2189.0,1746.5L2197.6,1746.5L2198.9,1768.0L2196.5,1788.2L2190.1,1788.2L2187.7,1768.0Z" stroke-width="1.8" fill="#fff"/>
<path d="M2190.1,1748.0L2191.7,1788.0" stroke-width="1.4"/>
<path d="M2196.5,1748.0L2194.9,1788.0" stroke-width="1.4"/>
<path d="M2188.3,1773.8L2198.3,1773.8" stroke-width="1.4"/>
<path d="M1731.0,2184.8L1738.8,2184.8L1740.5,2223.9L1738.3,2260.0L1731.5,2260.0L1729.3,2223.9Z" stroke-width="1.9" fill="#fff"/>
<path d="M1731.7,2186.8L1730.9,2215.9" stroke-width="1.4"/>
<path d="M1738.1,2186.8L1738.9,2215.9" stroke-width="1.4"/>
<path d="M1730.9,2231.9L1731.9,2258.0" stroke-width="1.4"/>
<path d="M1738.9,2231.9L1737.9,2258.0" stroke-width="1.4"/>
<rect x="1730.9" y="2215.9" width="8.0" height="16.0" stroke-width="1.4"/>
<path d="M1730.9,2221.9L1738.9,2221.9" stroke-width="1.4"/>
<path d="M1795.5,2144.5L1803.3,2144.5L1805.0,2204.6L1802.8,2260.0L1796.0,2260.0L1793.8,2204.6Z" stroke-width="1.9" fill="#fff"/>
<path d="M1796.2,2146.5L1795.4,2196.6" stroke-width="1.4"/>
<path d="M1802.6,2146.5L1803.4,2196.6" stroke-width="1.4"/>
<path d="M1795.4,2212.6L1796.4,2258.0" stroke-width="1.4"/>
<path d="M1803.4,2212.6L1802.4,2258.0" stroke-width="1.4"/>
<rect x="1795.4" y="2196.6" width="8.0" height="16.0" stroke-width="1.4"/>
<path d="M1795.4,2202.6L1803.4,2202.6" stroke-width="1.4"/>
<path d="M1861.6,2107.0L1869.4,2107.0L1871.1,2186.6L1868.9,2260.0L1862.1,2260.0L1859.9,2186.6Z" stroke-width="1.9" fill="#fff"/>
<path d="M1862.3,2109.0L1861.5,2178.6" stroke-width="1.4"/>
<path d="M1868.7,2109.0L1869.5,2178.6" stroke-width="1.4"/>
<path d="M1861.5,2194.6L1862.5,2258.0" stroke-width="1.4"/>
<path d="M1869.5,2194.6L1868.5,2258.0" stroke-width="1.4"/>
<rect x="1861.5" y="2178.6" width="8.0" height="16.0" stroke-width="1.4"/>
<path d="M1861.5,2184.6L1869.5,2184.6" stroke-width="1.4"/>
<path d="M1927.1,2101.6L1934.9,2101.6L1936.6,2184.0L1934.4,2260.0L1927.6,2260.0L1925.4,2184.0Z" stroke-width="1.9" fill="#fff"/>
<path d="M1927.8,2103.6L1927.0,2176.0" stroke-width="1.4"/>
<path d="M1934.2,2103.6L1935.0,2176.0" stroke-width="1.4"/>
<path d="M1927.0,2192.0L1928.0,2258.0" stroke-width="1.4"/>
<path d="M1935.0,2192.0L1934.0,2258.0" stroke-width="1.4"/>
<rect x="1927.0" y="2176.0" width="8.0" height="16.0" stroke-width="1.4"/>
<path d="M1927.0,2182.0L1935.0,2182.0" stroke-width="1.4"/>
<path d="M1993.3,2101.6L2001.1,2101.6L2002.8,2184.0L2000.6,2260.0L1993.8,2260.0L1991.6,2184.0Z" stroke-width="1.9" fill="#fff"/>
<path d="M1994.0,2103.6L1993.2,2176.0" stroke-width="1.4"/>
<path d="M2000.4,2103.6L2001.2,2176.0" stroke-width="1.4"/>
<path d="M1993.2,2192.0L1994.2,2258.0" stroke-width="1.4"/>
<path d="M2001.2,2192.0L2000.2,2258.0" stroke-width="1.4"/>
<rect x="1993.2" y="2176.0" width="8.0" height="16.0" stroke-width="1.4"/>
<path d="M1993.2,2182.0L2001.2,2182.0" stroke-width="1.4"/>
<path d="M2058.9,2101.6L2066.7,2101.6L2068.4,2184.0L2066.2,2260.0L2059.4,2260.0L2057.2,2184.0Z" stroke-width="1.9" fill="#fff"/>
<path d="M2059.6,2103.6L2058.8,2176.0" stroke-width="1.4"/>
<path d="M2066.0,2103.6L2066.8,2176.0" stroke-width="1.4"/>
<path d="M2058.8,2192.0L2059.8,2258.0" stroke-width="1.4"/>
<path d="M2066.8,2192.0L2065.8,2258.0" stroke-width="1.4"/>
<rect x="2058.8" y="2176.0" width="8.0" height="16.0" stroke-width="1.4"/>
<path d="M2058.8,2182.0L2066.8,2182.0" stroke-width="1.4"/>
<path d="M2125.0,2101.6L2132.8,2101.6L2134.5,2184.0L2132.3,2260.0L2125.5,2260.0L2123.3,2184.0Z" stroke-width="1.9" fill="#fff"/>
<path d="M2125.7,2103.6L2124.9,2176.0" stroke-width="1.4"/>
<path d="M2132.1,2103.6L2132.9,2176.0" stroke-width="1.4"/>
<path d="M2124.9,2192.0L2125.9,2258.0" stroke-width="1.4"/>
<path d="M2132.9,2192.0L2131.9,2258.0" stroke-width="1.4"/>
<rect x="2124.9" y="2176.0" width="8.0" height="16.0" stroke-width="1.4"/>
<path d="M2124.9,2182.0L2132.9,2182.0" stroke-width="1.4"/>
<path d="M2190.6,2107.0L2198.4,2107.0L2200.1,2186.6L2197.9,2260.0L2191.1,2260.0L2188.9,2186.6Z" stroke-width="1.9" fill="#fff"/>
<path d="M2191.3,2109.0L2190.5,2178.6" stroke-width="1.4"/>
<path d="M2197.7,2109.0L2198.5,2178.6" stroke-width="1.4"/>
<path d="M2190.5,2194.6L2191.5,2258.0" stroke-width="1.4"/>
<path d="M2198.5,2194.6L2197.5,2258.0" stroke-width="1.4"/>
<rect x="2190.5" y="2178.6" width="8.0" height="16.0" stroke-width="1.4"/>
<path d="M2190.5,2184.6L2198.5,2184.6" stroke-width="1.4"/>
<path d="M2255.1,2144.5L2262.9,2144.5L2264.6,2204.6L2262.4,2260.0L2255.6,2260.0L2253.4,2204.6Z" stroke-width="1.9" fill="#fff"/>
<path d="M2255.8,2146.5L2255.0,2196.6" stroke-width="1.4"/>
<path d="M2262.2,2146.5L2263.0,2196.6" stroke-width="1.4"/>
<path d="M2255.0,2212.6L2256.0,2258.0" stroke-width="1.4"/>
<path d="M2263.0,2212.6L2262.0,2258.0" stroke-width="1.4"/>
<rect x="2255.0" y="2196.6" width="8.0" height="16.0" stroke-width="1.4"/>
<path d="M2255.0,2202.6L2263.0,2202.6" stroke-width="1.4"/>
<path d="M2319.6,2184.8L2327.4,2184.8L2329.1,2223.9L2326.9,2260.0L2320.1,2260.0L2317.9,2223.9Z" stroke-width="1.9" fill="#fff"/>
<path d="M2320.3,2186.8L2319.5,2215.9" stroke-width="1.4"/>
<path d="M2326.7,2186.8L2327.5,2215.9" stroke-width="1.4"/>
<path d="M2319.5,2231.9L2320.5,2258.0" stroke-width="1.4"/>
<path d="M2327.5,2231.9L2326.5,2258.0" stroke-width="1.4"/>
<rect x="2319.5" y="2215.9" width="8.0" height="16.0" stroke-width="1.4"/>
<path d="M2319.5,2221.9L2327.5,2221.9" stroke-width="1.4"/>
<circle cx="2030.0" cy="1948.0" r="145.0" stroke-width="1.8" fill="#fff"/>
<circle cx="2030.0" cy="1948.0" r="141.7" stroke-width="1.5"/>
<circle cx="2030.0" cy="1948.0" r="137.0" stroke-width="2.3"/>
<circle cx="2030.0" cy="1948.0" r="132.3" stroke-width="1.5"/>
<circle cx="2030.0" cy="1948.0" r="127.3" stroke-width="2.3"/>
<g transform="rotate(0 2030.0 1948.0)">
<circle cx="1906.5" cy="1824.2" r="8.0" stroke-width="2.6" fill="#fff"/>
<path d="M1919.0,1807.0L1923.5,1802.5L1949.5,1823.0L1945.0,1828.5Z" stroke-width="1.9" fill="#fff"/>
<path d="M1884.5,1842.0L1889.5,1837.0L1914.5,1858.5L1910.0,1864.0Z" stroke-width="1.9" fill="#fff"/>
<path d="M1889.0,1800.5L1901.0,1817.5" stroke-width="2"/>
<path d="M1895.5,1798.0L1906.0,1813.0" stroke-width="1.6"/>
<path d="M1882.5,1808.0L1885.5,1813.0" stroke-width="1.6"/>
<rect x="1877.0" y="1926.0" width="5.5" height="43.0" stroke-width="1.6" fill="#fff"/>
<rect x="1896.0" y="1940.5" width="4.0" height="14.5" stroke-width="1.5"/>
<g clip-path="url(#flueclip)">
</g>
</g>
<g transform="rotate(180 2030.0 1948.0)">
<circle cx="1906.5" cy="1824.2" r="8.0" stroke-width="2.6" fill="#fff"/>
<path d="M1919.0,1807.0L1923.5,1802.5L1949.5,1823.0L1945.0,1828.5Z" stroke-width="1.9" fill="#fff"/>
<path d="M1884.5,1842.0L1889.5,1837.0L1914.5,1858.5L1910.0,1864.0Z" stroke-width="1.9" fill="#fff"/>
<path d="M1889.0,1800.5L1901.0,1817.5" stroke-width="2"/>
<path d="M1895.5,1798.0L1906.0,1813.0" stroke-width="1.6"/>
<path d="M1882.5,1808.0L1885.5,1813.0" stroke-width="1.6"/>
<rect x="1877.0" y="1926.0" width="5.5" height="43.0" stroke-width="1.6" fill="#fff"/>
<rect x="1896.0" y="1940.5" width="4.0" height="14.5" stroke-width="1.5"/>
<g clip-path="url(#flueclip)">
</g>
</g>
<clipPath id="flueclip"><circle cx="2030.0" cy="1948.0" r="127"/></clipPath>
<g clip-path="url(#flueclip)">
<path d="M1880.0,1864.7L2180.0,1864.7" stroke-width="2.0"/>
<path d="M1880.0,1931.0L2180.0,1931.0" stroke-width="2.0"/>
<path d="M1880.0,1934.8L2180.0,1934.8" stroke-width="1.5"/>
<path d="M1880.0,1962.0L2180.0,1962.0" stroke-width="1.5"/>
<path d="M1880.0,1965.8L2180.0,1965.8" stroke-width="2.0"/>
</g>
<rect x="2018.0" y="2091.0" width="6.0" height="3.5" stroke-width="1.4"/>
<rect x="2026.0" y="2091.0" width="10.0" height="3.5" stroke-width="1.4"/>
<rect x="1855.5" y="1940.5" width="22.5" height="14.9" stroke-width="1.9" fill="#fff"/>
<circle cx="2030.0" cy="1948.0" r="8.6" stroke-width="1.8"/>
<circle cx="2030.0" cy="1948.0" r="6.2" stroke-width="1.8"/>
<path d="M2025.0,1948.0L2035.0,1948.0" stroke-width="2.4"/>
<path d="M2030.0,1943.0L2030.0,1953.0" stroke-width="2.4"/>
<path d="M2030.0,1767V2127" stroke-width="1.6" stroke-dasharray="31 9"/>
<path d="M1851,1948.0H2209" stroke-width="1.6" stroke-dasharray="31 9"/>
<path d="M2183,1947.6H2306.8C2324,1947.6 2333,1940 2342.9,1928.6C2355,1914.5 2368,1906 2390,1906H2427" stroke-width="15.8"/>
<path d="M2183,1947.6H2306.8C2324,1947.6 2333,1940 2342.9,1928.6C2355,1914.5 2368,1906 2390,1906H2427" stroke-width="12.4" stroke="#fff"/>
<path d="M2306.8,1940.2L2306.8,1955.0" stroke-width="1.7"/>
<path d="M2390.0,1898.6L2390.0,1913.4" stroke-width="1.7"/>
<path d="M2334.0,1927.0L2346.0,1939.5" stroke-width="1.7"/>
<path d="M2354.0,1909.0L2365.0,1921.0" stroke-width="1.7"/>
<path d="M2382.6,1828L2426.6,1836.1" stroke-width="2"/>
<path d="M2437.8,1839Q2448.4,1843 2448.4,1855Q2448.4,1867 2437.8,1871.5" stroke-width="2.0"/>
<path d="M2437.8,1851.6H2446M2437.8,1865.2H2445M2444,1851.6V1865.2" stroke-width="1.6"/>
<rect x="1555.4" y="2297.6" width="949.3" height="11.4" stroke-width="2.0" fill="#fff"/>
<path d="M1593.4,2278.0L1592.0,2297.6" stroke-width="1.9"/>
<path d="M2466.6,2278.0L2468.0,2297.6" stroke-width="1.9"/>
<path d="M2411.5,2278.0L2415.0,2297.6" stroke-width="1.5"/>
<path d="M2415.0,2278.0L2418.0,2297.6" stroke-width="1.5"/>
<path d="M1580.5,2309L1582,2352Q1582.5,2360 1590,2360H1622Q1631,2360 1636,2352L1653,2324Q1658,2315.3 1672,2315.3H2420" stroke-width="1.9"/>
<path d="M1634.4,2356.0L2466.0,2356.0" stroke-width="1.9"/>
<circle cx="1598.6" cy="2337.1" r="7.0" stroke-width="2"/>
<path d="M1602.8,2337.1L1600.7,2340.7L1596.5,2340.7L1594.4,2337.1L1596.5,2333.5L1600.7,2333.5Z" stroke-width="1.5"/>
<rect x="2467.0" y="2287.5" width="11.0" height="10.1" stroke-width="1.6"/>
<rect x="2485.0" y="2292.5" width="13.0" height="5.1" stroke-width="1.6"/>
<rect x="2426.6" y="1716.1" width="11.2" height="594.7" stroke-width="1.9" fill="#fff"/>
<rect x="2432.3" y="1885.8" width="3.7" height="40.8" stroke-width="1.9" fill="#fff"/>
<rect x="2437.8" y="1885.0" width="4.5" height="44.8" stroke-width="1.9" fill="#fff"/>
<rect x="2444.7" y="1885.8" width="3.7" height="40.8" stroke-width="1.9" fill="#fff"/>
<rect x="2448.4" y="1894.5" width="12.5" height="23.6" stroke-width="1.9" fill="#fff"/>
<path d="M2448.4,1900.5L2460.9,1900.5" stroke-width="1.5"/>
<path d="M2448.4,1912.0L2460.9,1912.0" stroke-width="1.5"/>
<rect x="2460.9" y="1898.8" width="6.2" height="14.9" stroke-width="1.9"/>
<rect x="2423.5" y="2309.0" width="16.0" height="8.0" stroke-width="1.9" fill="#fff"/>
<path d="M2423.5,2317.0L2420.2,2345.6L2444.4,2345.6L2439.5,2317.0Z" stroke-width="2" fill="#fff"/>
<path d="M2421.0,2340.5L2443.6,2340.5" stroke-width="1.5"/>
<path d="M2467.3,2309.0L2478.8,2309.0L2476.5,2361.0L2467.8,2361.0" stroke-width="1.7"/>
<path d="M2472.0,2309.0L2472.5,2361.0" stroke-width="1.4"/>
<path d="M2475.0,2320.0L2474.0,2361.0" stroke-width="1.4"/>
<path d="M2444.0,2311.5L2467.0,2311.5" stroke-width="1.5"/>
<rect x="2459.0" y="2309.5" width="4.5" height="4.0" stroke-width="1.6"/>
<rect x="2466.0" y="2356.0" width="13.0" height="5.2" stroke-width="1.6"/>
<rect x="2458.4" y="2361.2" width="29.3" height="26.8" stroke-width="1.9" fill="#fff"/>
<path d="M2458.4,2388L2460.8,2414Q2461.5,2421 2467,2421H2479Q2484.5,2421 2485.2,2414L2487.7,2388" stroke-width="1.9"/>
<path d="M2461.5,2389.5L2463.5,2414M2484.7,2389.5L2482.7,2414" stroke-width="1.4"/>
<path d="M2473.0,2361.2L2473.0,2421.0" stroke-width="1.6"/>
<path d="M2459.5,2414Q2459,2418.5 2461,2420M2486.7,2414Q2487,2418.5 2485,2420" stroke-width="1.4"/>
<!-- render3d -->
<defs>
<linearGradient id="flg" x1="0" x2="1" y1="0" y2="0"><stop offset="0" stop-color="#2b2b2b"/><stop offset="0.3" stop-color="#3b3b3b"/><stop offset="0.62" stop-color="#2a2a2a"/><stop offset="1" stop-color="#141414"/></linearGradient>
<linearGradient id="fli" x1="0" x2="1" y1="0" y2="0"><stop offset="0" stop-color="#3e3e3e"/><stop offset="0.45" stop-color="#303030"/><stop offset="0.8" stop-color="#0c0c0c"/><stop offset="1" stop-color="#101010"/></linearGradient>
<linearGradient id="glg" x1="0" x2="0" y1="0" y2="1"><stop offset="0" stop-color="#1b1b1b"/><stop offset="1" stop-color="#262626"/></linearGradient>
<filter id="b3" x="-5%" y="-5%" width="110%" height="110%"><feGaussianBlur stdDeviation="3"/></filter>
<filter id="b1" x="-2%" y="-2%" width="104%" height="104%"><feGaussianBlur stdDeviation="1.2"/></filter>
<clipPath id="glassclip"><path d="M2918,1732L3293.5,1947V2253L2913.5,2035Z"/></clipPath>
<clipPath id="sideclip"><path d="M3362,1893L3530,1757V2095L3366,2252Z"/></clipPath>
</defs>
<g stroke="none" stroke-width="1.4" stroke-linejoin="round">
<path d="M3517.0,2100.0L3539.0,2092.0L3537.5,2141.5L3519.5,2144.0Z" fill="#1a1a1a"/>
<path d="M3358.0,2250.0L3406.0,2225.0L3407.0,2252.0L3378.0,2270.0L3370.0,2297.0L3358.0,2289.0Z" fill="#1c1c1c"/>
<path d="M2872.0,2060.0L2900.0,2074.0L2900.0,2086.0L2891.0,2088.0L2874.0,2077.0Z" fill="#1e1e1e"/>
<path d="M3348.0,1886.0L3541.0,1728.0L3541.0,2097.0L3516.0,2124.0L3471.0,2146.0L3409.0,2217.0L3407.0,2252.0L3358.0,2290.0L3350.0,2300.0Z" fill="#191919"/>
<path d="M3366.0,1898.0L3528.0,1762.0L3528.0,2090.0L3368.0,2246.0Z" fill="#202020"/>
<g clip-path="url(#sideclip)">
<path d="M3383.6,1885.4L3386.6,1892.5L3388.2,1900.4L3388.2,1909.1L3386.6,1918.6L3383.6,1928.8L3379.6,1939.5L3375.4,1950.3L3371.5,1960.9L3368.5,1971.1L3367.0,1980.5L3367.1,1989.2L3368.8,1997.0L3371.9,2004.1L3376.0,2010.8L3380.3,2017.3L3384.3,2024.0L3387.3,2031.2L3389.0,2039.0L3389.0,2047.7L3387.3,2057.2L3384.3,2067.4L3380.4,2078.1L3376.1,2088.9L3372.2,2099.5L3369.3,2109.7L3367.7,2119.2L3367.8,2127.8L3369.6,2135.6L3372.7,2142.8L3376.7,2149.4L3381.0,2156.0L3385.0,2162.7L3388.1,2169.8L3389.7,2177.7L3389.7,2186.4L3388.1,2195.9L3385.1,2206.1L3381.1,2216.7L3376.9,2227.5L3373.0,2238.2L3390.0,2225.2L3393.9,2214.5L3398.1,2203.7L3402.1,2193.1L3405.1,2182.9L3406.7,2173.4L3406.7,2164.7L3405.1,2156.8L3402.0,2149.7L3398.0,2143.0L3393.7,2136.4L3389.7,2129.8L3386.6,2122.6L3384.8,2114.8L3384.7,2106.2L3386.3,2096.7L3389.2,2086.5L3393.1,2075.9L3397.4,2065.1L3401.3,2054.4L3404.3,2044.2L3406.0,2034.7L3406.0,2026.0L3404.3,2018.2L3401.3,2011.0L3397.3,2004.3L3393.0,1997.8L3388.9,1991.1L3385.8,1984.0L3384.1,1976.2L3384.0,1967.5L3385.5,1958.1L3388.5,1947.9L3392.4,1937.3L3396.6,1926.5L3400.6,1915.8L3403.6,1905.6L3405.2,1896.1L3405.2,1887.4L3403.6,1879.5L3400.6,1872.4Z" fill="#0b0b0b"/>
<path d="M3401.6,1872.4L3404.6,1879.5L3406.2,1887.4L3406.2,1896.1L3404.6,1905.6L3401.6,1915.8L3397.6,1926.5L3393.4,1937.3L3389.5,1947.9L3386.5,1958.1L3385.0,1967.5L3385.1,1976.2L3386.8,1984.0L3389.9,1991.1L3394.0,1997.8L3398.3,2004.3L3402.3,2011.0L3405.3,2018.2L3407.0,2026.0L3407.0,2034.7L3405.3,2044.2L3402.3,2054.4L3398.4,2065.1L3394.1,2075.9L3390.2,2086.5L3387.3,2096.7L3385.7,2106.2L3385.8,2114.8L3387.6,2122.6L3390.7,2129.8L3394.7,2136.4L3399.0,2143.0L3403.0,2149.7L3406.1,2156.8L3407.7,2164.7L3407.7,2173.4L3406.1,2182.9L3403.1,2193.1L3399.1,2203.7L3394.9,2214.5L3391.0,2225.2" fill="none" stroke="#313131" stroke-width="5"/>
<path d="M3405.6,1870.4L3408.6,1877.5L3410.2,1885.4L3410.2,1894.1L3408.6,1903.6L3405.6,1913.8L3401.6,1924.5L3397.4,1935.3L3393.5,1945.9L3390.5,1956.1L3389.0,1965.5L3389.1,1974.2L3390.8,1982.0L3393.9,1989.1L3398.0,1995.8L3402.3,2002.3L3406.3,2009.0L3409.3,2016.2L3411.0,2024.0L3411.0,2032.7L3409.3,2042.2L3406.3,2052.4L3402.4,2063.1L3398.1,2073.9L3394.2,2084.5L3391.3,2094.7L3389.7,2104.2L3389.8,2112.8L3391.6,2120.6L3394.7,2127.8L3398.7,2134.4L3403.0,2141.0L3407.0,2147.7L3410.1,2154.8L3411.7,2162.7L3411.7,2171.4L3410.1,2180.9L3407.1,2191.1L3403.1,2201.7L3398.9,2212.5L3395.0,2223.2" fill="none" stroke="#262626" stroke-width="5"/>
<path d="M3410.3,1862.9L3413.3,1870.0L3415.0,1877.8L3414.9,1886.4L3413.3,1895.8L3410.3,1905.9L3406.3,1916.5L3402.1,1927.2L3398.2,1937.8L3395.2,1947.9L3393.6,1957.3L3393.7,1965.8L3395.5,1973.6L3398.6,1980.6L3402.6,1987.2L3406.9,1993.6L3410.9,2000.3L3413.9,2007.3L3415.6,2015.1L3415.6,2023.7L3413.9,2033.2L3410.9,2043.3L3406.9,2053.8L3402.7,2064.6L3398.8,2075.1L3395.8,2085.2L3394.3,2094.6L3394.3,2103.1L3396.1,2110.9L3399.2,2117.9L3403.2,2124.5L3407.5,2131.0L3411.5,2137.6L3414.5,2144.7L3416.2,2152.4L3416.2,2161.0L3414.5,2170.5L3411.5,2180.6L3407.6,2191.2L3403.3,2201.9L3399.4,2212.4L3416.4,2199.4L3420.3,2188.9L3424.6,2178.2L3428.5,2167.6L3431.5,2157.5L3433.2,2148.0L3433.2,2139.4L3431.5,2131.7L3428.5,2124.6L3424.5,2118.0L3420.2,2111.5L3416.2,2104.9L3413.1,2097.9L3411.3,2090.1L3411.3,2081.6L3412.8,2072.2L3415.8,2062.1L3419.7,2051.6L3423.9,2040.8L3427.9,2030.3L3430.9,2020.2L3432.6,2010.7L3432.6,2002.1L3430.9,1994.3L3427.9,1987.3L3423.9,1980.6L3419.6,1974.2L3415.6,1967.6L3412.5,1960.6L3410.7,1952.8L3410.6,1944.3L3412.2,1934.9L3415.2,1924.8L3419.1,1914.2L3423.3,1903.5L3427.3,1892.9L3430.3,1882.8L3431.9,1873.4L3432.0,1864.8L3430.3,1857.0L3427.3,1849.9Z" fill="#0b0b0b"/>
<path d="M3428.3,1849.9L3431.3,1857.0L3433.0,1864.8L3432.9,1873.4L3431.3,1882.8L3428.3,1892.9L3424.3,1903.5L3420.1,1914.2L3416.2,1924.8L3413.2,1934.9L3411.6,1944.3L3411.7,1952.8L3413.5,1960.6L3416.6,1967.6L3420.6,1974.2L3424.9,1980.6L3428.9,1987.3L3431.9,1994.3L3433.6,2002.1L3433.6,2010.7L3431.9,2020.2L3428.9,2030.3L3424.9,2040.8L3420.7,2051.6L3416.8,2062.1L3413.8,2072.2L3412.3,2081.6L3412.3,2090.1L3414.1,2097.9L3417.2,2104.9L3421.2,2111.5L3425.5,2118.0L3429.5,2124.6L3432.5,2131.7L3434.2,2139.4L3434.2,2148.0L3432.5,2157.5L3429.5,2167.6L3425.6,2178.2L3421.3,2188.9L3417.4,2199.4" fill="none" stroke="#313131" stroke-width="5"/>
<path d="M3432.3,1847.9L3435.3,1855.0L3437.0,1862.8L3436.9,1871.4L3435.3,1880.8L3432.3,1890.9L3428.3,1901.5L3424.1,1912.2L3420.2,1922.8L3417.2,1932.9L3415.6,1942.3L3415.7,1950.8L3417.5,1958.6L3420.6,1965.6L3424.6,1972.2L3428.9,1978.6L3432.9,1985.3L3435.9,1992.3L3437.6,2000.1L3437.6,2008.7L3435.9,2018.2L3432.9,2028.3L3428.9,2038.8L3424.7,2049.6L3420.8,2060.1L3417.8,2070.2L3416.3,2079.6L3416.3,2088.1L3418.1,2095.9L3421.2,2102.9L3425.2,2109.5L3429.5,2116.0L3433.5,2122.6L3436.5,2129.7L3438.2,2137.4L3438.2,2146.0L3436.5,2155.5L3433.5,2165.6L3429.6,2176.2L3425.3,2186.9L3421.4,2197.4" fill="none" stroke="#262626" stroke-width="5"/>
<path d="M3437.0,1840.5L3440.0,1847.5L3441.7,1855.2L3441.7,1863.7L3440.0,1873.1L3437.0,1883.1L3433.0,1893.6L3428.7,1904.2L3424.8,1914.7L3421.9,1924.7L3420.3,1934.0L3420.4,1942.5L3422.1,1950.1L3425.2,1957.1L3429.2,1963.6L3433.5,1970.0L3437.5,1976.5L3440.5,1983.5L3442.2,1991.2L3442.1,1999.7L3440.5,2009.1L3437.4,2019.1L3433.5,2029.6L3429.2,2040.2L3425.3,2050.7L3422.3,2060.7L3420.8,2070.0L3420.8,2078.5L3422.6,2086.1L3425.7,2093.1L3429.7,2099.6L3434.0,2106.0L3438.0,2112.5L3441.0,2119.5L3442.6,2127.2L3442.6,2135.7L3441.0,2145.1L3437.9,2155.1L3434.0,2165.6L3429.7,2176.2L3425.8,2186.7L3442.8,2173.7L3446.7,2163.2L3451.0,2152.6L3454.9,2142.1L3458.0,2132.1L3459.6,2122.7L3459.6,2114.2L3458.0,2106.5L3455.0,2099.5L3451.0,2093.0L3446.7,2086.6L3442.7,2080.1L3439.6,2073.1L3437.8,2065.5L3437.8,2057.0L3439.3,2047.7L3442.3,2037.7L3446.2,2027.2L3450.5,2016.6L3454.4,2006.1L3457.5,1996.1L3459.1,1986.7L3459.2,1978.2L3457.5,1970.5L3454.5,1963.5L3450.5,1957.0L3446.2,1950.6L3442.2,1944.1L3439.1,1937.1L3437.4,1929.5L3437.3,1921.0L3438.9,1911.7L3441.8,1901.7L3445.7,1891.2L3450.0,1880.6L3454.0,1870.1L3457.0,1860.1L3458.7,1850.7L3458.7,1842.2L3457.0,1834.5L3454.0,1827.5Z" fill="#0b0b0b"/>
<path d="M3455.0,1827.5L3458.0,1834.5L3459.7,1842.2L3459.7,1850.7L3458.0,1860.1L3455.0,1870.1L3451.0,1880.6L3446.7,1891.2L3442.8,1901.7L3439.9,1911.7L3438.3,1921.0L3438.4,1929.5L3440.1,1937.1L3443.2,1944.1L3447.2,1950.6L3451.5,1957.0L3455.5,1963.5L3458.5,1970.5L3460.2,1978.2L3460.1,1986.7L3458.5,1996.1L3455.4,2006.1L3451.5,2016.6L3447.2,2027.2L3443.3,2037.7L3440.3,2047.7L3438.8,2057.0L3438.8,2065.5L3440.6,2073.1L3443.7,2080.1L3447.7,2086.6L3452.0,2093.0L3456.0,2099.5L3459.0,2106.5L3460.6,2114.2L3460.6,2122.7L3459.0,2132.1L3455.9,2142.1L3452.0,2152.6L3447.7,2163.2L3443.8,2173.7" fill="none" stroke="#313131" stroke-width="5"/>
<path d="M3459.0,1825.5L3462.0,1832.5L3463.7,1840.2L3463.7,1848.7L3462.0,1858.1L3459.0,1868.1L3455.0,1878.6L3450.7,1889.2L3446.8,1899.7L3443.9,1909.7L3442.3,1919.0L3442.4,1927.5L3444.1,1935.1L3447.2,1942.1L3451.2,1948.6L3455.5,1955.0L3459.5,1961.5L3462.5,1968.5L3464.2,1976.2L3464.1,1984.7L3462.5,1994.1L3459.4,2004.1L3455.5,2014.6L3451.2,2025.2L3447.3,2035.7L3444.3,2045.7L3442.8,2055.0L3442.8,2063.5L3444.6,2071.1L3447.7,2078.1L3451.7,2084.6L3456.0,2091.0L3460.0,2097.5L3463.0,2104.5L3464.6,2112.2L3464.6,2120.7L3463.0,2130.1L3459.9,2140.1L3456.0,2150.6L3451.7,2161.2L3447.8,2171.7" fill="none" stroke="#262626" stroke-width="5"/>
<path d="M3463.7,1818.1L3466.8,1825.0L3468.4,1832.6L3468.4,1841.0L3466.7,1850.3L3463.6,1860.2L3459.7,1870.7L3455.4,1881.2L3451.5,1891.6L3448.5,1901.5L3446.9,1910.7L3447.0,1919.1L3448.7,1926.7L3451.8,1933.6L3455.8,1940.0L3460.1,1946.3L3464.1,1952.7L3467.1,1959.7L3468.7,1967.3L3468.7,1975.7L3467.0,1985.0L3464.0,1994.9L3460.0,2005.3L3455.8,2015.9L3451.8,2026.3L3448.9,2036.2L3447.3,2045.4L3447.4,2053.8L3449.1,2061.4L3452.2,2068.3L3456.2,2074.7L3460.5,2081.0L3464.4,2087.4L3467.5,2094.3L3469.1,2101.9L3469.1,2110.4L3467.4,2119.7L3464.3,2129.6L3460.4,2140.0L3456.1,2150.6L3452.2,2161.0L3469.2,2148.0L3473.1,2137.6L3477.4,2127.0L3481.3,2116.6L3484.4,2106.7L3486.1,2097.4L3486.1,2088.9L3484.5,2081.3L3481.4,2074.4L3477.5,2068.0L3473.2,2061.7L3469.2,2055.3L3466.1,2048.4L3464.4,2040.8L3464.3,2032.4L3465.9,2023.2L3468.8,2013.3L3472.8,2002.9L3477.0,1992.3L3481.0,1981.9L3484.0,1972.0L3485.7,1962.7L3485.7,1954.3L3484.1,1946.7L3481.1,1939.7L3477.1,1933.3L3472.8,1927.0L3468.8,1920.6L3465.7,1913.7L3464.0,1906.1L3463.9,1897.7L3465.5,1888.5L3468.5,1878.6L3472.4,1868.2L3476.7,1857.7L3480.6,1847.2L3483.7,1837.3L3485.4,1828.0L3485.4,1819.6L3483.8,1812.0L3480.7,1805.1Z" fill="#0b0b0b"/>
<path d="M3481.7,1805.1L3484.8,1812.0L3486.4,1819.6L3486.4,1828.0L3484.7,1837.3L3481.6,1847.2L3477.7,1857.7L3473.4,1868.2L3469.5,1878.6L3466.5,1888.5L3464.9,1897.7L3465.0,1906.1L3466.7,1913.7L3469.8,1920.6L3473.8,1927.0L3478.1,1933.3L3482.1,1939.7L3485.1,1946.7L3486.7,1954.3L3486.7,1962.7L3485.0,1972.0L3482.0,1981.9L3478.0,1992.3L3473.8,2002.9L3469.8,2013.3L3466.9,2023.2L3465.3,2032.4L3465.4,2040.8L3467.1,2048.4L3470.2,2055.3L3474.2,2061.7L3478.5,2068.0L3482.4,2074.4L3485.5,2081.3L3487.1,2088.9L3487.1,2097.4L3485.4,2106.7L3482.3,2116.6L3478.4,2127.0L3474.1,2137.6L3470.2,2148.0" fill="none" stroke="#313131" stroke-width="5"/>
<path d="M3485.7,1803.1L3488.8,1810.0L3490.4,1817.6L3490.4,1826.0L3488.7,1835.3L3485.6,1845.2L3481.7,1855.7L3477.4,1866.2L3473.5,1876.6L3470.5,1886.5L3468.9,1895.7L3469.0,1904.1L3470.7,1911.7L3473.8,1918.6L3477.8,1925.0L3482.1,1931.3L3486.1,1937.7L3489.1,1944.7L3490.7,1952.3L3490.7,1960.7L3489.0,1970.0L3486.0,1979.9L3482.0,1990.3L3477.8,2000.9L3473.8,2011.3L3470.9,2021.2L3469.3,2030.4L3469.4,2038.8L3471.1,2046.4L3474.2,2053.3L3478.2,2059.7L3482.5,2066.0L3486.4,2072.4L3489.5,2079.3L3491.1,2086.9L3491.1,2095.4L3489.4,2104.7L3486.3,2114.6L3482.4,2125.0L3478.1,2135.6L3474.2,2146.0" fill="none" stroke="#262626" stroke-width="5"/>
<path d="M3490.5,1795.6L3493.5,1802.4L3495.1,1810.0L3495.1,1818.3L3493.4,1827.5L3490.3,1837.4L3486.4,1847.7L3482.1,1858.2L3478.2,1868.5L3475.2,1878.3L3473.6,1887.5L3473.6,1895.8L3475.3,1903.3L3478.4,1910.1L3482.4,1916.4L3486.7,1922.6L3490.7,1929.0L3493.7,1935.8L3495.3,1943.3L3495.3,1951.7L3493.6,1960.9L3490.6,1970.7L3486.6,1981.1L3482.3,1991.6L3478.4,2001.9L3475.4,2011.7L3473.8,2020.8L3473.9,2029.1L3475.6,2036.6L3478.6,2043.4L3482.6,2049.8L3486.9,2056.0L3490.9,2062.3L3493.9,2069.2L3495.5,2076.7L3495.5,2085.1L3493.8,2094.2L3490.8,2104.1L3486.8,2114.4L3482.5,2124.9L3478.6,2135.2L3495.6,2122.2L3499.5,2111.9L3503.8,2101.4L3507.8,2091.1L3510.8,2081.2L3512.5,2072.1L3512.5,2063.7L3510.9,2056.2L3507.9,2049.3L3503.9,2043.0L3499.6,2036.8L3495.6,2030.4L3492.6,2023.6L3490.9,2016.1L3490.8,2007.8L3492.4,1998.7L3495.4,1988.9L3499.3,1978.6L3503.6,1968.1L3507.6,1957.7L3510.6,1947.9L3512.3,1938.7L3512.3,1930.3L3510.7,1922.8L3507.7,1916.0L3503.7,1909.6L3499.4,1903.4L3495.4,1897.1L3492.3,1890.3L3490.6,1882.8L3490.6,1874.5L3492.2,1865.3L3495.2,1855.5L3499.1,1845.2L3503.4,1834.7L3507.3,1824.4L3510.4,1814.5L3512.1,1805.3L3512.1,1797.0L3510.5,1789.4L3507.5,1782.6Z" fill="#0b0b0b"/>
<path d="M3508.5,1782.6L3511.5,1789.4L3513.1,1797.0L3513.1,1805.3L3511.4,1814.5L3508.3,1824.4L3504.4,1834.7L3500.1,1845.2L3496.2,1855.5L3493.2,1865.3L3491.6,1874.5L3491.6,1882.8L3493.3,1890.3L3496.4,1897.1L3500.4,1903.4L3504.7,1909.6L3508.7,1916.0L3511.7,1922.8L3513.3,1930.3L3513.3,1938.7L3511.6,1947.9L3508.6,1957.7L3504.6,1968.1L3500.3,1978.6L3496.4,1988.9L3493.4,1998.7L3491.8,2007.8L3491.9,2016.1L3493.6,2023.6L3496.6,2030.4L3500.6,2036.8L3504.9,2043.0L3508.9,2049.3L3511.9,2056.2L3513.5,2063.7L3513.5,2072.1L3511.8,2081.2L3508.8,2091.1L3504.8,2101.4L3500.5,2111.9L3496.6,2122.2" fill="none" stroke="#313131" stroke-width="5"/>
<path d="M3512.5,1780.6L3515.5,1787.4L3517.1,1795.0L3517.1,1803.3L3515.4,1812.5L3512.3,1822.4L3508.4,1832.7L3504.1,1843.2L3500.2,1853.5L3497.2,1863.3L3495.6,1872.5L3495.6,1880.8L3497.3,1888.3L3500.4,1895.1L3504.4,1901.4L3508.7,1907.6L3512.7,1914.0L3515.7,1920.8L3517.3,1928.3L3517.3,1936.7L3515.6,1945.9L3512.6,1955.7L3508.6,1966.1L3504.3,1976.6L3500.4,1986.9L3497.4,1996.7L3495.8,2005.8L3495.9,2014.1L3497.6,2021.6L3500.6,2028.4L3504.6,2034.8L3508.9,2041.0L3512.9,2047.3L3515.9,2054.2L3517.5,2061.7L3517.5,2070.1L3515.8,2079.2L3512.8,2089.1L3508.8,2099.4L3504.5,2109.9L3500.6,2120.2" fill="none" stroke="#262626" stroke-width="5"/>
<path d="M3517.2,1773.2L3520.2,1779.9L3521.8,1787.4L3521.8,1795.7L3520.1,1804.8L3517.0,1814.5L3513.0,1824.8L3508.8,1835.2L3504.8,1845.4L3501.8,1855.2L3500.2,1864.2L3500.3,1872.4L3502.0,1879.8L3505.0,1886.6L3509.0,1892.8L3513.3,1898.9L3517.3,1905.2L3520.3,1912.0L3521.9,1919.4L3521.9,1927.7L3520.2,1936.8L3517.1,1946.6L3513.1,1956.8L3508.8,1967.2L3504.9,1977.4L3501.9,1987.2L3500.3,1996.3L3500.4,2004.5L3502.1,2011.9L3505.1,2018.6L3509.1,2024.9L3513.4,2031.0L3517.4,2037.3L3520.4,2044.0L3522.0,2051.5L3521.9,2059.7L3520.3,2068.8L3517.2,2078.6L3513.2,2088.9L3508.9,2099.3L3505.0,2109.5L3522.0,2096.5L3525.9,2086.3L3530.2,2075.9L3534.2,2065.6L3537.3,2055.8L3538.9,2046.7L3539.0,2038.5L3537.4,2031.0L3534.4,2024.3L3530.4,2018.0L3526.1,2011.9L3522.1,2005.6L3519.1,1998.9L3517.4,1991.5L3517.3,1983.3L3518.9,1974.2L3521.9,1964.4L3525.8,1954.2L3530.1,1943.8L3534.1,1933.6L3537.2,1923.8L3538.9,1914.7L3538.9,1906.4L3537.3,1899.0L3534.3,1892.2L3530.3,1885.9L3526.0,1879.8L3522.0,1873.6L3519.0,1866.8L3517.3,1859.4L3517.2,1851.2L3518.8,1842.2L3521.8,1832.4L3525.8,1822.2L3530.0,1811.8L3534.0,1801.5L3537.1,1791.8L3538.8,1782.7L3538.8,1774.4L3537.2,1766.9L3534.2,1760.2Z" fill="#0b0b0b"/>
<path d="M3535.2,1760.2L3538.2,1766.9L3539.8,1774.4L3539.8,1782.7L3538.1,1791.8L3535.0,1801.5L3531.0,1811.8L3526.8,1822.2L3522.8,1832.4L3519.8,1842.2L3518.2,1851.2L3518.3,1859.4L3520.0,1866.8L3523.0,1873.6L3527.0,1879.8L3531.3,1885.9L3535.3,1892.2L3538.3,1899.0L3539.9,1906.4L3539.9,1914.7L3538.2,1923.8L3535.1,1933.6L3531.1,1943.8L3526.8,1954.2L3522.9,1964.4L3519.9,1974.2L3518.3,1983.3L3518.4,1991.5L3520.1,1998.9L3523.1,2005.6L3527.1,2011.9L3531.4,2018.0L3535.4,2024.3L3538.4,2031.0L3540.0,2038.5L3539.9,2046.7L3538.3,2055.8L3535.2,2065.6L3531.2,2075.9L3526.9,2086.3L3523.0,2096.5" fill="none" stroke="#313131" stroke-width="5"/>
<path d="M3539.2,1758.2L3542.2,1764.9L3543.8,1772.4L3543.8,1780.7L3542.1,1789.8L3539.0,1799.5L3535.0,1809.8L3530.8,1820.2L3526.8,1830.4L3523.8,1840.2L3522.2,1849.2L3522.3,1857.4L3524.0,1864.8L3527.0,1871.6L3531.0,1877.8L3535.3,1883.9L3539.3,1890.2L3542.3,1897.0L3543.9,1904.4L3543.9,1912.7L3542.2,1921.8L3539.1,1931.6L3535.1,1941.8L3530.8,1952.2L3526.9,1962.4L3523.9,1972.2L3522.3,1981.3L3522.4,1989.5L3524.1,1996.9L3527.1,2003.6L3531.1,2009.9L3535.4,2016.0L3539.4,2022.3L3542.4,2029.0L3544.0,2036.5L3543.9,2044.7L3542.3,2053.8L3539.2,2063.6L3535.2,2073.9L3530.9,2084.3L3527.0,2094.5" fill="none" stroke="#262626" stroke-width="5"/>
</g>
<path d="M3348.0,1886.0L3366.0,1898.0L3368.0,2246.0L3358.0,2290.0L3350.0,2300.0Z" fill="#141414"/>
<path d="M3528.0,1762.0L3541.0,1750.0L3541.0,2097.0L3528.0,2090.0Z" fill="#131313"/>
<path d="M3532,1760V2092" stroke="#3a3a3a" stroke-width="2" fill="none"/>
<path d="M3364,2240L3534,2100" stroke="#6a6a6a" stroke-width="7" fill="none"/>
<path d="M3364,2243L3534,2103" stroke="#222" stroke-width="2" fill="none"/>
<path d="M3368.0,2246.0L3528.0,2096.0L3516.0,2124.0L3471.0,2146.0L3409.0,2217.0L3407.0,2252.0L3372.0,2262.0Z" fill="#232323"/>
<path d="M2905.0,1641.0L2958.7,1632.0L3014.6,1616.6L3086.0,1591.8L3129.5,1576.3L3179.0,1548.3L3196.0,1540.0L3300.0,1520.0L3400.0,1598.0L3424.5,1613.5L3458.7,1641.5L3474.2,1666.3L3539.4,1706.7L3541.0,1730.0L3352.0,1888.0Z" fill="#2e2e2e"/>
<path d="M3014.0,1617.0L3086.0,1592.0L3130.0,1576.0L3179.0,1548.0L3192.0,1541.0L3192.0,1590.0L3100.0,1625.0L3040.0,1640.0Z" fill="#262626"/>
<path d="M3010.0,1628.0L3060.0,1612.0L3095.0,1622.0L3045.0,1640.0Z" fill="#151515"/>
<path d="M3062.0,1606.0L3115.0,1588.0L3150.0,1598.0L3098.0,1616.0Z" fill="#151515"/>
<path d="M3112.0,1584.0L3160.0,1566.0L3188.0,1578.0L3145.0,1594.0Z" fill="#151515"/>
<path d="M2925.0,1652.0L2990.0,1688.0L3290.0,1856.0L3345.0,1880.0L3352.0,1888.0L2905.0,1641.0Z" fill="#2a2a2a"/>
<path d="M2992.0,1686.0L3033.0,1652.0L3188.0,1640.0L3300.0,1721.0L3340.0,1857.0L3288.0,1852.0Z" fill="#303030"/>
<path d="M3300.0,1721.0L3401.0,1666.0L3470.0,1668.0L3535.0,1706.0L3500.0,1790.0L3396.0,1860.0L3340.0,1857.0Z" fill="#444444"/>
<path d="M3300.0,1721.0L3340.0,1857.0L3352.0,1850.0L3312.0,1722.0Z" fill="#555555"/>
<path d="M3300,1721L3340,1857" stroke="#0d0d0d" stroke-width="2.5" fill="none"/>
<path d="M3312,1722L3352,1850" stroke="#0d0d0d" stroke-width="2" fill="none"/>
<clipPath id="ffclip"><path d="M2890,1560L3320,1560L3300,1721L3340,1857L3346,1892L2890,1650Z"/></clipPath>
<g clip-path="url(#ffclip)">
<path d="M2992.9,1686.5L3033.2,1652.4L3038.2,1655.4L3014.9,1684.5L3001.9,1690.5Z" fill="#3f3f3f" stroke="#0c0c0c" stroke-width="1.6"/>
<path d="M3014.9,1684.5L3038.2,1655.4L3063.2,1666.4L3026.9,1692.5Z" fill="#272727"/>
<path d="M3027.0,1703.6L3083.0,1644.6L3088.0,1647.6L3049.0,1701.6L3036.0,1707.6Z" fill="#3f3f3f" stroke="#0c0c0c" stroke-width="1.6"/>
<path d="M3049.0,1701.6L3088.0,1647.6L3113.0,1658.6L3061.0,1709.6Z" fill="#272727"/>
<path d="M3058.0,1725.3L3135.7,1635.3L3140.7,1638.3L3080.0,1723.3L3067.0,1729.3Z" fill="#3f3f3f" stroke="#0c0c0c" stroke-width="1.6"/>
<path d="M3080.0,1723.3L3140.7,1638.3L3165.7,1649.3L3092.0,1731.3Z" fill="#272727"/>
<path d="M3092.2,1744.0L3166.8,1649.3L3171.8,1652.3L3114.2,1742.0L3101.2,1748.0Z" fill="#3f3f3f" stroke="#0c0c0c" stroke-width="1.6"/>
<path d="M3114.2,1742.0L3171.8,1652.3L3196.8,1663.3L3126.2,1750.0Z" fill="#272727"/>
<path d="M3123.3,1762.6L3204.0,1669.4L3209.0,1672.4L3145.3,1760.6L3132.3,1766.6Z" fill="#3f3f3f" stroke="#0c0c0c" stroke-width="1.6"/>
<path d="M3145.3,1760.6L3209.0,1672.4L3234.0,1683.4L3157.3,1768.6Z" fill="#272727"/>
<path d="M3157.5,1781.2L3235.1,1691.2L3240.1,1694.2L3179.5,1779.2L3166.5,1785.2Z" fill="#3f3f3f" stroke="#0c0c0c" stroke-width="1.6"/>
<path d="M3179.5,1779.2L3240.1,1694.2L3265.1,1705.2L3191.5,1787.2Z" fill="#272727"/>
<path d="M3188.5,1799.9L3267.7,1711.4L3272.7,1714.4L3210.5,1797.9L3197.5,1803.9Z" fill="#3f3f3f" stroke="#0c0c0c" stroke-width="1.6"/>
<path d="M3210.5,1797.9L3272.7,1714.4L3297.7,1725.4L3222.5,1805.9Z" fill="#272727"/>
<path d="M3221.1,1818.5L3297.2,1728.4L3302.2,1731.4L3243.1,1816.5L3230.1,1822.5Z" fill="#3f3f3f" stroke="#0c0c0c" stroke-width="1.6"/>
<path d="M3243.1,1816.5L3302.2,1731.4L3327.2,1742.4L3255.1,1824.5Z" fill="#272727"/>
<path d="M3253.7,1835.6L3312.7,1775.0L3317.7,1778.0L3275.7,1833.6L3262.7,1839.6Z" fill="#3f3f3f" stroke="#0c0c0c" stroke-width="1.6"/>
<path d="M3275.7,1833.6L3317.7,1778.0L3342.7,1789.0L3287.7,1841.6Z" fill="#272727"/>
<path d="M3286.3,1854.2L3325.2,1821.6L3330.2,1824.6L3308.3,1852.2L3295.3,1858.2Z" fill="#3f3f3f" stroke="#0c0c0c" stroke-width="1.6"/>
<path d="M3308.3,1852.2L3330.2,1824.6L3355.2,1835.6L3320.3,1860.2Z" fill="#272727"/>
</g>
<path d="M3319.0,1759.5L3325.0,1755.5L3399.6,1826.0L3396.6,1834.0L3388.6,1836.0Z" fill="#171717" stroke="#0a0a0a" stroke-width="1.2"/>
<path d="M3325.0,1755.5L3341.0,1747.5L3410.6,1818.0L3399.6,1826.0Z" fill="#525252"/>
<path d="M3359.3,1697.4L3365.3,1693.4L3443.0,1785.7L3440.0,1793.7L3432.0,1795.7Z" fill="#171717" stroke="#0a0a0a" stroke-width="1.2"/>
<path d="M3365.3,1693.4L3381.3,1685.4L3454.0,1777.7L3443.0,1785.7Z" fill="#525252"/>
<path d="M3393.5,1678.8L3399.5,1674.8L3474.0,1757.7L3471.0,1765.7L3463.0,1767.7Z" fill="#171717" stroke="#0a0a0a" stroke-width="1.2"/>
<path d="M3399.5,1674.8L3415.5,1666.8L3485.0,1749.7L3474.0,1757.7Z" fill="#525252"/>
<path d="M3424.5,1657.0L3430.5,1653.0L3502.0,1708.0L3499.0,1716.0L3491.0,1718.0Z" fill="#171717" stroke="#0a0a0a" stroke-width="1.2"/>
<path d="M3430.5,1653.0L3446.5,1645.0L3513.0,1700.0L3502.0,1708.0Z" fill="#525252"/>
<path d="M3188.0,1660.0L3300.0,1721.0L3401.0,1666.0L3400.0,1640.0L3190.0,1632.0Z" fill="#2d2d2d" stroke="#0c0c0c" stroke-width="1.5"/>
<path d="M3195.5,1567L3188.4,1640A106,58 0 0 0 3400,1632L3395.5,1566Z" fill="url(#flg)" stroke="#0a0a0a" stroke-width="2"/>
<ellipse cx="3295.2" cy="1567.5" rx="100" ry="58.5" fill="#2a2a2a" stroke="#0a0a0a" stroke-width="2"/>
<ellipse cx="3295.2" cy="1569" rx="94" ry="54" fill="url(#fli)" stroke="#0a0a0a" stroke-width="1.5"/>
<clipPath id="flueclip3"><ellipse cx="3295.2" cy="1569" rx="93" ry="53"/></clipPath>
<g clip-path="url(#flueclip3)">
<path d="M3213.0,1588.0L3228.0,1567.0L3285.0,1558.0L3371.0,1604.0L3320.0,1623.0L3240.0,1612.0Z" fill="#585858" stroke="#111" stroke-width="1.5"/>
<path d="M3228.0,1569.0L3236.0,1565.0L3308.0,1610.0L3298.0,1615.0Z" fill="#3a3a3a" stroke="#111" stroke-width="1.2"/>
<circle cx="3292" cy="1605" r="3" fill="#111"/>
</g>
<path d="M3274.0,1667.0L3280.0,1667.0L3282.0,1695.0L3273.0,1695.0Z" fill="#6a6a6a" stroke="#111" stroke-width="1"/>
<path d="M3309.0,1667.0L3315.0,1667.0L3317.0,1695.0L3308.0,1695.0Z" fill="#6a6a6a" stroke="#111" stroke-width="1"/>
<path d="M3289.0,1692.0L3299.0,1692.0L3298.0,1722.0L3291.0,1722.0Z" fill="#555" stroke="#111" stroke-width="1"/>
<path d="M3368,1655L3440,1698L3500,1740" stroke="#1d1d1d" stroke-width="8" fill="none" stroke-linecap="round"/>
<path d="M3368,1653L3440,1696L3500,1738" stroke="#4a4a4a" stroke-width="2.5" fill="none" stroke-linecap="round"/>
<path d="M3505.0,1742.0L3520.0,1728.0L3534.0,1730.0L3536.0,1775.0L3512.0,1788.0Z" fill="#1a1a1a" stroke="#0a0a0a" stroke-width="1.5"/>
<circle cx="3523" cy="1754" r="7" fill="#777" stroke="#111"/>
<path d="M3535.0,1760.0L3552.0,1768.0L3552.0,1790.0L3538.0,1794.0Z" fill="#2a2a2a" stroke="#0a0a0a" stroke-width="1.2"/>
<path d="M3341,1880L3609,1725" stroke="#3a3a3a" stroke-width="6.5" fill="none" stroke-linecap="round"/>
<path d="M3341,1879.5L3609,1724.5" stroke="#9c9c9c" stroke-width="3.6" fill="none" stroke-linecap="round"/>
<ellipse cx="2932" cy="1643" rx="19" ry="11" fill="#161616" stroke="#070707" stroke-width="2"/>
<ellipse cx="2932" cy="1641" rx="10" ry="6" fill="#555" stroke="#111"/>
<rect x="2929" y="1633" width="6" height="8" fill="#666" stroke="#111"/>
<ellipse cx="3363" cy="1892" rx="19" ry="11" fill="#161616" stroke="#070707" stroke-width="2"/>
<ellipse cx="3363" cy="1890" rx="10" ry="6" fill="#555" stroke="#111"/>
<rect x="3360" y="1882" width="6" height="8" fill="#666" stroke="#111"/>
<path d="M2881.0,1637.0L3354.0,1890.0L3356.0,2336.0L2872.0,2063.0L2872.0,1668.0Z" fill="#0d0d0d"/>
<path d="M2881.0,1637.0L2890.0,1633.0L3360.0,1884.0L3354.0,1890.0Z" fill="#1b1b1b"/>
<path d="M2871.0,1670.8L2886.5,1655.3L2928.4,1679.6L2921.8,1686.2L2899.7,1691.7L2874.3,1681.8Z" fill="#2a2a2a" stroke="#050505" stroke-width="1.2"/>
<path d="M2874.3,1681.8L2899.7,1691.7L2921.8,1686.2L2921.8,1697.0L2899.7,1703.0L2874.3,1693.0Z" fill="#161616" stroke="#050505" stroke-width="1"/>
<path d="M2906.0,1679.0L3331.0,1911.2L3331.0,1932.5L2906.0,1700.0Z" fill="#323232"/>
<path d="M3296.0,1950.0L3331.0,1943.0L3333.0,2312.0L3298.0,2290.0Z" fill="#161616"/>
<path d="M3331.0,1931.0L3337.0,1928.0L3339.0,2318.0L3333.0,2312.0Z" fill="#242424"/>
<path d="M2880.0,2040.0L2913.0,2036.0L3294.0,2254.0L3298.0,2292.0L2880.0,2056.0Z" fill="#121212"/>
<path d="M2874.0,2058.0L3356.0,2330.0L3356.0,2337.0L2872.0,2064.0Z" fill="#1e1e1e"/>
<path d="M2884.0,1700.0L2913.0,1716.0L2913.0,2036.0L2884.0,2042.0Z" fill="#111111"/>
<path d="M2906.0,1722.0L2918.0,1732.0L2913.5,2035.0L2906.0,2032.0Z" fill="#202020"/>
<path d="M2918,1732L3293.5,1947V2253L2913.5,2035Z" fill="url(#glg)"/>
<g clip-path="url(#glassclip)" filter="url(#b3)">
<path d="M2910.0,1722.0L3300.0,1945.0L3300.0,1962.0L2910.0,1739.0Z" fill="#0c0c0c"/>
<path d="M2900.0,2044.0L3039.0,1987.0L3198.0,1937.0L3310.0,1978.0L3310.0,2270.0L2900.0,2040.0Z" fill="#383838"/>
<path d="M3075.0,2010.0L3200.0,1960.0L3295.0,2000.0L3295.0,2140.0L3230.0,2120.0Z" fill="#454545"/>
<ellipse cx="3120" cy="2010" rx="6" ry="3.5" fill="#2a2a2a"/>
<ellipse cx="3146" cy="2021" rx="6" ry="3.5" fill="#2a2a2a"/>
<ellipse cx="3172" cy="2032" rx="6" ry="3.5" fill="#2a2a2a"/>
<ellipse cx="3198" cy="2043" rx="6" ry="3.5" fill="#2a2a2a"/>
<ellipse cx="3224" cy="2054" rx="6" ry="3.5" fill="#2a2a2a"/>
<ellipse cx="3250" cy="2065" rx="6" ry="3.5" fill="#2a2a2a"/>
<ellipse cx="3276" cy="2076" rx="6" ry="3.5" fill="#2a2a2a"/>
<ellipse cx="3128" cy="2032" rx="6" ry="3.5" fill="#2a2a2a"/>
<ellipse cx="3154" cy="2043" rx="6" ry="3.5" fill="#2a2a2a"/>
<ellipse cx="3180" cy="2054" rx="6" ry="3.5" fill="#2a2a2a"/>
<ellipse cx="3206" cy="2065" rx="6" ry="3.5" fill="#2a2a2a"/>
<ellipse cx="3232" cy="2076" rx="6" ry="3.5" fill="#2a2a2a"/>
<ellipse cx="3258" cy="2087" rx="6" ry="3.5" fill="#2a2a2a"/>
<ellipse cx="3284" cy="2098" rx="6" ry="3.5" fill="#2a2a2a"/>
<ellipse cx="3136" cy="2054" rx="6" ry="3.5" fill="#2a2a2a"/>
<ellipse cx="3162" cy="2065" rx="6" ry="3.5" fill="#2a2a2a"/>
<ellipse cx="3188" cy="2076" rx="6" ry="3.5" fill="#2a2a2a"/>
<ellipse cx="3214" cy="2087" rx="6" ry="3.5" fill="#2a2a2a"/>
<ellipse cx="3240" cy="2098" rx="6" ry="3.5" fill="#2a2a2a"/>
<ellipse cx="3266" cy="2109" rx="6" ry="3.5" fill="#2a2a2a"/>
<ellipse cx="3144" cy="2076" rx="6" ry="3.5" fill="#2a2a2a"/>
<ellipse cx="3170" cy="2087" rx="6" ry="3.5" fill="#2a2a2a"/>
<ellipse cx="3196" cy="2098" rx="6" ry="3.5" fill="#2a2a2a"/>
<ellipse cx="3222" cy="2109" rx="6" ry="3.5" fill="#2a2a2a"/>
<ellipse cx="3248" cy="2120" rx="6" ry="3.5" fill="#2a2a2a"/>
<ellipse cx="3274" cy="2131" rx="6" ry="3.5" fill="#2a2a2a"/>
<ellipse cx="3152" cy="2098" rx="6" ry="3.5" fill="#2a2a2a"/>
<ellipse cx="3178" cy="2109" rx="6" ry="3.5" fill="#2a2a2a"/>
<ellipse cx="3204" cy="2120" rx="6" ry="3.5" fill="#2a2a2a"/>
<ellipse cx="3230" cy="2131" rx="6" ry="3.5" fill="#2a2a2a"/>
<ellipse cx="3256" cy="2142" rx="6" ry="3.5" fill="#2a2a2a"/>
<ellipse cx="3282" cy="2153" rx="6" ry="3.5" fill="#2a2a2a"/>
<ellipse cx="3160" cy="2120" rx="6" ry="3.5" fill="#2a2a2a"/>
<ellipse cx="3186" cy="2131" rx="6" ry="3.5" fill="#2a2a2a"/>
<ellipse cx="3212" cy="2142" rx="6" ry="3.5" fill="#2a2a2a"/>
<ellipse cx="3238" cy="2153" rx="6" ry="3.5" fill="#2a2a2a"/>
<ellipse cx="3264" cy="2164" rx="6" ry="3.5" fill="#2a2a2a"/>
<path d="M2957,1984L3030,2022" stroke="#1a1a1a" stroke-width="20" fill="none"/>
<path d="M3024.0,1999.0L3061.0,2008.0L3061.0,2084.0L3040.0,2080.0L3024.0,2060.0Z" fill="#171717"/>
<path d="M3061,2062L3232,2152" stroke="#222" stroke-width="22" fill="none"/>
<path d="M3228.0,2123.0L3268.0,2138.0L3268.0,2200.0L3240.0,2198.0L3228.0,2180.0Z" fill="#161616"/>
<circle cx="3062" cy="2003" r="4" fill="#999"/><circle cx="3069" cy="2038" r="4" fill="#999"/>
</g>
<path d="M2918,1732L3293.5,1947V2253L2913.5,2035Z" fill="none" stroke="#070707" stroke-width="2.5"/>
<path d="M2916,2033L3292,2249" fill="none" stroke="#4a4a4a" stroke-width="1.5"/>
<path d="M3276.0,2163.0L3290.0,2148.0L3310.0,2143.0L3313.0,2158.0L3296.0,2166.0L3292.0,2236.0L3280.0,2240.0Z" fill="#c9c9c2" stroke="#222" stroke-width="1.5"/>
<path d="M3284.0,2166.0L3290.0,2160.0L3288.0,2236.0L3284.0,2238.0Z" fill="#8e8e88"/>
<path d="M3300.0,2120.0L3326.0,2108.0L3334.0,2128.0L3312.0,2150.0Z" fill="#1c1c1c" stroke="#060606" stroke-width="1.2"/>
<path d="M3292.0,1900.0L3308.0,1892.0L3314.0,1902.0L3298.0,1911.0Z" fill="#d8d8d0" stroke="#222" stroke-width="1.2"/>
<ellipse cx="3295" cy="1906" rx="5" ry="7" fill="#b8b8b0" stroke="#222"/>
<ellipse cx="3090" cy="2192" rx="7" ry="8" fill="#b5b5ad" stroke="#222" stroke-width="1.2"/>
</g>
</g>
</svg>
</body></html>
